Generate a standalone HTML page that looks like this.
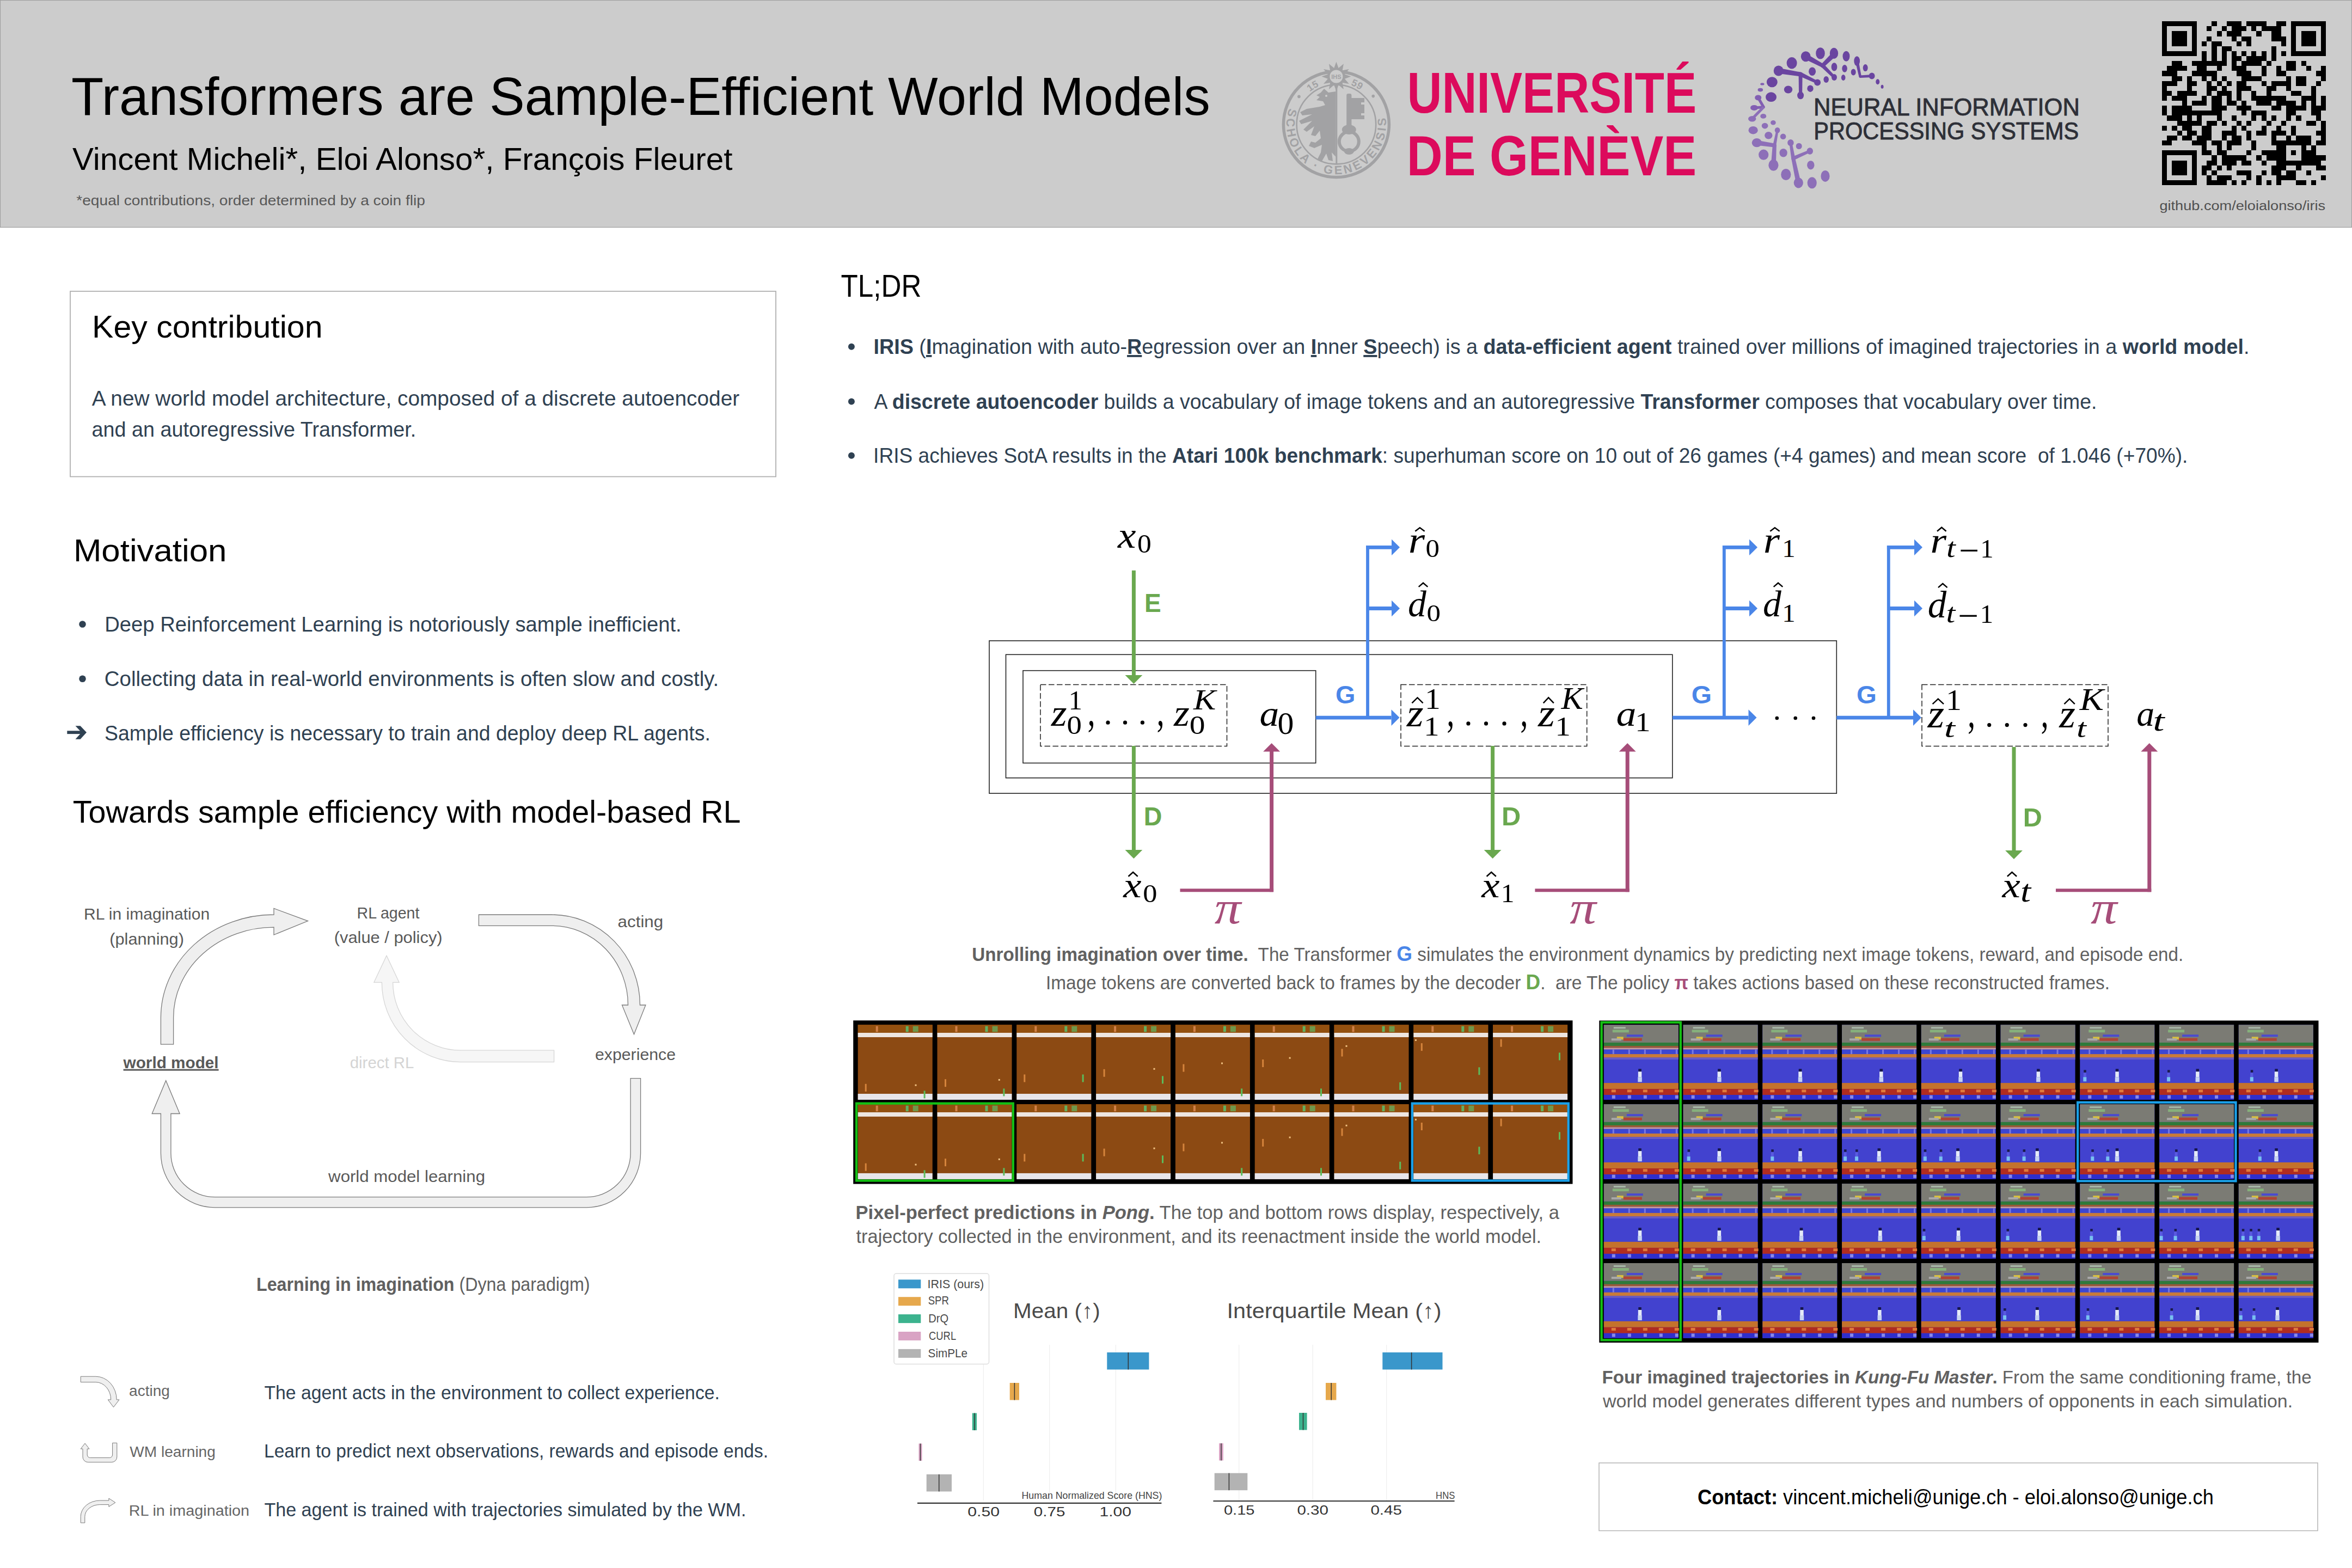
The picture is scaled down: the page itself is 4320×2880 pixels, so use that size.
<!DOCTYPE html>
<html><head><meta charset="utf-8"><title>Transformers are Sample-Efficient World Models</title>
<style>
html,body{margin:0;padding:0;background:#fff;}
body{width:4320px;height:2880px;overflow:hidden;}
svg{display:block;font-family:'Liberation Sans', Arial, sans-serif;}
</style></head><body>
<svg width="4320" height="2880" viewBox="0 0 4320 2880">
<rect x="0.5" y="0.5" width="4319.0" height="417.0" fill="#cccccc" stroke="#a0a0a0" stroke-width="1.2"/>
<text x="131.0" y="211.0" font-size="98.62" fill="#000" textLength="2091.9" lengthAdjust="spacingAndGlyphs">Transformers are Sample-Efficient World Models</text>
<text x="132.9" y="311.9" font-size="57.60" fill="#000" textLength="1212.6" lengthAdjust="spacingAndGlyphs">Vincent Micheli*, Eloi Alonso*, François Fleuret</text>
<text x="140.3" y="376.9" font-size="25.75" fill="#585858" textLength="640.6" lengthAdjust="spacingAndGlyphs">*equal contributions, order determined by a coin flip</text>
<text x="3966.4" y="386.0" font-size="23.85" fill="#505050" textLength="304.8" lengthAdjust="spacingAndGlyphs">github.com/eloialonso/iris</text>
<text x="2584.4" y="207.0" font-size="106.18" fill="#dc0a5c" textLength="531.7" lengthAdjust="spacingAndGlyphs" font-weight="bold">UNIVERSITÉ</text>
<text x="2583.8" y="322.0" font-size="104.00" fill="#dc0a5c" textLength="532.4" lengthAdjust="spacingAndGlyphs" font-weight="bold">DE GENÈVE</text>
<text x="3331.1" y="211.5" font-size="43.49" fill="#2e3038" textLength="488.8" lengthAdjust="spacingAndGlyphs" stroke="#2e3038" stroke-width="0.9">NEURAL INFORMATION</text>
<text x="3331.3" y="256.4" font-size="43.49" fill="#2e3038" textLength="486.9" lengthAdjust="spacingAndGlyphs" stroke="#2e3038" stroke-width="0.9">PROCESSING SYSTEMS</text>
<circle cx="2454.4" cy="228.6" r="97" fill="none" stroke="#a2a2a4" stroke-width="5.5"/>
<circle cx="2454.4" cy="228.6" r="72.8" fill="none" stroke="#a2a2a4" stroke-width="2.6"/>
<defs><path id="sealp" d="M2367.9 198.8A91.5 91.5 0 1 0 2539.8 195.8"/><path id="sealt" d="M2395.4 179.1A77 77 0 0 1 2513.4 179.1"/></defs>
<text font-size="22" font-weight="bold" fill="#a2a2a4"><textPath href="#sealp" textLength="330" lengthAdjust="spacing">SCHOLA · GENEVENSIS</textPath></text>
<text font-size="18" font-weight="bold" fill="#a2a2a4"><textPath href="#sealt" startOffset="11%">15</textPath></text>
<text font-size="18" font-weight="bold" fill="#a2a2a4"><textPath href="#sealt" startOffset="70%">59</textPath></text>
<circle cx="2385.9" cy="177.4" r="2.8" fill="#a2a2a4"/>
<circle cx="2522.2" cy="176.6" r="2.8" fill="#a2a2a4"/>
<polygon points="2454.4,113.6 2458.5,125.1 2467.9,117.2 2465.7,129.3 2477.8,127.1 2469.9,136.5 2481.4,140.6 2469.9,144.7 2477.8,154.1 2465.7,151.9 2467.9,164.0 2458.5,156.1 2454.4,167.6 2450.3,156.1 2440.9,164.0 2443.1,151.9 2431.0,154.1 2438.9,144.7 2427.4,140.6 2438.9,136.5 2431.0,127.1 2443.1,129.3 2440.9,117.2 2450.3,125.1" fill="#a2a2a4"/>
<circle cx="2454.4" cy="140.6" r="13" fill="#cccccc" stroke="#a2a2a4" stroke-width="2"/>
<text x="2454.4" y="145.1" font-size="11.0" fill="#a2a2a4" font-weight="bold" text-anchor="middle">IHS</text>
<line x1="2454.8" y1="160.0" x2="2454.8" y2="300.0" stroke="#a2a2a4" stroke-width="3" />
<path d="M2453.5 168L2440 170L2432 163L2426 170L2418 175L2424 178L2418 184L2430 186L2434 193L2424 196L2400 200L2388 206L2392 212L2410 210L2386 222L2390 228L2410 222L2394 238L2400 242L2414 232L2408 248L2416 250L2424 240L2426 254L2416 262L2408 260L2404 268L2414 272L2428 266L2426 280L2420 292L2428 296L2436 282L2440 294L2448 296L2446 280L2453.5 288Z" fill="#a2a2a4"/>
<circle cx="2436" cy="176" r="2" fill="#cccccc"/>
<rect x="2473.2" y="172.0" width="9.2" height="62.0" fill="#a2a2a4" rx="3"/>
<path d="M2482 180H2506V188H2500V192H2506V208H2500V212H2506V219H2482Z" fill="#a2a2a4"/>
<circle cx="2477.8" cy="260" r="18" fill="none" stroke="#a2a2a4" stroke-width="6"/>
<ellipse cx="2477.8" cy="238" rx="13" ry="9" fill="#a2a2a4"/>
<ellipse cx="2477.8" cy="278" rx="9" ry="6" fill="#a2a2a4"/>
<ellipse cx="3343.5" cy="97.9" rx="8.3" ry="10.7" fill="#6a45a0"/>
<ellipse cx="3368.5" cy="97.9" rx="7.7" ry="10.1" fill="#6a45a0"/>
<ellipse cx="3316.7" cy="103.8" rx="8.9" ry="9.5" fill="#6a45a0"/>
<ellipse cx="3291.1" cy="115.7" rx="9.5" ry="10.7" fill="#6a45a0"/>
<ellipse cx="3391" cy="103.2" rx="6.5" ry="9.5" fill="#6a45a0"/>
<ellipse cx="3328.6" cy="131.2" rx="6.5" ry="7.7" fill="#6a45a0"/>
<ellipse cx="3369" cy="122.9" rx="5.4" ry="7.7" fill="#6a45a0"/>
<ellipse cx="3388.1" cy="125.8" rx="4.8" ry="6.9" fill="#6a45a0"/>
<ellipse cx="3410.7" cy="112.1" rx="5.4" ry="8.9" fill="#6a45a0"/>
<ellipse cx="3426.2" cy="124.6" rx="4.5" ry="6.5" fill="#6a45a0"/>
<ellipse cx="3404.2" cy="132.4" rx="4.5" ry="6" fill="#6a45a0"/>
<ellipse cx="3385.7" cy="142.5" rx="3.8" ry="5.4" fill="#6a45a0"/>
<ellipse cx="3354.2" cy="146.1" rx="4.8" ry="6" fill="#6a45a0"/>
<ellipse cx="3369" cy="141.9" rx="5" ry="6" fill="#6a45a0"/>
<ellipse cx="3438.1" cy="139.5" rx="5.5" ry="6" fill="#6a45a0"/>
<ellipse cx="3448.8" cy="150.2" rx="3.5" ry="5" fill="#6a45a0"/>
<ellipse cx="3457.1" cy="159.2" rx="2.5" ry="3.5" fill="#6a45a0"/>
<ellipse cx="3266.7" cy="130" rx="9" ry="9.5" fill="#6a45a0"/>
<ellipse cx="3338.1" cy="151.4" rx="6" ry="6" fill="#6a45a0"/>
<ellipse cx="3307.1" cy="175.2" rx="6" ry="7" fill="#6a45a0"/>
<ellipse cx="3254.8" cy="150.8" rx="10" ry="9.5" fill="#6a45a0"/>
<ellipse cx="3284.5" cy="164.5" rx="7.7" ry="7.1" fill="#6a45a0"/>
<ellipse cx="3325" cy="162.7" rx="5.7" ry="6.2" fill="#6a45a0"/>
<ellipse cx="3253" cy="178.2" rx="10" ry="8.9" fill="#6a45a0"/>
<ellipse cx="3236.9" cy="154.4" rx="3.6" ry="2.1" fill="#825fb3"/>
<ellipse cx="3233.3" cy="165.1" rx="4.8" ry="3.3" fill="#825fb3"/>
<ellipse cx="3229.2" cy="179.4" rx="6" ry="5" fill="#825fb3"/>
<ellipse cx="3222" cy="197.9" rx="7" ry="5" fill="#825fb3"/>
<ellipse cx="3218.2" cy="218.2" rx="7.2" ry="5.3" fill="#8d6fb8"/>
<ellipse cx="3238.7" cy="213.4" rx="5.5" ry="4.3" fill="#8d6fb8"/>
<ellipse cx="3256.9" cy="225.3" rx="4.8" ry="4.3" fill="#8d6fb8"/>
<ellipse cx="3241.6" cy="231.1" rx="5.9" ry="5.3" fill="#8d6fb8"/>
<ellipse cx="3220.1" cy="239.2" rx="8.6" ry="7.2" fill="#8d6fb8"/>
<ellipse cx="3264.6" cy="239.2" rx="4.8" ry="5.3" fill="#8d6fb8"/>
<ellipse cx="3248.3" cy="248.8" rx="7.2" ry="6.7" fill="#8d6fb8"/>
<ellipse cx="3275.1" cy="250.7" rx="5.3" ry="5.3" fill="#8d6fb8"/>
<ellipse cx="3226.8" cy="262.2" rx="9.1" ry="8.1" fill="#8d6fb8"/>
<ellipse cx="3239.2" cy="284.2" rx="9.1" ry="9.6" fill="#8d6fb8"/>
<ellipse cx="3257.4" cy="303.3" rx="9.1" ry="10.5" fill="#8d6fb8"/>
<ellipse cx="3275.6" cy="280.8" rx="7.2" ry="7.7" fill="#8d6fb8"/>
<ellipse cx="3288.9" cy="262.2" rx="5.7" ry="6.2" fill="#8d6fb8"/>
<ellipse cx="3304.2" cy="268.4" rx="5.5" ry="5.7" fill="#8d6fb8"/>
<ellipse cx="3324.3" cy="277.5" rx="5.7" ry="6.2" fill="#8d6fb8"/>
<ellipse cx="3280.3" cy="320.5" rx="9.1" ry="10.5" fill="#8d6fb8"/>
<ellipse cx="3303.3" cy="335.8" rx="8.6" ry="9.6" fill="#8d6fb8"/>
<ellipse cx="3325.8" cy="303.3" rx="6.7" ry="8.1" fill="#8d6fb8"/>
<ellipse cx="3328.2" cy="335.8" rx="8.6" ry="10.5" fill="#8d6fb8"/>
<ellipse cx="3352.5" cy="323.4" rx="8.1" ry="10.5" fill="#8d6fb8"/>
<polygon points="3314.3,108.2 3345.9,123.6 3349.3,117.4 3319.1,99.4" fill="#6a45a0"/>
<circle cx="3347.6" cy="120.5" r="3.5" fill="#6a45a0"/>
<polygon points="3365.3,96.8 3345.1,118.0 3350.1,123.0 3371.7,103.2" fill="#6a45a0"/>
<circle cx="3347.6" cy="120.5" r="3.5" fill="#6a45a0"/>
<polygon points="3345.1,123.0 3367.2,143.7 3370.8,140.1 3350.1,118.0" fill="#6a45a0"/>
<circle cx="3369.0" cy="141.9" r="2.5" fill="#6a45a0"/>
<polygon points="3407.8,112.7 3414.5,141.2 3418.9,140.2 3413.6,111.5" fill="#6a45a0"/>
<circle cx="3416.7" cy="140.7" r="2.2" fill="#6a45a0"/>
<polygon points="3416.8,142.9 3438.2,142.0 3438.0,137.0 3416.6,138.5" fill="#6a45a0"/>
<circle cx="3438.1" cy="139.5" r="2.5" fill="#6a45a0"/>
<polygon points="3265.9,134.9 3306.5,140.4 3307.7,132.6 3267.5,125.1" fill="#6a45a0"/>
<circle cx="3307.1" cy="136.5" r="4.0" fill="#6a45a0"/>
<polygon points="3305.4,140.1 3337.0,153.7 3339.2,149.1 3308.8,132.9" fill="#6a45a0"/>
<circle cx="3338.1" cy="151.4" r="2.5" fill="#6a45a0"/>
<polygon points="3303.6,136.5 3304.1,175.2 3310.1,175.2 3310.6,136.5" fill="#6a45a0"/>
<circle cx="3307.1" cy="175.2" r="3.0" fill="#6a45a0"/>
<polygon points="3227.0,180.7 3237.1,198.0 3241.5,195.4 3231.4,178.1" fill="#825fb3"/>
<circle cx="3239.3" cy="196.7" r="2.5" fill="#825fb3"/>
<polygon points="3239.1,194.2 3221.8,195.4 3222.2,200.4 3239.5,199.2" fill="#825fb3"/>
<circle cx="3222.0" cy="197.9" r="2.5" fill="#825fb3"/>
<polygon points="3237.5,194.9 3216.4,216.4 3220.0,220.0 3241.1,198.5" fill="#8d6fb8"/>
<circle cx="3218.2" cy="218.2" r="2.5" fill="#8d6fb8"/>
<polygon points="3226.2,266.7 3258.8,270.4 3259.8,263.4 3227.4,257.7" fill="#8d6fb8"/>
<circle cx="3259.3" cy="266.9" r="3.5" fill="#8d6fb8"/>
<polygon points="3262.6,238.8 3256.4,266.3 3262.2,267.5 3266.6,239.6" fill="#8d6fb8"/>
<circle cx="3259.3" cy="266.9" r="3.0" fill="#8d6fb8"/>
<polygon points="3255.8,266.7 3252.9,303.1 3261.9,303.5 3262.8,267.1" fill="#8d6fb8"/>
<circle cx="3257.4" cy="303.3" r="4.5" fill="#8d6fb8"/>
<polygon points="3286.4,262.6 3290.2,291.5 3297.2,290.3 3291.4,261.8" fill="#8d6fb8"/>
<circle cx="3293.7" cy="290.9" r="3.5" fill="#8d6fb8"/>
<polygon points="3295.1,294.1 3325.3,279.8 3323.3,275.2 3292.3,287.7" fill="#8d6fb8"/>
<circle cx="3324.3" cy="277.5" r="2.5" fill="#8d6fb8"/>
<polygon points="3290.3,291.6 3298.9,336.7 3307.7,334.9 3297.1,290.2" fill="#8d6fb8"/>
<circle cx="3303.3" cy="335.8" r="4.5" fill="#8d6fb8"/>
<path d="M3971.20 39.20h63.84v9.12h-63.84zM4062.40 39.20h9.12v9.12h-9.12zM4089.76 39.20h27.36v9.12h-27.36zM4126.24 39.20h36.48v9.12h-36.48zM4180.96 39.20h18.24v9.12h-18.24zM4208.32 39.20h63.84v9.12h-63.84zM3971.20 48.32h9.12v9.12h-9.12zM4025.92 48.32h9.12v9.12h-9.12zM4053.28 48.32h9.12v9.12h-9.12zM4080.64 48.32h9.12v9.12h-9.12zM4098.88 48.32h27.36v9.12h-27.36zM4135.36 48.32h9.12v9.12h-9.12zM4153.60 48.32h36.48v9.12h-36.48zM4208.32 48.32h9.12v9.12h-9.12zM4263.04 48.32h9.12v9.12h-9.12zM3971.20 57.44h9.12v9.12h-9.12zM3989.44 57.44h27.36v9.12h-27.36zM4025.92 57.44h9.12v9.12h-9.12zM4071.52 57.44h9.12v9.12h-9.12zM4089.76 57.44h27.36v9.12h-27.36zM4144.48 57.44h9.12v9.12h-9.12zM4171.84 57.44h18.24v9.12h-18.24zM4208.32 57.44h9.12v9.12h-9.12zM4226.56 57.44h27.36v9.12h-27.36zM4263.04 57.44h9.12v9.12h-9.12zM3971.20 66.56h9.12v9.12h-9.12zM3989.44 66.56h27.36v9.12h-27.36zM4025.92 66.56h9.12v9.12h-9.12zM4053.28 66.56h9.12v9.12h-9.12zM4098.88 66.56h9.12v9.12h-9.12zM4117.12 66.56h18.24v9.12h-18.24zM4171.84 66.56h27.36v9.12h-27.36zM4208.32 66.56h9.12v9.12h-9.12zM4226.56 66.56h27.36v9.12h-27.36zM4263.04 66.56h9.12v9.12h-9.12zM3971.20 75.68h9.12v9.12h-9.12zM3989.44 75.68h27.36v9.12h-27.36zM4025.92 75.68h9.12v9.12h-9.12zM4044.16 75.68h9.12v9.12h-9.12zM4062.40 75.68h18.24v9.12h-18.24zM4108.00 75.68h9.12v9.12h-9.12zM4126.24 75.68h9.12v9.12h-9.12zM4190.08 75.68h9.12v9.12h-9.12zM4208.32 75.68h9.12v9.12h-9.12zM4226.56 75.68h27.36v9.12h-27.36zM4263.04 75.68h9.12v9.12h-9.12zM3971.20 84.80h9.12v9.12h-9.12zM4025.92 84.80h9.12v9.12h-9.12zM4062.40 84.80h9.12v9.12h-9.12zM4080.64 84.80h18.24v9.12h-18.24zM4171.84 84.80h9.12v9.12h-9.12zM4208.32 84.80h9.12v9.12h-9.12zM4263.04 84.80h9.12v9.12h-9.12zM3971.20 93.92h63.84v9.12h-63.84zM4044.16 93.92h9.12v9.12h-9.12zM4062.40 93.92h9.12v9.12h-9.12zM4080.64 93.92h9.12v9.12h-9.12zM4098.88 93.92h9.12v9.12h-9.12zM4117.12 93.92h9.12v9.12h-9.12zM4135.36 93.92h9.12v9.12h-9.12zM4153.60 93.92h9.12v9.12h-9.12zM4171.84 93.92h9.12v9.12h-9.12zM4190.08 93.92h9.12v9.12h-9.12zM4208.32 93.92h63.84v9.12h-63.84zM4044.16 103.04h9.12v9.12h-9.12zM4062.40 103.04h9.12v9.12h-9.12zM4080.64 103.04h9.12v9.12h-9.12zM4098.88 103.04h18.24v9.12h-18.24zM4126.24 103.04h36.48v9.12h-36.48zM4171.84 103.04h9.12v9.12h-9.12zM3989.44 112.16h18.24v9.12h-18.24zM4025.92 112.16h63.84v9.12h-63.84zM4098.88 112.16h9.12v9.12h-9.12zM4117.12 112.16h36.48v9.12h-36.48zM4162.72 112.16h9.12v9.12h-9.12zM4199.20 112.16h18.24v9.12h-18.24zM4226.56 112.16h9.12v9.12h-9.12zM3980.32 121.28h36.48v9.12h-36.48zM4035.04 121.28h18.24v9.12h-18.24zM4071.52 121.28h9.12v9.12h-9.12zM4098.88 121.28h27.36v9.12h-27.36zM4153.60 121.28h9.12v9.12h-9.12zM4180.96 121.28h9.12v9.12h-9.12zM4199.20 121.28h18.24v9.12h-18.24zM4235.68 121.28h9.12v9.12h-9.12zM4263.04 121.28h9.12v9.12h-9.12zM3971.20 130.40h27.36v9.12h-27.36zM4025.92 130.40h45.60v9.12h-45.60zM4108.00 130.40h27.36v9.12h-27.36zM4153.60 130.40h9.12v9.12h-9.12zM4180.96 130.40h18.24v9.12h-18.24zM4253.92 130.40h18.24v9.12h-18.24zM3989.44 139.52h18.24v9.12h-18.24zM4016.80 139.52h9.12v9.12h-9.12zM4044.16 139.52h9.12v9.12h-9.12zM4062.40 139.52h9.12v9.12h-9.12zM4080.64 139.52h9.12v9.12h-9.12zM4117.12 139.52h36.48v9.12h-36.48zM4199.20 139.52h9.12v9.12h-9.12zM4217.44 139.52h18.24v9.12h-18.24zM4263.04 139.52h9.12v9.12h-9.12zM3971.20 148.64h27.36v9.12h-27.36zM4016.80 148.64h18.24v9.12h-18.24zM4053.28 148.64h9.12v9.12h-9.12zM4071.52 148.64h9.12v9.12h-9.12zM4089.76 148.64h9.12v9.12h-9.12zM4108.00 148.64h18.24v9.12h-18.24zM4153.60 148.64h9.12v9.12h-9.12zM4171.84 148.64h36.48v9.12h-36.48zM4217.44 148.64h18.24v9.12h-18.24zM4253.92 148.64h9.12v9.12h-9.12zM3971.20 157.76h9.12v9.12h-9.12zM4016.80 157.76h9.12v9.12h-9.12zM4053.28 157.76h18.24v9.12h-18.24zM4080.64 157.76h9.12v9.12h-9.12zM4108.00 157.76h27.36v9.12h-27.36zM4162.72 157.76h18.24v9.12h-18.24zM4199.20 157.76h9.12v9.12h-9.12zM4244.80 157.76h9.12v9.12h-9.12zM3971.20 166.88h18.24v9.12h-18.24zM3998.56 166.88h36.48v9.12h-36.48zM4053.28 166.88h9.12v9.12h-9.12zM4071.52 166.88h27.36v9.12h-27.36zM4108.00 166.88h9.12v9.12h-9.12zM4135.36 166.88h9.12v9.12h-9.12zM4162.72 166.88h9.12v9.12h-9.12zM4208.32 166.88h18.24v9.12h-18.24zM4244.80 166.88h9.12v9.12h-9.12zM3971.20 176.00h9.12v9.12h-9.12zM3989.44 176.00h27.36v9.12h-27.36zM4044.16 176.00h9.12v9.12h-9.12zM4062.40 176.00h18.24v9.12h-18.24zM4089.76 176.00h9.12v9.12h-9.12zM4108.00 176.00h9.12v9.12h-9.12zM4135.36 176.00h63.84v9.12h-63.84zM4226.56 176.00h27.36v9.12h-27.36zM4263.04 176.00h9.12v9.12h-9.12zM4007.68 185.12h9.12v9.12h-9.12zM4025.92 185.12h27.36v9.12h-27.36zM4062.40 185.12h18.24v9.12h-18.24zM4089.76 185.12h18.24v9.12h-18.24zM4117.12 185.12h9.12v9.12h-9.12zM4144.48 185.12h27.36v9.12h-27.36zM4180.96 185.12h36.48v9.12h-36.48zM4226.56 185.12h9.12v9.12h-9.12zM4244.80 185.12h9.12v9.12h-9.12zM4263.04 185.12h9.12v9.12h-9.12zM3971.20 194.24h9.12v9.12h-9.12zM3989.44 194.24h36.48v9.12h-36.48zM4062.40 194.24h27.36v9.12h-27.36zM4108.00 194.24h27.36v9.12h-27.36zM4171.84 194.24h18.24v9.12h-18.24zM4199.20 194.24h36.48v9.12h-36.48zM4244.80 194.24h27.36v9.12h-27.36zM3971.20 203.36h9.12v9.12h-9.12zM3989.44 203.36h91.20v9.12h-91.20zM4117.12 203.36h9.12v9.12h-9.12zM4135.36 203.36h27.36v9.12h-27.36zM4199.20 203.36h18.24v9.12h-18.24zM4244.80 203.36h18.24v9.12h-18.24zM3980.32 212.48h27.36v9.12h-27.36zM4016.80 212.48h9.12v9.12h-9.12zM4035.04 212.48h9.12v9.12h-9.12zM4071.52 212.48h9.12v9.12h-9.12zM4098.88 212.48h9.12v9.12h-9.12zM4135.36 212.48h9.12v9.12h-9.12zM4153.60 212.48h9.12v9.12h-9.12zM4171.84 212.48h9.12v9.12h-9.12zM4199.20 212.48h9.12v9.12h-9.12zM4217.44 212.48h9.12v9.12h-9.12zM4253.92 212.48h9.12v9.12h-9.12zM3998.56 221.60h45.60v9.12h-45.60zM4053.28 221.60h18.24v9.12h-18.24zM4080.64 221.60h9.12v9.12h-9.12zM4108.00 221.60h9.12v9.12h-9.12zM4126.24 221.60h9.12v9.12h-9.12zM4162.72 221.60h9.12v9.12h-9.12zM4190.08 221.60h9.12v9.12h-9.12zM4235.68 221.60h18.24v9.12h-18.24zM4263.04 221.60h9.12v9.12h-9.12zM3971.20 230.72h9.12v9.12h-9.12zM3989.44 230.72h9.12v9.12h-9.12zM4007.68 230.72h18.24v9.12h-18.24zM4044.16 230.72h18.24v9.12h-18.24zM4098.88 230.72h9.12v9.12h-9.12zM4117.12 230.72h9.12v9.12h-9.12zM4153.60 230.72h9.12v9.12h-9.12zM4180.96 230.72h9.12v9.12h-9.12zM4208.32 230.72h9.12v9.12h-9.12zM4263.04 230.72h9.12v9.12h-9.12zM3998.56 239.84h9.12v9.12h-9.12zM4016.80 239.84h18.24v9.12h-18.24zM4044.16 239.84h18.24v9.12h-18.24zM4080.64 239.84h27.36v9.12h-27.36zM4126.24 239.84h9.12v9.12h-9.12zM4144.48 239.84h18.24v9.12h-18.24zM4171.84 239.84h27.36v9.12h-27.36zM4208.32 239.84h9.12v9.12h-9.12zM4253.92 239.84h18.24v9.12h-18.24zM3980.32 248.96h18.24v9.12h-18.24zM4007.68 248.96h18.24v9.12h-18.24zM4035.04 248.96h27.36v9.12h-27.36zM4080.64 248.96h9.12v9.12h-9.12zM4098.88 248.96h18.24v9.12h-18.24zM4126.24 248.96h9.12v9.12h-9.12zM4171.84 248.96h9.12v9.12h-9.12zM4199.20 248.96h9.12v9.12h-9.12zM4217.44 248.96h27.36v9.12h-27.36zM4263.04 248.96h9.12v9.12h-9.12zM3971.20 258.08h18.24v9.12h-18.24zM4025.92 258.08h27.36v9.12h-27.36zM4062.40 258.08h18.24v9.12h-18.24zM4089.76 258.08h27.36v9.12h-27.36zM4135.36 258.08h9.12v9.12h-9.12zM4171.84 258.08h72.96v9.12h-72.96zM4253.92 258.08h18.24v9.12h-18.24zM4044.16 267.20h9.12v9.12h-9.12zM4071.52 267.20h9.12v9.12h-9.12zM4089.76 267.20h9.12v9.12h-9.12zM4135.36 267.20h9.12v9.12h-9.12zM4180.96 267.20h18.24v9.12h-18.24zM4226.56 267.20h9.12v9.12h-9.12zM4244.80 267.20h9.12v9.12h-9.12zM3971.20 276.32h63.84v9.12h-63.84zM4044.16 276.32h18.24v9.12h-18.24zM4071.52 276.32h18.24v9.12h-18.24zM4126.24 276.32h9.12v9.12h-9.12zM4153.60 276.32h45.60v9.12h-45.60zM4208.32 276.32h9.12v9.12h-9.12zM4226.56 276.32h27.36v9.12h-27.36zM3971.20 285.44h9.12v9.12h-9.12zM4025.92 285.44h9.12v9.12h-9.12zM4062.40 285.44h9.12v9.12h-9.12zM4080.64 285.44h45.60v9.12h-45.60zM4144.48 285.44h9.12v9.12h-9.12zM4162.72 285.44h36.48v9.12h-36.48zM4226.56 285.44h45.60v9.12h-45.60zM3971.20 294.56h9.12v9.12h-9.12zM3989.44 294.56h27.36v9.12h-27.36zM4025.92 294.56h9.12v9.12h-9.12zM4053.28 294.56h18.24v9.12h-18.24zM4080.64 294.56h27.36v9.12h-27.36zM4117.12 294.56h18.24v9.12h-18.24zM4153.60 294.56h9.12v9.12h-9.12zM4180.96 294.56h82.08v9.12h-82.08zM3971.20 303.68h9.12v9.12h-9.12zM3989.44 303.68h27.36v9.12h-27.36zM4025.92 303.68h9.12v9.12h-9.12zM4044.16 303.68h18.24v9.12h-18.24zM4071.52 303.68h9.12v9.12h-9.12zM4089.76 303.68h9.12v9.12h-9.12zM4171.84 303.68h27.36v9.12h-27.36zM4217.44 303.68h9.12v9.12h-9.12zM4253.92 303.68h18.24v9.12h-18.24zM3971.20 312.80h9.12v9.12h-9.12zM3989.44 312.80h27.36v9.12h-27.36zM4025.92 312.80h9.12v9.12h-9.12zM4044.16 312.80h9.12v9.12h-9.12zM4062.40 312.80h9.12v9.12h-9.12zM4108.00 312.80h27.36v9.12h-27.36zM4153.60 312.80h9.12v9.12h-9.12zM4171.84 312.80h18.24v9.12h-18.24zM4199.20 312.80h18.24v9.12h-18.24zM4235.68 312.80h9.12v9.12h-9.12zM3971.20 321.92h9.12v9.12h-9.12zM4025.92 321.92h9.12v9.12h-9.12zM4053.28 321.92h9.12v9.12h-9.12zM4071.52 321.92h27.36v9.12h-27.36zM4126.24 321.92h9.12v9.12h-9.12zM4144.48 321.92h9.12v9.12h-9.12zM4180.96 321.92h36.48v9.12h-36.48zM4263.04 321.92h9.12v9.12h-9.12zM3971.20 331.04h63.84v9.12h-63.84zM4053.28 331.04h36.48v9.12h-36.48zM4098.88 331.04h9.12v9.12h-9.12zM4117.12 331.04h9.12v9.12h-9.12zM4144.48 331.04h9.12v9.12h-9.12zM4162.72 331.04h9.12v9.12h-9.12zM4180.96 331.04h9.12v9.12h-9.12zM4217.44 331.04h18.24v9.12h-18.24zM4244.80 331.04h9.12v9.12h-9.12z" fill="#000" shape-rendering="crispEdges"/>
<rect x="129.0" y="535.0" width="1296.0" height="340.5" fill="#fff" stroke="#b0b0b0" stroke-width="1.8"/>
<text x="169.1" y="620.0" font-size="57.89" fill="#000" textLength="423.4" lengthAdjust="spacingAndGlyphs">Key contribution</text>
<text x="168.8" y="744.9" font-size="39.27" fill="#2f4152" textLength="1189.4" lengthAdjust="spacingAndGlyphs">A new world model architecture, composed of a discrete autoencoder</text>
<text x="168.6" y="802.1" font-size="39.27" fill="#2f4152" textLength="595.7" lengthAdjust="spacingAndGlyphs">and an autoregressive Transformer.</text>
<text x="134.9" y="1030.8" font-size="57.60" fill="#000" textLength="281.6" lengthAdjust="spacingAndGlyphs">Motivation</text>
<text x="192.2" y="1159.8" font-size="38.69" fill="#2f4152" textLength="1059.5" lengthAdjust="spacingAndGlyphs">Deep Reinforcement Learning is notoriously sample inefficient.</text>
<text x="191.8" y="1260.1" font-size="38.69" fill="#2f4152" textLength="1128.5" lengthAdjust="spacingAndGlyphs">Collecting data in real-world environments is often slow and costly.</text>
<text x="192.0" y="1360.4" font-size="38.69" fill="#2f4152" textLength="1112.8" lengthAdjust="spacingAndGlyphs">Sample efficiency is necessary to train and deploy deep RL agents.</text>
<circle cx="151.5" cy="1146.5" r="6.3" fill="#2f4152"/>
<circle cx="151.5" cy="1246.8" r="6.3" fill="#2f4152"/>
<rect x="123.3" y="1342.3" width="28.0" height="5.8" fill="#2f4152"/>
<path d="M138.5 1333.2L147.5 1333.2L159 1345.2L147.5 1357.8L138.5 1357.8L149.8 1345.2Z" fill="#2f4152"/>
<text x="133.8" y="1510.8" font-size="57.60" fill="#000" textLength="1226.7" lengthAdjust="spacingAndGlyphs">Towards sample efficiency with model-based RL</text>
<text x="1544.6" y="544.5" font-size="56.44" fill="#000" textLength="147.8" lengthAdjust="spacingAndGlyphs">TL;DR</text>
<text x="1604.5" y="650.0" font-size="38.84" fill="#2f4152" textLength="2527.0" lengthAdjust="spacingAndGlyphs"><tspan font-weight="bold">IRIS</tspan> (<tspan text-decoration="underline" font-weight="bold">I</tspan>magination with auto-<tspan text-decoration="underline" font-weight="bold">R</tspan>egression over an <tspan text-decoration="underline" font-weight="bold">I</tspan>nner <tspan text-decoration="underline" font-weight="bold">S</tspan>peech) is a <tspan font-weight="bold">data-efficient agent</tspan> trained over millions of imagined trajectories in a <tspan font-weight="bold">world model</tspan>.</text>
<circle cx="1563.9" cy="636.8" r="6" fill="#2f4152"/>
<text x="1605.5" y="750.6" font-size="38.84" fill="#2f4152" textLength="2245.9" lengthAdjust="spacingAndGlyphs">A <tspan font-weight="bold">discrete autoencoder</tspan> builds a vocabulary of image tokens and an autoregressive <tspan font-weight="bold">Transformer</tspan> composes that vocabulary over time.</text>
<circle cx="1563.9" cy="737.4" r="6" fill="#2f4152"/>
<text x="1604.1" y="850.0" font-size="38.84" fill="#2f4152" textLength="2414.3" lengthAdjust="spacingAndGlyphs" xml:space="preserve">IRIS achieves SotA results in the <tspan font-weight="bold">Atari 100k benchmark</tspan>: superhuman score on 10 out of 26 games (+4 games) and mean score  of 1.046 (+70%).</text>
<circle cx="1563.9" cy="836.8" r="6" fill="#2f4152"/>
<rect x="2937.0" y="2687.0" width="1320.0" height="124.5" fill="#fff" stroke="#b4b4b4" stroke-width="1.5"/>
<text x="3118.0" y="2763.4" font-size="38.11" fill="#000" textLength="947.9" lengthAdjust="spacingAndGlyphs"><tspan font-weight="bold">Contact:</tspan> vincent.micheli@unige.ch - eloi.alonso@unige.ch</text>
<path d="M295.4 1918.2L295.4 1869A207.6 189 0 0 1 503 1680L503 1668.5L565.5 1691.6L503 1717L503 1703.2A184.4 165.8 0 0 0 318.6 1869L318.6 1918.2Z" fill="#efefef" stroke="#7a7a7a" stroke-width="1.3"/>
<path d="M879.4 1680L1013.6 1680A161.9 166 0 0 1 1175.5 1846L1185.9 1846L1164.5 1899.7L1142.5 1846L1153.5 1846A140 145.7 0 0 0 1013.6 1700.3L879.4 1700.3Z" fill="#efefef" stroke="#7a7a7a" stroke-width="1.3"/>
<path d="M1017.6 1929.2L845.9 1929.2A124.3 124.9 0 0 1 721.6 1804.3L733.1 1804.3L710 1755.2L686.9 1804.3L701.3 1804.3A144.6 146.3 0 0 0 845.9 1950.6L1017.6 1950.6Z" fill="#f6f6f6" stroke="#d6d6d6" stroke-width="1.3"/>
<path d="M1158.1 1980.7L1176.6 1980.7L1176.6 2118A99.6 99.8 0 0 1 1077 2217.8L394.9 2217.8A99.5 99.8 0 0 1 295.4 2118L295.4 2045.5L279.2 2045.5L304.7 1984.7L330.1 2045.5L313.9 2045.5L313.9 2118A81 80.7 0 0 0 394.9 2198.7L1077 2198.7A81.1 80.7 0 0 0 1158.1 2118Z" fill="#efefef" stroke="#7a7a7a" stroke-width="1.3"/>
<text x="154.1" y="1688.7" font-size="30.11" fill="#595959" textLength="231.1" lengthAdjust="spacingAndGlyphs">RL in imagination</text>
<text x="201.3" y="1735.0" font-size="30.11" fill="#595959" textLength="136.6" lengthAdjust="spacingAndGlyphs">(planning)</text>
<text x="655.5" y="1686.6" font-size="30.11" fill="#595959" textLength="114.9" lengthAdjust="spacingAndGlyphs">RL agent</text>
<text x="613.7" y="1731.9" font-size="30.11" fill="#595959" textLength="198.9" lengthAdjust="spacingAndGlyphs">(value / policy)</text>
<text x="1134.6" y="1702.5" font-size="30.11" fill="#595959" textLength="83.6" lengthAdjust="spacingAndGlyphs">acting</text>
<text x="1093.0" y="1947.4" font-size="30.11" fill="#595959" textLength="148.0" lengthAdjust="spacingAndGlyphs">experience</text>
<text x="226.6" y="1961.6" font-size="30.11" fill="#595959" textLength="175.0" lengthAdjust="spacingAndGlyphs" font-weight="bold" text-decoration="underline">world model</text>
<text x="642.7" y="1961.6" font-size="30.11" fill="#d4d4d4" textLength="117.7" lengthAdjust="spacingAndGlyphs">direct RL</text>
<text x="603.1" y="2171.0" font-size="30.11" fill="#595959" textLength="287.9" lengthAdjust="spacingAndGlyphs">world model learning</text>
<text x="471.0" y="2370.7" font-size="34.18" fill="#606060" textLength="612.5" lengthAdjust="spacingAndGlyphs"><tspan font-weight="bold">Learning in imagination</tspan> (Dyna paradigm)</text>
<path d="M148.2 2528.2L175.9 2528.2A38.3 42.7 0 0 1 214.2 2570.9L219 2570.9L208.5 2584.6L198.3 2570.9L203.7 2570.9A27.8 32.2 0 0 0 175.9 2538.7L148.2 2538.7Z" fill="#efefef" stroke="#7a7a7a" stroke-width="1"/>
<path d="M206.6 2650.3L214.8 2650.3L214.8 2676A9.7 9.7 0 0 1 205.1 2685.7L161.7 2685.7A9.7 9.7 0 0 1 152 2676L152 2661.2L148.2 2661.2L156.1 2651L164 2661.2L160.2 2661.2L160.2 2672A5.5 5.5 0 0 0 165.7 2677.5L201.1 2677.5A5.5 5.5 0 0 0 206.6 2672Z" fill="#efefef" stroke="#7a7a7a" stroke-width="1"/>
<path d="M148.2 2797L148.2 2785.6A35.4 29.6 0 0 1 183.6 2756L199.9 2756L199.9 2752L211.9 2759.8L199.9 2767.4L199.9 2763.6L183.6 2763.6A27.8 22 0 0 0 155.8 2785.6L155.8 2797Z" fill="#efefef" stroke="#7a7a7a" stroke-width="1"/>
<text x="237.1" y="2564.0" font-size="27.93" fill="#666666" textLength="74.8" lengthAdjust="spacingAndGlyphs">acting</text>
<text x="238.2" y="2676.0" font-size="27.93" fill="#666666" textLength="157.7" lengthAdjust="spacingAndGlyphs">WM learning</text>
<text x="236.7" y="2784.0" font-size="27.93" fill="#666666" textLength="221.4" lengthAdjust="spacingAndGlyphs">RL in imagination</text>
<text x="485.4" y="2569.5" font-size="35.20" fill="#2f4152" textLength="836.5" lengthAdjust="spacingAndGlyphs">The agent acts in the environment to collect experience.</text>
<text x="485.0" y="2676.8" font-size="35.20" fill="#2f4152" textLength="926.0" lengthAdjust="spacingAndGlyphs">Learn to predict next observations, rewards and episode ends.</text>
<text x="485.4" y="2785.4" font-size="35.20" fill="#2f4152" textLength="885.0" lengthAdjust="spacingAndGlyphs">The agent is trained with trajectories simulated by the WM.</text>
<rect x="1817.0" y="1176.9" width="1556.3" height="280.3" fill="none" stroke="#222" stroke-width="1.6"/>
<rect x="1847.5" y="1202.3" width="1224.3" height="226.5" fill="none" stroke="#222" stroke-width="1.6"/>
<rect x="1879.0" y="1231.7" width="537.7" height="169.8" fill="none" stroke="#222" stroke-width="1.6"/>
<rect x="1911.0" y="1257.5" width="342.5" height="113.0" fill="none" stroke="#222" stroke-width="1.5" stroke-dasharray="10.5 4.5"/>
<rect x="2573.0" y="1257.5" width="341.7" height="113.0" fill="none" stroke="#222" stroke-width="1.5" stroke-dasharray="10.5 4.5"/>
<rect x="3530.0" y="1257.5" width="342.0" height="113.0" fill="none" stroke="#222" stroke-width="1.5" stroke-dasharray="10.5 4.5"/>
<line x1="2082.4" y1="1047.7" x2="2082.4" y2="1240.0" stroke="#6aa84f" stroke-width="7" />
<path d="M2066.5 1240.0L2098.3 1240.0L2082.4 1256.0Z" fill="#6aa84f"/>
<line x1="2082.4" y1="1370.0" x2="2082.4" y2="1561.0" stroke="#6aa84f" stroke-width="7" />
<path d="M2066.5 1561.0L2098.3 1561.0L2082.4 1577.0Z" fill="#6aa84f"/>
<line x1="2741.6" y1="1370.0" x2="2741.6" y2="1561.0" stroke="#6aa84f" stroke-width="7" />
<path d="M2725.7 1561.0L2757.5 1561.0L2741.6 1577.0Z" fill="#6aa84f"/>
<line x1="3699.0" y1="1372.0" x2="3699.0" y2="1562.0" stroke="#6aa84f" stroke-width="7" />
<path d="M3683.1 1562.0L3714.9 1562.0L3699.0 1578.0Z" fill="#6aa84f"/>
<line x1="2416.7" y1="1318.1" x2="2555.5" y2="1318.1" stroke="#4a86e8" stroke-width="6.8" />
<path d="M2555.5 1303.3L2555.5 1332.9L2570.5 1318.1Z" fill="#4a86e8"/>
<line x1="2512.0" y1="1321.0" x2="2512.0" y2="1002.0" stroke="#4a86e8" stroke-width="5.8" />
<line x1="2509.1" y1="1005.3" x2="2556.0" y2="1005.3" stroke="#4a86e8" stroke-width="6.8" />
<path d="M2556.0 990.5L2556.0 1020.1L2571.0 1005.3Z" fill="#4a86e8"/>
<line x1="2512.0" y1="1117.5" x2="2556.0" y2="1117.5" stroke="#4a86e8" stroke-width="6.8" />
<path d="M2556.0 1102.7L2556.0 1132.3L2571.0 1117.5Z" fill="#4a86e8"/>
<line x1="3071.8" y1="1318.1" x2="3211.5" y2="1318.1" stroke="#4a86e8" stroke-width="6.8" />
<path d="M3211.5 1303.3L3211.5 1332.9L3226.5 1318.1Z" fill="#4a86e8"/>
<line x1="3166.8" y1="1321.0" x2="3166.8" y2="1002.0" stroke="#4a86e8" stroke-width="5.8" />
<line x1="3163.9" y1="1005.3" x2="3213.0" y2="1005.3" stroke="#4a86e8" stroke-width="6.8" />
<path d="M3213.0 990.5L3213.0 1020.1L3228.0 1005.3Z" fill="#4a86e8"/>
<line x1="3166.8" y1="1117.5" x2="3213.0" y2="1117.5" stroke="#4a86e8" stroke-width="6.8" />
<path d="M3213.0 1102.7L3213.0 1132.3L3228.0 1117.5Z" fill="#4a86e8"/>
<line x1="3373.3" y1="1318.1" x2="3514.0" y2="1318.1" stroke="#4a86e8" stroke-width="6.8" />
<path d="M3514.0 1303.3L3514.0 1332.9L3529.0 1318.1Z" fill="#4a86e8"/>
<line x1="3468.8" y1="1321.0" x2="3468.8" y2="1002.0" stroke="#4a86e8" stroke-width="5.8" />
<line x1="3465.9" y1="1005.3" x2="3516.0" y2="1005.3" stroke="#4a86e8" stroke-width="6.8" />
<path d="M3516.0 990.5L3516.0 1020.1L3531.0 1005.3Z" fill="#4a86e8"/>
<line x1="3468.8" y1="1117.5" x2="3516.0" y2="1117.5" stroke="#4a86e8" stroke-width="6.8" />
<path d="M3516.0 1102.7L3516.0 1132.3L3531.0 1117.5Z" fill="#4a86e8"/>
<line x1="2167.5" y1="1635.3" x2="2339.1" y2="1635.3" stroke="#a64d79" stroke-width="6" />
<line x1="2335.6" y1="1638.3" x2="2335.6" y2="1380.0" stroke="#a64d79" stroke-width="7" />
<path d="M2320.1 1380.6L2351.1 1380.6L2335.6 1365Z" fill="#a64d79"/>
<line x1="2819.4" y1="1635.3" x2="2992.7" y2="1635.3" stroke="#a64d79" stroke-width="6" />
<line x1="2989.2" y1="1638.3" x2="2989.2" y2="1380.0" stroke="#a64d79" stroke-width="7" />
<path d="M2973.7 1380.6L3004.7 1380.6L2989.2 1365Z" fill="#a64d79"/>
<line x1="3776.0" y1="1635.3" x2="3951.3" y2="1635.3" stroke="#a64d79" stroke-width="6" />
<line x1="3947.8" y1="1638.3" x2="3947.8" y2="1380.0" stroke="#a64d79" stroke-width="7" />
<path d="M3932.3 1380.6L3963.3 1380.6L3947.8 1365Z" fill="#a64d79"/>
<text x="2101.9" y="1123.8" font-size="48.29" fill="#6aa84f" textLength="30.7" lengthAdjust="spacingAndGlyphs" font-weight="bold">E</text>
<text x="2100.8" y="1515.8" font-size="48.29" fill="#6aa84f" textLength="33.7" lengthAdjust="spacingAndGlyphs" font-weight="bold">D</text>
<text x="2757.9" y="1515.8" font-size="48.29" fill="#6aa84f" textLength="35.3" lengthAdjust="spacingAndGlyphs" font-weight="bold">D</text>
<text x="3715.7" y="1518.0" font-size="48.29" fill="#6aa84f" textLength="35.1" lengthAdjust="spacingAndGlyphs" font-weight="bold">D</text>
<text x="2452.9" y="1291.8" font-size="45.82" fill="#4a86e8" textLength="36.4" lengthAdjust="spacingAndGlyphs" font-weight="bold">G</text>
<text x="3106.7" y="1291.5" font-size="45.82" fill="#4a86e8" textLength="37.3" lengthAdjust="spacingAndGlyphs" font-weight="bold">G</text>
<text x="3410.1" y="1291.5" font-size="45.82" fill="#4a86e8" textLength="36.9" lengthAdjust="spacingAndGlyphs" font-weight="bold">G</text>
<circle cx="3263.8" cy="1319" r="3.3" fill="#000"/>
<circle cx="3297.7" cy="1319" r="3.3" fill="#000"/>
<circle cx="3331" cy="1319" r="3.3" fill="#000"/>
<text x="2053.0" y="1005.9" font-size="67.4" fill="#000" font-family="'Liberation Serif', 'Times New Roman', serif" font-style="italic" textLength="33.5" lengthAdjust="spacingAndGlyphs">x</text>
<text x="2089.1" y="1015.3" font-size="48.7" fill="#000" font-family="'Liberation Serif', 'Times New Roman', serif" textLength="25.8" lengthAdjust="spacingAndGlyphs">0</text>
<text x="2586.7" y="1014.9" font-size="66.6" fill="#000" font-family="'Liberation Serif', 'Times New Roman', serif" font-style="italic" textLength="30.3" lengthAdjust="spacingAndGlyphs">r</text>
<path d="M2599.3 975.8L2607.9 969.3L2616.6 975.8" fill="none" stroke="#000" stroke-width="2.5" stroke-linejoin="miter" stroke-linecap="butt"/>
<text x="2585.9" y="1132.2" font-size="67.0" fill="#000" font-family="'Liberation Serif', 'Times New Roman', serif" font-style="italic" textLength="33.8" lengthAdjust="spacingAndGlyphs">d</text>
<path d="M2605.7 1077.9L2614.0 1070.7L2622.3 1077.9" fill="none" stroke="#000" stroke-width="2.5" stroke-linejoin="miter" stroke-linecap="butt"/>
<text x="2618.5" y="1022.7" font-size="45.5" fill="#000" font-family="'Liberation Serif', 'Times New Roman', serif" textLength="25.5" lengthAdjust="spacingAndGlyphs">0</text>
<text x="2620.4" y="1141.3" font-size="45.3" fill="#000" font-family="'Liberation Serif', 'Times New Roman', serif" textLength="25.5" lengthAdjust="spacingAndGlyphs">0</text>
<text x="3238.7" y="1014.9" font-size="66.6" fill="#000" font-family="'Liberation Serif', 'Times New Roman', serif" font-style="italic" textLength="30.3" lengthAdjust="spacingAndGlyphs">r</text>
<path d="M3251.3 975.8L3259.9 969.3L3268.6 975.8" fill="none" stroke="#000" stroke-width="2.5" stroke-linejoin="miter" stroke-linecap="butt"/>
<text x="3237.9" y="1132.2" font-size="67.0" fill="#000" font-family="'Liberation Serif', 'Times New Roman', serif" font-style="italic" textLength="33.8" lengthAdjust="spacingAndGlyphs">d</text>
<path d="M3257.7 1077.9L3266.0 1070.7L3274.3 1077.9" fill="none" stroke="#000" stroke-width="2.5" stroke-linejoin="miter" stroke-linecap="butt"/>
<text x="3273.2" y="1023.2" font-size="46.5" fill="#000" font-family="'Liberation Serif', 'Times New Roman', serif" textLength="24.4" lengthAdjust="spacingAndGlyphs">1</text>
<text x="3273.2" y="1141.8" font-size="46.4" fill="#000" font-family="'Liberation Serif', 'Times New Roman', serif" textLength="24.4" lengthAdjust="spacingAndGlyphs">1</text>
<text x="3545.5" y="1014.8" font-size="66.4" fill="#000" font-family="'Liberation Serif', 'Times New Roman', serif" font-style="italic" textLength="29.6" lengthAdjust="spacingAndGlyphs">r</text>
<path d="M3558.0 975.8L3566.3 968.7L3574.6 975.8" fill="none" stroke="#000" stroke-width="2.5" stroke-linejoin="miter" stroke-linecap="butt"/>
<text x="3575.1" y="1023.3" font-size="51.1" fill="#000" font-family="'Liberation Serif', 'Times New Roman', serif" font-style="italic" textLength="16.8" lengthAdjust="spacingAndGlyphs">t</text>
<rect x="3601.4" y="1009.7" width="30.6" height="3.2" fill="#000"/>
<text x="3637.3" y="1023.8" font-size="48.3" fill="#000" font-family="'Liberation Serif', 'Times New Roman', serif" textLength="24.4" lengthAdjust="spacingAndGlyphs">1</text>
<text x="3540.7" y="1134.0" font-size="69.6" fill="#000" font-family="'Liberation Serif', 'Times New Roman', serif" font-style="italic" textLength="34.4" lengthAdjust="spacingAndGlyphs">d</text>
<path d="M3560.0 1079.1L3568.3 1072.0L3576.6 1079.1" fill="none" stroke="#000" stroke-width="2.5" stroke-linejoin="miter" stroke-linecap="butt"/>
<text x="3574.5" y="1143.2" font-size="49.9" fill="#000" font-family="'Liberation Serif', 'Times New Roman', serif" font-style="italic" textLength="16.8" lengthAdjust="spacingAndGlyphs">t</text>
<rect x="3599.5" y="1129.6" width="31.3" height="3.2" fill="#000"/>
<text x="3636.7" y="1143.7" font-size="48.3" fill="#000" font-family="'Liberation Serif', 'Times New Roman', serif" textLength="24.4" lengthAdjust="spacingAndGlyphs">1</text>
<text x="1930.7" y="1332.5" font-size="69.3" fill="#000" font-family="'Liberation Serif', 'Times New Roman', serif" font-style="italic" textLength="28.8" lengthAdjust="spacingAndGlyphs">z</text>
<text x="1962.5" y="1302.7" font-size="51.5" fill="#000" font-family="'Liberation Serif', 'Times New Roman', serif" textLength="25.5" lengthAdjust="spacingAndGlyphs">1</text>
<text x="1959.6" y="1347.9" font-size="48.7" fill="#000" font-family="'Liberation Serif', 'Times New Roman', serif" textLength="27.4" lengthAdjust="spacingAndGlyphs">0</text>
<text x="1997.4" y="1333.4" font-size="81.6" fill="#000" font-family="'Liberation Serif', 'Times New Roman', serif" textLength="14.2" lengthAdjust="spacingAndGlyphs">,</text>
<circle cx="2035.0" cy="1327.2" r="3.6" fill="#000"/>
<circle cx="2066.5" cy="1327.2" r="3.6" fill="#000"/>
<circle cx="2098.4" cy="1327.2" r="3.6" fill="#000"/>
<text x="2124.5" y="1333.4" font-size="81.6" fill="#000" font-family="'Liberation Serif', 'Times New Roman', serif" textLength="14.2" lengthAdjust="spacingAndGlyphs">,</text>
<text x="2156.0" y="1332.5" font-size="69.3" fill="#000" font-family="'Liberation Serif', 'Times New Roman', serif" font-style="italic" textLength="28.8" lengthAdjust="spacingAndGlyphs">z</text>
<text x="2192.1" y="1302.7" font-size="53.6" fill="#000" font-family="'Liberation Serif', 'Times New Roman', serif" font-style="italic" textLength="41.2" lengthAdjust="spacingAndGlyphs">K</text>
<text x="2184.8" y="1347.9" font-size="48.7" fill="#000" font-family="'Liberation Serif', 'Times New Roman', serif" textLength="28.8" lengthAdjust="spacingAndGlyphs">0</text>
<text x="2313.5" y="1332.8" font-size="66.2" fill="#000" font-family="'Liberation Serif', 'Times New Roman', serif" font-style="italic" textLength="35.7" lengthAdjust="spacingAndGlyphs">a</text>
<text x="2346.4" y="1347.8" font-size="56.6" fill="#000" font-family="'Liberation Serif', 'Times New Roman', serif" textLength="29.9" lengthAdjust="spacingAndGlyphs">0</text>
<text x="2583.8" y="1333.5" font-size="71.5" fill="#000" font-family="'Liberation Serif', 'Times New Roman', serif" font-style="italic" textLength="30.9" lengthAdjust="spacingAndGlyphs">z</text>
<path d="M2593.4 1291.3L2603.5 1281.4L2613.6 1291.3" fill="none" stroke="#000" stroke-width="2.5" stroke-linejoin="miter" stroke-linecap="butt"/>
<text x="2617.0" y="1301.7" font-size="54.8" fill="#000" font-family="'Liberation Serif', 'Times New Roman', serif" textLength="28.8" lengthAdjust="spacingAndGlyphs">1</text>
<text x="2615.0" y="1350.6" font-size="51.7" fill="#000" font-family="'Liberation Serif', 'Times New Roman', serif" textLength="28.7" lengthAdjust="spacingAndGlyphs">1</text>
<text x="2657.2" y="1334.4" font-size="81.6" fill="#000" font-family="'Liberation Serif', 'Times New Roman', serif" textLength="14.2" lengthAdjust="spacingAndGlyphs">,</text>
<circle cx="2696.9" cy="1328.9" r="3.6" fill="#000"/>
<circle cx="2729.5" cy="1328.9" r="3.6" fill="#000"/>
<circle cx="2763.0" cy="1328.9" r="3.6" fill="#000"/>
<text x="2792.2" y="1334.4" font-size="81.6" fill="#000" font-family="'Liberation Serif', 'Times New Roman', serif" textLength="14.2" lengthAdjust="spacingAndGlyphs">,</text>
<text x="2825.0" y="1333.5" font-size="71.5" fill="#000" font-family="'Liberation Serif', 'Times New Roman', serif" font-style="italic" textLength="31.0" lengthAdjust="spacingAndGlyphs">z</text>
<path d="M2834.7 1291.3L2844.2 1281.4L2853.8 1291.3" fill="none" stroke="#000" stroke-width="2.5" stroke-linejoin="miter" stroke-linecap="butt"/>
<text x="2867.4" y="1301.7" font-size="56.8" fill="#000" font-family="'Liberation Serif', 'Times New Roman', serif" font-style="italic" textLength="40.3" lengthAdjust="spacingAndGlyphs">K</text>
<text x="2856.3" y="1350.6" font-size="51.7" fill="#000" font-family="'Liberation Serif', 'Times New Roman', serif" textLength="28.7" lengthAdjust="spacingAndGlyphs">1</text>
<text x="2968.5" y="1332.8" font-size="66.2" fill="#000" font-family="'Liberation Serif', 'Times New Roman', serif" font-style="italic" textLength="36.9" lengthAdjust="spacingAndGlyphs">a</text>
<text x="3003.0" y="1343.1" font-size="49.8" fill="#000" font-family="'Liberation Serif', 'Times New Roman', serif" textLength="28.7" lengthAdjust="spacingAndGlyphs">1</text>
<text x="3540.4" y="1335.7" font-size="73.3" fill="#000" font-family="'Liberation Serif', 'Times New Roman', serif" font-style="italic" textLength="30.7" lengthAdjust="spacingAndGlyphs">z</text>
<path d="M3549.6 1293.1L3559.8 1283.7L3570.0 1293.1" fill="none" stroke="#000" stroke-width="2.5" stroke-linejoin="miter" stroke-linecap="butt"/>
<text x="3574.1" y="1304.1" font-size="54.1" fill="#000" font-family="'Liberation Serif', 'Times New Roman', serif" textLength="28.9" lengthAdjust="spacingAndGlyphs">1</text>
<text x="3570.8" y="1353.6" font-size="48.0" fill="#000" font-family="'Liberation Serif', 'Times New Roman', serif" font-style="italic" textLength="20.2" lengthAdjust="spacingAndGlyphs">t</text>
<text x="3613.9" y="1336.4" font-size="81.6" fill="#000" font-family="'Liberation Serif', 'Times New Roman', serif" textLength="14.2" lengthAdjust="spacingAndGlyphs">,</text>
<circle cx="3653.7" cy="1331.6" r="3.6" fill="#000"/>
<circle cx="3686.3" cy="1331.6" r="3.6" fill="#000"/>
<circle cx="3720.0" cy="1331.6" r="3.6" fill="#000"/>
<text x="3748.5" y="1336.4" font-size="81.6" fill="#000" font-family="'Liberation Serif', 'Times New Roman', serif" textLength="14.2" lengthAdjust="spacingAndGlyphs">,</text>
<text x="3782.2" y="1335.7" font-size="73.3" fill="#000" font-family="'Liberation Serif', 'Times New Roman', serif" font-style="italic" textLength="29.7" lengthAdjust="spacingAndGlyphs">z</text>
<path d="M3791.5 1293.1L3801.2 1283.7L3810.8 1293.1" fill="none" stroke="#000" stroke-width="2.5" stroke-linejoin="miter" stroke-linecap="butt"/>
<text x="3819.8" y="1304.1" font-size="56.2" fill="#000" font-family="'Liberation Serif', 'Times New Roman', serif" font-style="italic" textLength="44.3" lengthAdjust="spacingAndGlyphs">K</text>
<text x="3814.1" y="1353.6" font-size="48.0" fill="#000" font-family="'Liberation Serif', 'Times New Roman', serif" font-style="italic" textLength="17.9" lengthAdjust="spacingAndGlyphs">t</text>
<text x="3924.2" y="1333.0" font-size="66.0" fill="#000" font-family="'Liberation Serif', 'Times New Roman', serif" font-style="italic" textLength="32.9" lengthAdjust="spacingAndGlyphs">a</text>
<text x="3954.3" y="1342.3" font-size="55.1" fill="#000" font-family="'Liberation Serif', 'Times New Roman', serif" font-style="italic" textLength="21.3" lengthAdjust="spacingAndGlyphs">t</text>
<text x="2063.2" y="1647.6" font-size="65.2" fill="#000" font-family="'Liberation Serif', 'Times New Roman', serif" font-style="italic" textLength="33.3" lengthAdjust="spacingAndGlyphs">x</text>
<path d="M2072.5 1609.8L2081.1 1602.0L2089.7 1609.8" fill="none" stroke="#000" stroke-width="2.5" stroke-linejoin="miter" stroke-linecap="butt"/>
<text x="2099.2" y="1656.7" font-size="47.3" fill="#000" font-family="'Liberation Serif', 'Times New Roman', serif" textLength="26.2" lengthAdjust="spacingAndGlyphs">0</text>
<text x="2721.3" y="1647.6" font-size="65.2" fill="#000" font-family="'Liberation Serif', 'Times New Roman', serif" font-style="italic" textLength="33.3" lengthAdjust="spacingAndGlyphs">x</text>
<path d="M2730.6 1609.8L2739.2 1602.0L2747.8 1609.8" fill="none" stroke="#000" stroke-width="2.5" stroke-linejoin="miter" stroke-linecap="butt"/>
<text x="2756.7" y="1657.2" font-size="48.3" fill="#000" font-family="'Liberation Serif', 'Times New Roman', serif" textLength="24.8" lengthAdjust="spacingAndGlyphs">1</text>
<text x="3677.6" y="1647.6" font-size="65.2" fill="#000" font-family="'Liberation Serif', 'Times New Roman', serif" font-style="italic" textLength="33.3" lengthAdjust="spacingAndGlyphs">x</text>
<path d="M3686.9 1609.8L3695.5 1602.0L3704.1 1609.8" fill="none" stroke="#000" stroke-width="2.5" stroke-linejoin="miter" stroke-linecap="butt"/>
<text x="3710.9" y="1655.7" font-size="56.2" fill="#000" font-family="'Liberation Serif', 'Times New Roman', serif" font-style="italic" textLength="19.1" lengthAdjust="spacingAndGlyphs">t</text>
<text x="2230.8" y="1696.4" font-size="85.3" fill="#a64d79" font-family="'Liberation Serif', 'Times New Roman', serif" font-style="italic" textLength="48.6" lengthAdjust="spacingAndGlyphs">π</text>
<text x="2883.3" y="1696.4" font-size="85.3" fill="#a64d79" font-family="'Liberation Serif', 'Times New Roman', serif" font-style="italic" textLength="48.6" lengthAdjust="spacingAndGlyphs">π</text>
<text x="3839.9" y="1696.4" font-size="85.3" fill="#a64d79" font-family="'Liberation Serif', 'Times New Roman', serif" font-style="italic" textLength="48.6" lengthAdjust="spacingAndGlyphs">π</text>
<text x="1785.2" y="1764.8" font-size="34.18" fill="#616161" textLength="2225.1" lengthAdjust="spacingAndGlyphs" xml:space="preserve"><tspan font-weight="bold">Unrolling imagination over time.</tspan>  The Transformer <tspan font-weight="bold" fill="#4a86e8" font-size="38">G</tspan> simulates the environment dynamics by predicting next image tokens, reward, and episode end.</text>
<text x="1921.0" y="1817.0" font-size="34.33" fill="#616161" textLength="1954.0" lengthAdjust="spacingAndGlyphs" xml:space="preserve">Image tokens are converted back to frames by the decoder <tspan font-weight="bold" fill="#6aa84f" font-size="38">D</tspan>.  are The policy <tspan font-weight="bold" fill="#a64d79">π</tspan> takes actions based on these reconstructed frames.</text>
<rect x="1567.2" y="1874.3" width="1321.3" height="300.3" fill="#000"/>
<rect x="1575.7" y="1882.3" width="137.0" height="137.7" fill="#8c4a13"/>
<rect x="1575.7" y="1896.9" width="137.0" height="8.1" fill="#eee6e0"/>
<rect x="1575.7" y="2009.0" width="137.0" height="11.0" fill="#e8e6ea"/>
<rect x="1575.7" y="1882.3" width="137.0" height="14.6" fill="#93500f"/>
<rect x="1608.7" y="1884.8" width="4.0" height="10.5" fill="#d08048"/>
<rect x="1663.7" y="1884.8" width="5.0" height="10.5" fill="#62b060"/>
<rect x="1676.7" y="1884.8" width="10.0" height="10.5" fill="#62b060" opacity="0.75"/>
<rect x="1588.7" y="1990.8" width="3.0" height="14.0" fill="#d5843c"/>
<rect x="1696.6" y="2003.4" width="3.0" height="14.0" fill="#5cbc5c"/>
<rect x="1680.5" y="1991.7" width="3.0" height="3.0" fill="#f0c080"/>
<rect x="1721.5" y="1882.3" width="137.0" height="137.7" fill="#8c4a13"/>
<rect x="1721.5" y="1896.9" width="137.0" height="8.1" fill="#eee6e0"/>
<rect x="1721.5" y="2009.0" width="137.0" height="11.0" fill="#e8e6ea"/>
<rect x="1721.5" y="1882.3" width="137.0" height="14.6" fill="#93500f"/>
<rect x="1754.5" y="1884.8" width="4.0" height="10.5" fill="#d08048"/>
<rect x="1809.5" y="1884.8" width="5.0" height="10.5" fill="#62b060"/>
<rect x="1822.5" y="1884.8" width="10.0" height="10.5" fill="#62b060" opacity="0.75"/>
<rect x="1735.0" y="1982.2" width="3.0" height="14.0" fill="#d5843c"/>
<rect x="1842.4" y="1999.4" width="3.0" height="14.0" fill="#5cbc5c"/>
<rect x="1833.8" y="1981.9" width="3.0" height="3.0" fill="#f0c080"/>
<rect x="1867.3" y="1882.3" width="137.0" height="137.7" fill="#8c4a13"/>
<rect x="1867.3" y="1896.9" width="137.0" height="8.1" fill="#eee6e0"/>
<rect x="1867.3" y="2009.0" width="137.0" height="11.0" fill="#e8e6ea"/>
<rect x="1867.3" y="1882.3" width="137.0" height="14.6" fill="#93500f"/>
<rect x="1900.3" y="1884.8" width="4.0" height="10.5" fill="#d08048"/>
<rect x="1955.3" y="1884.8" width="5.0" height="10.5" fill="#62b060"/>
<rect x="1968.3" y="1884.8" width="10.0" height="10.5" fill="#62b060" opacity="0.75"/>
<rect x="1880.3" y="1973.5" width="3.0" height="14.0" fill="#d5843c"/>
<rect x="1987.6" y="1973.5" width="3.0" height="14.0" fill="#5cbc5c"/>
<rect x="2013.1" y="1882.3" width="137.0" height="137.7" fill="#8c4a13"/>
<rect x="2013.1" y="1896.9" width="137.0" height="8.1" fill="#eee6e0"/>
<rect x="2013.1" y="2009.0" width="137.0" height="11.0" fill="#e8e6ea"/>
<rect x="2013.1" y="1882.3" width="137.0" height="14.6" fill="#93500f"/>
<rect x="2046.1" y="1884.8" width="4.0" height="10.5" fill="#d08048"/>
<rect x="2101.1" y="1884.8" width="5.0" height="10.5" fill="#62b060"/>
<rect x="2114.1" y="1884.8" width="10.0" height="10.5" fill="#62b060" opacity="0.75"/>
<rect x="2026.6" y="1963.8" width="3.0" height="14.0" fill="#d5843c"/>
<rect x="2134.0" y="1976.4" width="3.0" height="14.0" fill="#5cbc5c"/>
<rect x="2118.5" y="1961.8" width="3.0" height="3.0" fill="#f0c080"/>
<rect x="2158.9" y="1882.3" width="137.0" height="137.7" fill="#8c4a13"/>
<rect x="2158.9" y="1896.9" width="137.0" height="8.1" fill="#eee6e0"/>
<rect x="2158.9" y="2009.0" width="137.0" height="11.0" fill="#e8e6ea"/>
<rect x="2158.9" y="1882.3" width="137.0" height="14.6" fill="#93500f"/>
<rect x="2191.9" y="1884.8" width="4.0" height="10.5" fill="#d08048"/>
<rect x="2246.9" y="1884.8" width="5.0" height="10.5" fill="#62b060"/>
<rect x="2259.9" y="1884.8" width="10.0" height="10.5" fill="#62b060" opacity="0.75"/>
<rect x="2172.4" y="1954.6" width="3.0" height="14.0" fill="#d5843c"/>
<rect x="2279.2" y="1999.4" width="3.0" height="14.0" fill="#5cbc5c"/>
<rect x="2243.0" y="1951.5" width="3.0" height="3.0" fill="#f0c080"/>
<rect x="2304.7" y="1882.3" width="137.0" height="137.7" fill="#8c4a13"/>
<rect x="2304.7" y="1896.9" width="137.0" height="8.1" fill="#eee6e0"/>
<rect x="2304.7" y="2009.0" width="137.0" height="11.0" fill="#e8e6ea"/>
<rect x="2304.7" y="1882.3" width="137.0" height="14.6" fill="#93500f"/>
<rect x="2337.7" y="1884.8" width="4.0" height="10.5" fill="#d08048"/>
<rect x="2392.7" y="1884.8" width="5.0" height="10.5" fill="#62b060"/>
<rect x="2405.7" y="1884.8" width="10.0" height="10.5" fill="#62b060" opacity="0.75"/>
<rect x="2318.2" y="1946.0" width="3.0" height="14.0" fill="#d5843c"/>
<rect x="2425.0" y="1999.4" width="3.0" height="14.0" fill="#5cbc5c"/>
<rect x="2367.6" y="1941.7" width="3.0" height="3.0" fill="#f0c080"/>
<rect x="2450.5" y="1882.3" width="137.0" height="137.7" fill="#8c4a13"/>
<rect x="2450.5" y="1896.9" width="137.0" height="8.1" fill="#eee6e0"/>
<rect x="2450.5" y="2009.0" width="137.0" height="11.0" fill="#e8e6ea"/>
<rect x="2450.5" y="1882.3" width="137.0" height="14.6" fill="#93500f"/>
<rect x="2483.5" y="1884.8" width="4.0" height="10.5" fill="#d08048"/>
<rect x="2538.5" y="1884.8" width="5.0" height="10.5" fill="#62b060"/>
<rect x="2551.5" y="1884.8" width="10.0" height="10.5" fill="#62b060" opacity="0.75"/>
<rect x="2463.5" y="1926.5" width="3.0" height="14.0" fill="#d5843c"/>
<rect x="2570.2" y="1987.9" width="3.0" height="14.0" fill="#5cbc5c"/>
<rect x="2471.5" y="1919.9" width="3.0" height="3.0" fill="#f0c080"/>
<rect x="2596.3" y="1882.3" width="137.0" height="137.7" fill="#8c4a13"/>
<rect x="2596.3" y="1896.9" width="137.0" height="8.1" fill="#eee6e0"/>
<rect x="2596.3" y="2009.0" width="137.0" height="11.0" fill="#e8e6ea"/>
<rect x="2596.3" y="1882.3" width="137.0" height="14.6" fill="#93500f"/>
<rect x="2629.3" y="1884.8" width="4.0" height="10.5" fill="#d08048"/>
<rect x="2684.3" y="1884.8" width="5.0" height="10.5" fill="#62b060"/>
<rect x="2697.3" y="1884.8" width="10.0" height="10.5" fill="#62b060" opacity="0.75"/>
<rect x="2609.8" y="1916.1" width="3.0" height="14.0" fill="#d5843c"/>
<rect x="2715.4" y="1960.3" width="3.0" height="14.0" fill="#5cbc5c"/>
<rect x="2598.9" y="1909.0" width="3.0" height="3.0" fill="#f0c080"/>
<rect x="2742.1" y="1882.3" width="137.0" height="137.7" fill="#8c4a13"/>
<rect x="2742.1" y="1896.9" width="137.0" height="8.1" fill="#eee6e0"/>
<rect x="2742.1" y="2009.0" width="137.0" height="11.0" fill="#e8e6ea"/>
<rect x="2742.1" y="1882.3" width="137.0" height="14.6" fill="#93500f"/>
<rect x="2775.1" y="1884.8" width="4.0" height="10.5" fill="#d08048"/>
<rect x="2830.1" y="1884.8" width="5.0" height="10.5" fill="#62b060"/>
<rect x="2843.1" y="1884.8" width="10.0" height="10.5" fill="#62b060" opacity="0.75"/>
<rect x="2755.6" y="1908.7" width="3.0" height="14.0" fill="#d5843c"/>
<rect x="2863.0" y="1933.4" width="3.0" height="14.0" fill="#5cbc5c"/>
<rect x="1575.7" y="2028.2" width="137.0" height="137.7" fill="#8c4a13"/>
<rect x="1575.7" y="2042.8" width="137.0" height="8.1" fill="#eee6e0"/>
<rect x="1575.7" y="2154.9" width="137.0" height="11.0" fill="#e8e6ea"/>
<rect x="1575.7" y="2028.2" width="137.0" height="14.6" fill="#93500f"/>
<rect x="1608.7" y="2030.7" width="4.0" height="10.5" fill="#d08048"/>
<rect x="1663.7" y="2030.7" width="5.0" height="10.5" fill="#62b060"/>
<rect x="1676.7" y="2030.7" width="10.0" height="10.5" fill="#62b060" opacity="0.75"/>
<rect x="1588.7" y="2136.7" width="3.0" height="14.0" fill="#d5843c"/>
<rect x="1696.6" y="2149.3" width="3.0" height="14.0" fill="#5cbc5c"/>
<rect x="1680.5" y="2137.6" width="3.0" height="3.0" fill="#f0c080"/>
<rect x="1721.5" y="2028.2" width="137.0" height="137.7" fill="#8c4a13"/>
<rect x="1721.5" y="2042.8" width="137.0" height="8.1" fill="#eee6e0"/>
<rect x="1721.5" y="2154.9" width="137.0" height="11.0" fill="#e8e6ea"/>
<rect x="1721.5" y="2028.2" width="137.0" height="14.6" fill="#93500f"/>
<rect x="1754.5" y="2030.7" width="4.0" height="10.5" fill="#d08048"/>
<rect x="1809.5" y="2030.7" width="5.0" height="10.5" fill="#62b060"/>
<rect x="1822.5" y="2030.7" width="10.0" height="10.5" fill="#62b060" opacity="0.75"/>
<rect x="1735.0" y="2128.1" width="3.0" height="14.0" fill="#d5843c"/>
<rect x="1842.4" y="2145.3" width="3.0" height="14.0" fill="#5cbc5c"/>
<rect x="1833.8" y="2127.8" width="3.0" height="3.0" fill="#f0c080"/>
<rect x="1867.3" y="2028.2" width="137.0" height="137.7" fill="#8c4a13"/>
<rect x="1867.3" y="2042.8" width="137.0" height="8.1" fill="#eee6e0"/>
<rect x="1867.3" y="2154.9" width="137.0" height="11.0" fill="#e8e6ea"/>
<rect x="1867.3" y="2028.2" width="137.0" height="14.6" fill="#93500f"/>
<rect x="1900.3" y="2030.7" width="4.0" height="10.5" fill="#d08048"/>
<rect x="1955.3" y="2030.7" width="5.0" height="10.5" fill="#62b060"/>
<rect x="1968.3" y="2030.7" width="10.0" height="10.5" fill="#62b060" opacity="0.75"/>
<rect x="1880.3" y="2119.4" width="3.0" height="14.0" fill="#d5843c"/>
<rect x="1987.6" y="2119.4" width="3.0" height="14.0" fill="#5cbc5c"/>
<rect x="2013.1" y="2028.2" width="137.0" height="137.7" fill="#8c4a13"/>
<rect x="2013.1" y="2042.8" width="137.0" height="8.1" fill="#eee6e0"/>
<rect x="2013.1" y="2154.9" width="137.0" height="11.0" fill="#e8e6ea"/>
<rect x="2013.1" y="2028.2" width="137.0" height="14.6" fill="#93500f"/>
<rect x="2046.1" y="2030.7" width="4.0" height="10.5" fill="#d08048"/>
<rect x="2101.1" y="2030.7" width="5.0" height="10.5" fill="#62b060"/>
<rect x="2114.1" y="2030.7" width="10.0" height="10.5" fill="#62b060" opacity="0.75"/>
<rect x="2026.6" y="2109.7" width="3.0" height="14.0" fill="#d5843c"/>
<rect x="2134.0" y="2122.3" width="3.0" height="14.0" fill="#5cbc5c"/>
<rect x="2118.5" y="2107.7" width="3.0" height="3.0" fill="#f0c080"/>
<rect x="2158.9" y="2028.2" width="137.0" height="137.7" fill="#8c4a13"/>
<rect x="2158.9" y="2042.8" width="137.0" height="8.1" fill="#eee6e0"/>
<rect x="2158.9" y="2154.9" width="137.0" height="11.0" fill="#e8e6ea"/>
<rect x="2158.9" y="2028.2" width="137.0" height="14.6" fill="#93500f"/>
<rect x="2191.9" y="2030.7" width="4.0" height="10.5" fill="#d08048"/>
<rect x="2246.9" y="2030.7" width="5.0" height="10.5" fill="#62b060"/>
<rect x="2259.9" y="2030.7" width="10.0" height="10.5" fill="#62b060" opacity="0.75"/>
<rect x="2172.4" y="2100.5" width="3.0" height="14.0" fill="#d5843c"/>
<rect x="2279.2" y="2145.3" width="3.0" height="14.0" fill="#5cbc5c"/>
<rect x="2243.0" y="2097.4" width="3.0" height="3.0" fill="#f0c080"/>
<rect x="2304.7" y="2028.2" width="137.0" height="137.7" fill="#8c4a13"/>
<rect x="2304.7" y="2042.8" width="137.0" height="8.1" fill="#eee6e0"/>
<rect x="2304.7" y="2154.9" width="137.0" height="11.0" fill="#e8e6ea"/>
<rect x="2304.7" y="2028.2" width="137.0" height="14.6" fill="#93500f"/>
<rect x="2337.7" y="2030.7" width="4.0" height="10.5" fill="#d08048"/>
<rect x="2392.7" y="2030.7" width="5.0" height="10.5" fill="#62b060"/>
<rect x="2405.7" y="2030.7" width="10.0" height="10.5" fill="#62b060" opacity="0.75"/>
<rect x="2318.2" y="2091.9" width="3.0" height="14.0" fill="#d5843c"/>
<rect x="2425.0" y="2145.3" width="3.0" height="14.0" fill="#5cbc5c"/>
<rect x="2367.6" y="2087.6" width="3.0" height="3.0" fill="#f0c080"/>
<rect x="2450.5" y="2028.2" width="137.0" height="137.7" fill="#8c4a13"/>
<rect x="2450.5" y="2042.8" width="137.0" height="8.1" fill="#eee6e0"/>
<rect x="2450.5" y="2154.9" width="137.0" height="11.0" fill="#e8e6ea"/>
<rect x="2450.5" y="2028.2" width="137.0" height="14.6" fill="#93500f"/>
<rect x="2483.5" y="2030.7" width="4.0" height="10.5" fill="#d08048"/>
<rect x="2538.5" y="2030.7" width="5.0" height="10.5" fill="#62b060"/>
<rect x="2551.5" y="2030.7" width="10.0" height="10.5" fill="#62b060" opacity="0.75"/>
<rect x="2463.5" y="2072.4" width="3.0" height="14.0" fill="#d5843c"/>
<rect x="2570.2" y="2133.8" width="3.0" height="14.0" fill="#5cbc5c"/>
<rect x="2471.5" y="2065.8" width="3.0" height="3.0" fill="#f0c080"/>
<rect x="2596.3" y="2028.2" width="137.0" height="137.7" fill="#8c4a13"/>
<rect x="2596.3" y="2042.8" width="137.0" height="8.1" fill="#eee6e0"/>
<rect x="2596.3" y="2154.9" width="137.0" height="11.0" fill="#e8e6ea"/>
<rect x="2596.3" y="2028.2" width="137.0" height="14.6" fill="#93500f"/>
<rect x="2629.3" y="2030.7" width="4.0" height="10.5" fill="#d08048"/>
<rect x="2684.3" y="2030.7" width="5.0" height="10.5" fill="#62b060"/>
<rect x="2697.3" y="2030.7" width="10.0" height="10.5" fill="#62b060" opacity="0.75"/>
<rect x="2609.8" y="2062.0" width="3.0" height="14.0" fill="#d5843c"/>
<rect x="2715.4" y="2106.2" width="3.0" height="14.0" fill="#5cbc5c"/>
<rect x="2598.9" y="2054.9" width="3.0" height="3.0" fill="#f0c080"/>
<rect x="2742.1" y="2028.2" width="137.0" height="137.7" fill="#8c4a13"/>
<rect x="2742.1" y="2042.8" width="137.0" height="8.1" fill="#eee6e0"/>
<rect x="2742.1" y="2154.9" width="137.0" height="11.0" fill="#e8e6ea"/>
<rect x="2742.1" y="2028.2" width="137.0" height="14.6" fill="#93500f"/>
<rect x="2775.1" y="2030.7" width="4.0" height="10.5" fill="#d08048"/>
<rect x="2830.1" y="2030.7" width="5.0" height="10.5" fill="#62b060"/>
<rect x="2843.1" y="2030.7" width="10.0" height="10.5" fill="#62b060" opacity="0.75"/>
<rect x="2755.6" y="2054.6" width="3.0" height="14.0" fill="#d5843c"/>
<rect x="2863.0" y="2079.3" width="3.0" height="14.0" fill="#5cbc5c"/>
<rect x="1573.1" y="2026.7" width="287.7" height="141.8" fill="none" stroke="#14c014" stroke-width="4.3"/>
<rect x="2593.8" y="2026.7" width="287.0" height="141.8" fill="none" stroke="#1aa0e8" stroke-width="4.3"/>
<text x="1571.5" y="2238.8" font-size="34.33" fill="#616161" textLength="1292.4" lengthAdjust="spacingAndGlyphs"><tspan font-weight="bold">Pixel-perfect predictions in <tspan font-style="italic">Pong</tspan>.</tspan> The top and bottom rows display, respectively, a</text>
<text x="1572.6" y="2282.8" font-size="34.33" fill="#616161" textLength="1258.5" lengthAdjust="spacingAndGlyphs">trajectory collected in the environment, and its reenactment inside the world model.</text>
<rect x="2937.3" y="1874.5" width="1321.2" height="591.5" fill="#000"/>
<rect x="2945.8" y="1882.3" width="137.0" height="137.7" fill="#4242cf"/>
<rect x="2945.8" y="1882.3" width="137.0" height="32.7" fill="#7b7b74"/>
<rect x="2945.8" y="1915.0" width="137.0" height="6.1" fill="#2f7a3a"/>
<rect x="2945.8" y="1921.1" width="137.0" height="3.6" fill="#9a5a34"/>
<rect x="2945.8" y="1924.7" width="137.0" height="3.0" fill="#c89c9c"/>
<rect x="2945.8" y="1927.7" width="137.0" height="8.4" fill="#3c46d2"/>
<rect x="2945.8" y="1936.1" width="137.0" height="6.4" fill="#c87a3a"/>
<rect x="2945.8" y="1942.5" width="137.0" height="3.6" fill="#6a5cc4"/>
<rect x="2945.8" y="1989.1" width="137.0" height="11.0" fill="#c4722c"/>
<rect x="2945.8" y="2000.1" width="137.0" height="11.0" fill="#b02c20"/>
<rect x="2945.8" y="2011.1" width="137.0" height="8.9" fill="#2e2ecc"/>
<rect x="2961.8" y="1927.7" width="3.0" height="8.4" fill="#7a7ae0"/>
<rect x="2959.8" y="2001.3" width="8.0" height="5.0" fill="#e07a3a"/>
<rect x="2960.8" y="2011.8" width="6.0" height="6.0" fill="#8a8ae8"/>
<rect x="2990.8" y="1927.7" width="3.0" height="8.4" fill="#7a7ae0"/>
<rect x="2988.8" y="2001.3" width="8.0" height="5.0" fill="#e07a3a"/>
<rect x="2989.8" y="2011.8" width="6.0" height="6.0" fill="#8a8ae8"/>
<rect x="3019.8" y="1927.7" width="3.0" height="8.4" fill="#7a7ae0"/>
<rect x="3017.8" y="2001.3" width="8.0" height="5.0" fill="#e07a3a"/>
<rect x="3018.8" y="2011.8" width="6.0" height="6.0" fill="#8a8ae8"/>
<rect x="3048.8" y="1927.7" width="3.0" height="8.4" fill="#7a7ae0"/>
<rect x="3046.8" y="2001.3" width="8.0" height="5.0" fill="#e07a3a"/>
<rect x="3047.8" y="2011.8" width="6.0" height="6.0" fill="#8a8ae8"/>
<rect x="3077.8" y="1927.7" width="3.0" height="8.4" fill="#7a7ae0"/>
<rect x="3075.8" y="2001.3" width="8.0" height="5.0" fill="#e07a3a"/>
<rect x="3076.8" y="2011.8" width="6.0" height="6.0" fill="#8a8ae8"/>
<rect x="2963.8" y="1886.3" width="22.0" height="3.0" fill="#a8b8a8"/>
<rect x="2961.8" y="1891.3" width="30.0" height="5.0" fill="#86b07c"/>
<rect x="2987.8" y="1900.3" width="30.0" height="4.0" fill="#4a4ad0"/>
<rect x="2969.8" y="1904.3" width="12.0" height="5.0" fill="#d8c040"/>
<rect x="2959.8" y="1907.3" width="18.0" height="4.0" fill="#a8a8a8"/>
<rect x="2981.8" y="1906.8" width="34.0" height="5.0" fill="#b04434"/>
<rect x="3009.3" y="1963.3" width="5.5" height="5.0" fill="#16164a"/>
<rect x="3008.8" y="1968.3" width="6.5" height="10.0" fill="#e4eaf8"/>
<rect x="3008.3" y="1978.3" width="7.5" height="9.0" fill="#c8d4f0"/>
<rect x="3091.6" y="1882.3" width="137.0" height="137.7" fill="#4242cf"/>
<rect x="3091.6" y="1882.3" width="137.0" height="32.7" fill="#7b7b74"/>
<rect x="3091.6" y="1915.0" width="137.0" height="6.1" fill="#2f7a3a"/>
<rect x="3091.6" y="1921.1" width="137.0" height="3.6" fill="#9a5a34"/>
<rect x="3091.6" y="1924.7" width="137.0" height="3.0" fill="#c89c9c"/>
<rect x="3091.6" y="1927.7" width="137.0" height="8.4" fill="#3c46d2"/>
<rect x="3091.6" y="1936.1" width="137.0" height="6.4" fill="#c87a3a"/>
<rect x="3091.6" y="1942.5" width="137.0" height="3.6" fill="#6a5cc4"/>
<rect x="3091.6" y="1989.1" width="137.0" height="11.0" fill="#c4722c"/>
<rect x="3091.6" y="2000.1" width="137.0" height="11.0" fill="#b02c20"/>
<rect x="3091.6" y="2011.1" width="137.0" height="8.9" fill="#2e2ecc"/>
<rect x="3107.6" y="1927.7" width="3.0" height="8.4" fill="#7a7ae0"/>
<rect x="3105.6" y="2001.3" width="8.0" height="5.0" fill="#e07a3a"/>
<rect x="3106.6" y="2011.8" width="6.0" height="6.0" fill="#8a8ae8"/>
<rect x="3136.6" y="1927.7" width="3.0" height="8.4" fill="#7a7ae0"/>
<rect x="3134.6" y="2001.3" width="8.0" height="5.0" fill="#e07a3a"/>
<rect x="3135.6" y="2011.8" width="6.0" height="6.0" fill="#8a8ae8"/>
<rect x="3165.6" y="1927.7" width="3.0" height="8.4" fill="#7a7ae0"/>
<rect x="3163.6" y="2001.3" width="8.0" height="5.0" fill="#e07a3a"/>
<rect x="3164.6" y="2011.8" width="6.0" height="6.0" fill="#8a8ae8"/>
<rect x="3194.6" y="1927.7" width="3.0" height="8.4" fill="#7a7ae0"/>
<rect x="3192.6" y="2001.3" width="8.0" height="5.0" fill="#e07a3a"/>
<rect x="3193.6" y="2011.8" width="6.0" height="6.0" fill="#8a8ae8"/>
<rect x="3223.6" y="1927.7" width="3.0" height="8.4" fill="#7a7ae0"/>
<rect x="3221.6" y="2001.3" width="8.0" height="5.0" fill="#e07a3a"/>
<rect x="3222.6" y="2011.8" width="6.0" height="6.0" fill="#8a8ae8"/>
<rect x="3109.6" y="1886.3" width="22.0" height="3.0" fill="#a8b8a8"/>
<rect x="3107.6" y="1891.3" width="30.0" height="5.0" fill="#86b07c"/>
<rect x="3133.6" y="1900.3" width="30.0" height="4.0" fill="#4a4ad0"/>
<rect x="3115.6" y="1904.3" width="12.0" height="5.0" fill="#d8c040"/>
<rect x="3105.6" y="1907.3" width="18.0" height="4.0" fill="#a8a8a8"/>
<rect x="3127.6" y="1906.8" width="34.0" height="5.0" fill="#b04434"/>
<rect x="3155.1" y="1963.3" width="5.5" height="5.0" fill="#16164a"/>
<rect x="3154.6" y="1968.3" width="6.5" height="10.0" fill="#e4eaf8"/>
<rect x="3154.1" y="1978.3" width="7.5" height="9.0" fill="#c8d4f0"/>
<rect x="3237.3" y="1882.3" width="137.0" height="137.7" fill="#4242cf"/>
<rect x="3237.3" y="1882.3" width="137.0" height="32.7" fill="#7b7b74"/>
<rect x="3237.3" y="1915.0" width="137.0" height="6.1" fill="#2f7a3a"/>
<rect x="3237.3" y="1921.1" width="137.0" height="3.6" fill="#9a5a34"/>
<rect x="3237.3" y="1924.7" width="137.0" height="3.0" fill="#c89c9c"/>
<rect x="3237.3" y="1927.7" width="137.0" height="8.4" fill="#3c46d2"/>
<rect x="3237.3" y="1936.1" width="137.0" height="6.4" fill="#c87a3a"/>
<rect x="3237.3" y="1942.5" width="137.0" height="3.6" fill="#6a5cc4"/>
<rect x="3237.3" y="1989.1" width="137.0" height="11.0" fill="#c4722c"/>
<rect x="3237.3" y="2000.1" width="137.0" height="11.0" fill="#b02c20"/>
<rect x="3237.3" y="2011.1" width="137.0" height="8.9" fill="#2e2ecc"/>
<rect x="3253.3" y="1927.7" width="3.0" height="8.4" fill="#7a7ae0"/>
<rect x="3251.3" y="2001.3" width="8.0" height="5.0" fill="#e07a3a"/>
<rect x="3252.3" y="2011.8" width="6.0" height="6.0" fill="#8a8ae8"/>
<rect x="3282.3" y="1927.7" width="3.0" height="8.4" fill="#7a7ae0"/>
<rect x="3280.3" y="2001.3" width="8.0" height="5.0" fill="#e07a3a"/>
<rect x="3281.3" y="2011.8" width="6.0" height="6.0" fill="#8a8ae8"/>
<rect x="3311.3" y="1927.7" width="3.0" height="8.4" fill="#7a7ae0"/>
<rect x="3309.3" y="2001.3" width="8.0" height="5.0" fill="#e07a3a"/>
<rect x="3310.3" y="2011.8" width="6.0" height="6.0" fill="#8a8ae8"/>
<rect x="3340.3" y="1927.7" width="3.0" height="8.4" fill="#7a7ae0"/>
<rect x="3338.3" y="2001.3" width="8.0" height="5.0" fill="#e07a3a"/>
<rect x="3339.3" y="2011.8" width="6.0" height="6.0" fill="#8a8ae8"/>
<rect x="3369.3" y="1927.7" width="3.0" height="8.4" fill="#7a7ae0"/>
<rect x="3367.3" y="2001.3" width="8.0" height="5.0" fill="#e07a3a"/>
<rect x="3368.3" y="2011.8" width="6.0" height="6.0" fill="#8a8ae8"/>
<rect x="3255.3" y="1886.3" width="22.0" height="3.0" fill="#a8b8a8"/>
<rect x="3253.3" y="1891.3" width="30.0" height="5.0" fill="#86b07c"/>
<rect x="3279.3" y="1900.3" width="30.0" height="4.0" fill="#4a4ad0"/>
<rect x="3261.3" y="1904.3" width="12.0" height="5.0" fill="#d8c040"/>
<rect x="3251.3" y="1907.3" width="18.0" height="4.0" fill="#a8a8a8"/>
<rect x="3273.3" y="1906.8" width="34.0" height="5.0" fill="#b04434"/>
<rect x="3303.8" y="1963.3" width="5.5" height="5.0" fill="#16164a"/>
<rect x="3303.3" y="1968.3" width="6.5" height="10.0" fill="#e4eaf8"/>
<rect x="3302.8" y="1978.3" width="7.5" height="9.0" fill="#c8d4f0"/>
<rect x="3383.1" y="1882.3" width="137.0" height="137.7" fill="#4242cf"/>
<rect x="3383.1" y="1882.3" width="137.0" height="32.7" fill="#7b7b74"/>
<rect x="3383.1" y="1915.0" width="137.0" height="6.1" fill="#2f7a3a"/>
<rect x="3383.1" y="1921.1" width="137.0" height="3.6" fill="#9a5a34"/>
<rect x="3383.1" y="1924.7" width="137.0" height="3.0" fill="#c89c9c"/>
<rect x="3383.1" y="1927.7" width="137.0" height="8.4" fill="#3c46d2"/>
<rect x="3383.1" y="1936.1" width="137.0" height="6.4" fill="#c87a3a"/>
<rect x="3383.1" y="1942.5" width="137.0" height="3.6" fill="#6a5cc4"/>
<rect x="3383.1" y="1989.1" width="137.0" height="11.0" fill="#c4722c"/>
<rect x="3383.1" y="2000.1" width="137.0" height="11.0" fill="#b02c20"/>
<rect x="3383.1" y="2011.1" width="137.0" height="8.9" fill="#2e2ecc"/>
<rect x="3399.1" y="1927.7" width="3.0" height="8.4" fill="#7a7ae0"/>
<rect x="3397.1" y="2001.3" width="8.0" height="5.0" fill="#e07a3a"/>
<rect x="3398.1" y="2011.8" width="6.0" height="6.0" fill="#8a8ae8"/>
<rect x="3428.1" y="1927.7" width="3.0" height="8.4" fill="#7a7ae0"/>
<rect x="3426.1" y="2001.3" width="8.0" height="5.0" fill="#e07a3a"/>
<rect x="3427.1" y="2011.8" width="6.0" height="6.0" fill="#8a8ae8"/>
<rect x="3457.1" y="1927.7" width="3.0" height="8.4" fill="#7a7ae0"/>
<rect x="3455.1" y="2001.3" width="8.0" height="5.0" fill="#e07a3a"/>
<rect x="3456.1" y="2011.8" width="6.0" height="6.0" fill="#8a8ae8"/>
<rect x="3486.1" y="1927.7" width="3.0" height="8.4" fill="#7a7ae0"/>
<rect x="3484.1" y="2001.3" width="8.0" height="5.0" fill="#e07a3a"/>
<rect x="3485.1" y="2011.8" width="6.0" height="6.0" fill="#8a8ae8"/>
<rect x="3515.1" y="1927.7" width="3.0" height="8.4" fill="#7a7ae0"/>
<rect x="3513.1" y="2001.3" width="8.0" height="5.0" fill="#e07a3a"/>
<rect x="3514.1" y="2011.8" width="6.0" height="6.0" fill="#8a8ae8"/>
<rect x="3401.1" y="1886.3" width="22.0" height="3.0" fill="#a8b8a8"/>
<rect x="3399.1" y="1891.3" width="30.0" height="5.0" fill="#86b07c"/>
<rect x="3425.1" y="1900.3" width="30.0" height="4.0" fill="#4a4ad0"/>
<rect x="3407.1" y="1904.3" width="12.0" height="5.0" fill="#d8c040"/>
<rect x="3397.1" y="1907.3" width="18.0" height="4.0" fill="#a8a8a8"/>
<rect x="3419.1" y="1906.8" width="34.0" height="5.0" fill="#b04434"/>
<rect x="3452.6" y="1963.3" width="5.5" height="5.0" fill="#16164a"/>
<rect x="3452.1" y="1968.3" width="6.5" height="10.0" fill="#e4eaf8"/>
<rect x="3451.6" y="1978.3" width="7.5" height="9.0" fill="#c8d4f0"/>
<rect x="3528.8" y="1882.3" width="137.0" height="137.7" fill="#4242cf"/>
<rect x="3528.8" y="1882.3" width="137.0" height="32.7" fill="#7b7b74"/>
<rect x="3528.8" y="1915.0" width="137.0" height="6.1" fill="#2f7a3a"/>
<rect x="3528.8" y="1921.1" width="137.0" height="3.6" fill="#9a5a34"/>
<rect x="3528.8" y="1924.7" width="137.0" height="3.0" fill="#c89c9c"/>
<rect x="3528.8" y="1927.7" width="137.0" height="8.4" fill="#3c46d2"/>
<rect x="3528.8" y="1936.1" width="137.0" height="6.4" fill="#c87a3a"/>
<rect x="3528.8" y="1942.5" width="137.0" height="3.6" fill="#6a5cc4"/>
<rect x="3528.8" y="1989.1" width="137.0" height="11.0" fill="#c4722c"/>
<rect x="3528.8" y="2000.1" width="137.0" height="11.0" fill="#b02c20"/>
<rect x="3528.8" y="2011.1" width="137.0" height="8.9" fill="#2e2ecc"/>
<rect x="3544.8" y="1927.7" width="3.0" height="8.4" fill="#7a7ae0"/>
<rect x="3542.8" y="2001.3" width="8.0" height="5.0" fill="#e07a3a"/>
<rect x="3543.8" y="2011.8" width="6.0" height="6.0" fill="#8a8ae8"/>
<rect x="3573.8" y="1927.7" width="3.0" height="8.4" fill="#7a7ae0"/>
<rect x="3571.8" y="2001.3" width="8.0" height="5.0" fill="#e07a3a"/>
<rect x="3572.8" y="2011.8" width="6.0" height="6.0" fill="#8a8ae8"/>
<rect x="3602.8" y="1927.7" width="3.0" height="8.4" fill="#7a7ae0"/>
<rect x="3600.8" y="2001.3" width="8.0" height="5.0" fill="#e07a3a"/>
<rect x="3601.8" y="2011.8" width="6.0" height="6.0" fill="#8a8ae8"/>
<rect x="3631.8" y="1927.7" width="3.0" height="8.4" fill="#7a7ae0"/>
<rect x="3629.8" y="2001.3" width="8.0" height="5.0" fill="#e07a3a"/>
<rect x="3630.8" y="2011.8" width="6.0" height="6.0" fill="#8a8ae8"/>
<rect x="3660.8" y="1927.7" width="3.0" height="8.4" fill="#7a7ae0"/>
<rect x="3658.8" y="2001.3" width="8.0" height="5.0" fill="#e07a3a"/>
<rect x="3659.8" y="2011.8" width="6.0" height="6.0" fill="#8a8ae8"/>
<rect x="3546.8" y="1886.3" width="22.0" height="3.0" fill="#a8b8a8"/>
<rect x="3544.8" y="1891.3" width="30.0" height="5.0" fill="#86b07c"/>
<rect x="3570.8" y="1900.3" width="30.0" height="4.0" fill="#4a4ad0"/>
<rect x="3552.8" y="1904.3" width="12.0" height="5.0" fill="#d8c040"/>
<rect x="3542.8" y="1907.3" width="18.0" height="4.0" fill="#a8a8a8"/>
<rect x="3564.8" y="1906.8" width="34.0" height="5.0" fill="#b04434"/>
<rect x="3598.3" y="1963.3" width="5.5" height="5.0" fill="#16164a"/>
<rect x="3597.8" y="1968.3" width="6.5" height="10.0" fill="#e4eaf8"/>
<rect x="3597.3" y="1978.3" width="7.5" height="9.0" fill="#c8d4f0"/>
<rect x="3674.6" y="1882.3" width="137.0" height="137.7" fill="#4242cf"/>
<rect x="3674.6" y="1882.3" width="137.0" height="32.7" fill="#7b7b74"/>
<rect x="3674.6" y="1915.0" width="137.0" height="6.1" fill="#2f7a3a"/>
<rect x="3674.6" y="1921.1" width="137.0" height="3.6" fill="#9a5a34"/>
<rect x="3674.6" y="1924.7" width="137.0" height="3.0" fill="#c89c9c"/>
<rect x="3674.6" y="1927.7" width="137.0" height="8.4" fill="#3c46d2"/>
<rect x="3674.6" y="1936.1" width="137.0" height="6.4" fill="#c87a3a"/>
<rect x="3674.6" y="1942.5" width="137.0" height="3.6" fill="#6a5cc4"/>
<rect x="3674.6" y="1989.1" width="137.0" height="11.0" fill="#c4722c"/>
<rect x="3674.6" y="2000.1" width="137.0" height="11.0" fill="#b02c20"/>
<rect x="3674.6" y="2011.1" width="137.0" height="8.9" fill="#2e2ecc"/>
<rect x="3690.6" y="1927.7" width="3.0" height="8.4" fill="#7a7ae0"/>
<rect x="3688.6" y="2001.3" width="8.0" height="5.0" fill="#e07a3a"/>
<rect x="3689.6" y="2011.8" width="6.0" height="6.0" fill="#8a8ae8"/>
<rect x="3719.6" y="1927.7" width="3.0" height="8.4" fill="#7a7ae0"/>
<rect x="3717.6" y="2001.3" width="8.0" height="5.0" fill="#e07a3a"/>
<rect x="3718.6" y="2011.8" width="6.0" height="6.0" fill="#8a8ae8"/>
<rect x="3748.6" y="1927.7" width="3.0" height="8.4" fill="#7a7ae0"/>
<rect x="3746.6" y="2001.3" width="8.0" height="5.0" fill="#e07a3a"/>
<rect x="3747.6" y="2011.8" width="6.0" height="6.0" fill="#8a8ae8"/>
<rect x="3777.6" y="1927.7" width="3.0" height="8.4" fill="#7a7ae0"/>
<rect x="3775.6" y="2001.3" width="8.0" height="5.0" fill="#e07a3a"/>
<rect x="3776.6" y="2011.8" width="6.0" height="6.0" fill="#8a8ae8"/>
<rect x="3806.6" y="1927.7" width="3.0" height="8.4" fill="#7a7ae0"/>
<rect x="3804.6" y="2001.3" width="8.0" height="5.0" fill="#e07a3a"/>
<rect x="3805.6" y="2011.8" width="6.0" height="6.0" fill="#8a8ae8"/>
<rect x="3692.6" y="1886.3" width="22.0" height="3.0" fill="#a8b8a8"/>
<rect x="3690.6" y="1891.3" width="30.0" height="5.0" fill="#86b07c"/>
<rect x="3716.6" y="1900.3" width="30.0" height="4.0" fill="#4a4ad0"/>
<rect x="3698.6" y="1904.3" width="12.0" height="5.0" fill="#d8c040"/>
<rect x="3688.6" y="1907.3" width="18.0" height="4.0" fill="#a8a8a8"/>
<rect x="3710.6" y="1906.8" width="34.0" height="5.0" fill="#b04434"/>
<rect x="3741.1" y="1963.3" width="5.5" height="5.0" fill="#16164a"/>
<rect x="3740.6" y="1968.3" width="6.5" height="10.0" fill="#e4eaf8"/>
<rect x="3740.1" y="1978.3" width="7.5" height="9.0" fill="#c8d4f0"/>
<rect x="3820.3" y="1882.3" width="137.0" height="137.7" fill="#4242cf"/>
<rect x="3820.3" y="1882.3" width="137.0" height="32.7" fill="#7b7b74"/>
<rect x="3820.3" y="1915.0" width="137.0" height="6.1" fill="#2f7a3a"/>
<rect x="3820.3" y="1921.1" width="137.0" height="3.6" fill="#9a5a34"/>
<rect x="3820.3" y="1924.7" width="137.0" height="3.0" fill="#c89c9c"/>
<rect x="3820.3" y="1927.7" width="137.0" height="8.4" fill="#3c46d2"/>
<rect x="3820.3" y="1936.1" width="137.0" height="6.4" fill="#c87a3a"/>
<rect x="3820.3" y="1942.5" width="137.0" height="3.6" fill="#6a5cc4"/>
<rect x="3820.3" y="1989.1" width="137.0" height="11.0" fill="#c4722c"/>
<rect x="3820.3" y="2000.1" width="137.0" height="11.0" fill="#b02c20"/>
<rect x="3820.3" y="2011.1" width="137.0" height="8.9" fill="#2e2ecc"/>
<rect x="3836.3" y="1927.7" width="3.0" height="8.4" fill="#7a7ae0"/>
<rect x="3834.3" y="2001.3" width="8.0" height="5.0" fill="#e07a3a"/>
<rect x="3835.3" y="2011.8" width="6.0" height="6.0" fill="#8a8ae8"/>
<rect x="3865.3" y="1927.7" width="3.0" height="8.4" fill="#7a7ae0"/>
<rect x="3863.3" y="2001.3" width="8.0" height="5.0" fill="#e07a3a"/>
<rect x="3864.3" y="2011.8" width="6.0" height="6.0" fill="#8a8ae8"/>
<rect x="3894.3" y="1927.7" width="3.0" height="8.4" fill="#7a7ae0"/>
<rect x="3892.3" y="2001.3" width="8.0" height="5.0" fill="#e07a3a"/>
<rect x="3893.3" y="2011.8" width="6.0" height="6.0" fill="#8a8ae8"/>
<rect x="3923.3" y="1927.7" width="3.0" height="8.4" fill="#7a7ae0"/>
<rect x="3921.3" y="2001.3" width="8.0" height="5.0" fill="#e07a3a"/>
<rect x="3922.3" y="2011.8" width="6.0" height="6.0" fill="#8a8ae8"/>
<rect x="3952.3" y="1927.7" width="3.0" height="8.4" fill="#7a7ae0"/>
<rect x="3950.3" y="2001.3" width="8.0" height="5.0" fill="#e07a3a"/>
<rect x="3951.3" y="2011.8" width="6.0" height="6.0" fill="#8a8ae8"/>
<rect x="3838.3" y="1886.3" width="22.0" height="3.0" fill="#a8b8a8"/>
<rect x="3836.3" y="1891.3" width="30.0" height="5.0" fill="#86b07c"/>
<rect x="3862.3" y="1900.3" width="30.0" height="4.0" fill="#4a4ad0"/>
<rect x="3844.3" y="1904.3" width="12.0" height="5.0" fill="#d8c040"/>
<rect x="3834.3" y="1907.3" width="18.0" height="4.0" fill="#a8a8a8"/>
<rect x="3856.3" y="1906.8" width="34.0" height="5.0" fill="#b04434"/>
<rect x="3885.8" y="1963.3" width="5.5" height="5.0" fill="#16164a"/>
<rect x="3885.3" y="1968.3" width="6.5" height="10.0" fill="#e4eaf8"/>
<rect x="3884.8" y="1978.3" width="7.5" height="9.0" fill="#c8d4f0"/>
<rect x="3827.3" y="1965.3" width="4.5" height="4.5" fill="#1a1a4a"/>
<rect x="3826.8" y="1970.3" width="5.0" height="8.0" fill="#5a5ae0"/>
<rect x="3826.3" y="1978.3" width="6.0" height="8.0" fill="#78c0f0"/>
<rect x="3966.1" y="1882.3" width="137.0" height="137.7" fill="#4242cf"/>
<rect x="3966.1" y="1882.3" width="137.0" height="32.7" fill="#7b7b74"/>
<rect x="3966.1" y="1915.0" width="137.0" height="6.1" fill="#2f7a3a"/>
<rect x="3966.1" y="1921.1" width="137.0" height="3.6" fill="#9a5a34"/>
<rect x="3966.1" y="1924.7" width="137.0" height="3.0" fill="#c89c9c"/>
<rect x="3966.1" y="1927.7" width="137.0" height="8.4" fill="#3c46d2"/>
<rect x="3966.1" y="1936.1" width="137.0" height="6.4" fill="#c87a3a"/>
<rect x="3966.1" y="1942.5" width="137.0" height="3.6" fill="#6a5cc4"/>
<rect x="3966.1" y="1989.1" width="137.0" height="11.0" fill="#c4722c"/>
<rect x="3966.1" y="2000.1" width="137.0" height="11.0" fill="#b02c20"/>
<rect x="3966.1" y="2011.1" width="137.0" height="8.9" fill="#2e2ecc"/>
<rect x="3982.1" y="1927.7" width="3.0" height="8.4" fill="#7a7ae0"/>
<rect x="3980.1" y="2001.3" width="8.0" height="5.0" fill="#e07a3a"/>
<rect x="3981.1" y="2011.8" width="6.0" height="6.0" fill="#8a8ae8"/>
<rect x="4011.1" y="1927.7" width="3.0" height="8.4" fill="#7a7ae0"/>
<rect x="4009.1" y="2001.3" width="8.0" height="5.0" fill="#e07a3a"/>
<rect x="4010.1" y="2011.8" width="6.0" height="6.0" fill="#8a8ae8"/>
<rect x="4040.1" y="1927.7" width="3.0" height="8.4" fill="#7a7ae0"/>
<rect x="4038.1" y="2001.3" width="8.0" height="5.0" fill="#e07a3a"/>
<rect x="4039.1" y="2011.8" width="6.0" height="6.0" fill="#8a8ae8"/>
<rect x="4069.1" y="1927.7" width="3.0" height="8.4" fill="#7a7ae0"/>
<rect x="4067.1" y="2001.3" width="8.0" height="5.0" fill="#e07a3a"/>
<rect x="4068.1" y="2011.8" width="6.0" height="6.0" fill="#8a8ae8"/>
<rect x="4098.1" y="1927.7" width="3.0" height="8.4" fill="#7a7ae0"/>
<rect x="4096.1" y="2001.3" width="8.0" height="5.0" fill="#e07a3a"/>
<rect x="4097.1" y="2011.8" width="6.0" height="6.0" fill="#8a8ae8"/>
<rect x="3984.1" y="1886.3" width="22.0" height="3.0" fill="#a8b8a8"/>
<rect x="3982.1" y="1891.3" width="30.0" height="5.0" fill="#86b07c"/>
<rect x="4008.1" y="1900.3" width="30.0" height="4.0" fill="#4a4ad0"/>
<rect x="3990.1" y="1904.3" width="12.0" height="5.0" fill="#d8c040"/>
<rect x="3980.1" y="1907.3" width="18.0" height="4.0" fill="#a8a8a8"/>
<rect x="4002.1" y="1906.8" width="34.0" height="5.0" fill="#b04434"/>
<rect x="4033.6" y="1963.3" width="5.5" height="5.0" fill="#16164a"/>
<rect x="4033.1" y="1968.3" width="6.5" height="10.0" fill="#e4eaf8"/>
<rect x="4032.6" y="1978.3" width="7.5" height="9.0" fill="#c8d4f0"/>
<rect x="3981.1" y="1965.3" width="4.5" height="4.5" fill="#1a1a4a"/>
<rect x="3980.6" y="1970.3" width="5.0" height="8.0" fill="#5a5ae0"/>
<rect x="3980.1" y="1978.3" width="6.0" height="8.0" fill="#78c0f0"/>
<rect x="4111.8" y="1882.3" width="137.0" height="137.7" fill="#4242cf"/>
<rect x="4111.8" y="1882.3" width="137.0" height="32.7" fill="#7b7b74"/>
<rect x="4111.8" y="1915.0" width="137.0" height="6.1" fill="#2f7a3a"/>
<rect x="4111.8" y="1921.1" width="137.0" height="3.6" fill="#9a5a34"/>
<rect x="4111.8" y="1924.7" width="137.0" height="3.0" fill="#c89c9c"/>
<rect x="4111.8" y="1927.7" width="137.0" height="8.4" fill="#3c46d2"/>
<rect x="4111.8" y="1936.1" width="137.0" height="6.4" fill="#c87a3a"/>
<rect x="4111.8" y="1942.5" width="137.0" height="3.6" fill="#6a5cc4"/>
<rect x="4111.8" y="1989.1" width="137.0" height="11.0" fill="#c4722c"/>
<rect x="4111.8" y="2000.1" width="137.0" height="11.0" fill="#b02c20"/>
<rect x="4111.8" y="2011.1" width="137.0" height="8.9" fill="#2e2ecc"/>
<rect x="4127.8" y="1927.7" width="3.0" height="8.4" fill="#7a7ae0"/>
<rect x="4125.8" y="2001.3" width="8.0" height="5.0" fill="#e07a3a"/>
<rect x="4126.8" y="2011.8" width="6.0" height="6.0" fill="#8a8ae8"/>
<rect x="4156.8" y="1927.7" width="3.0" height="8.4" fill="#7a7ae0"/>
<rect x="4154.8" y="2001.3" width="8.0" height="5.0" fill="#e07a3a"/>
<rect x="4155.8" y="2011.8" width="6.0" height="6.0" fill="#8a8ae8"/>
<rect x="4185.8" y="1927.7" width="3.0" height="8.4" fill="#7a7ae0"/>
<rect x="4183.8" y="2001.3" width="8.0" height="5.0" fill="#e07a3a"/>
<rect x="4184.8" y="2011.8" width="6.0" height="6.0" fill="#8a8ae8"/>
<rect x="4214.8" y="1927.7" width="3.0" height="8.4" fill="#7a7ae0"/>
<rect x="4212.8" y="2001.3" width="8.0" height="5.0" fill="#e07a3a"/>
<rect x="4213.8" y="2011.8" width="6.0" height="6.0" fill="#8a8ae8"/>
<rect x="4243.8" y="1927.7" width="3.0" height="8.4" fill="#7a7ae0"/>
<rect x="4241.8" y="2001.3" width="8.0" height="5.0" fill="#e07a3a"/>
<rect x="4242.8" y="2011.8" width="6.0" height="6.0" fill="#8a8ae8"/>
<rect x="4129.8" y="1886.3" width="22.0" height="3.0" fill="#a8b8a8"/>
<rect x="4127.8" y="1891.3" width="30.0" height="5.0" fill="#86b07c"/>
<rect x="4153.8" y="1900.3" width="30.0" height="4.0" fill="#4a4ad0"/>
<rect x="4135.8" y="1904.3" width="12.0" height="5.0" fill="#d8c040"/>
<rect x="4125.8" y="1907.3" width="18.0" height="4.0" fill="#a8a8a8"/>
<rect x="4147.8" y="1906.8" width="34.0" height="5.0" fill="#b04434"/>
<rect x="4178.3" y="1963.3" width="5.5" height="5.0" fill="#16164a"/>
<rect x="4177.8" y="1968.3" width="6.5" height="10.0" fill="#e4eaf8"/>
<rect x="4177.3" y="1978.3" width="7.5" height="9.0" fill="#c8d4f0"/>
<rect x="4133.8" y="1965.3" width="4.5" height="4.5" fill="#1a1a4a"/>
<rect x="4133.3" y="1970.3" width="5.0" height="8.0" fill="#5a5ae0"/>
<rect x="4132.8" y="1978.3" width="6.0" height="8.0" fill="#78c0f0"/>
<rect x="2945.8" y="2028.2" width="137.0" height="137.7" fill="#4242cf"/>
<rect x="2945.8" y="2028.2" width="137.0" height="32.7" fill="#7b7b74"/>
<rect x="2945.8" y="2060.9" width="137.0" height="6.1" fill="#2f7a3a"/>
<rect x="2945.8" y="2067.0" width="137.0" height="3.6" fill="#9a5a34"/>
<rect x="2945.8" y="2070.6" width="137.0" height="3.0" fill="#c89c9c"/>
<rect x="2945.8" y="2073.6" width="137.0" height="8.4" fill="#3c46d2"/>
<rect x="2945.8" y="2082.0" width="137.0" height="6.4" fill="#c87a3a"/>
<rect x="2945.8" y="2088.4" width="137.0" height="3.6" fill="#6a5cc4"/>
<rect x="2945.8" y="2135.0" width="137.0" height="11.0" fill="#c4722c"/>
<rect x="2945.8" y="2146.0" width="137.0" height="11.0" fill="#b02c20"/>
<rect x="2945.8" y="2157.0" width="137.0" height="8.9" fill="#2e2ecc"/>
<rect x="2961.8" y="2073.6" width="3.0" height="8.4" fill="#7a7ae0"/>
<rect x="2959.8" y="2147.2" width="8.0" height="5.0" fill="#e07a3a"/>
<rect x="2960.8" y="2157.7" width="6.0" height="6.0" fill="#8a8ae8"/>
<rect x="2990.8" y="2073.6" width="3.0" height="8.4" fill="#7a7ae0"/>
<rect x="2988.8" y="2147.2" width="8.0" height="5.0" fill="#e07a3a"/>
<rect x="2989.8" y="2157.7" width="6.0" height="6.0" fill="#8a8ae8"/>
<rect x="3019.8" y="2073.6" width="3.0" height="8.4" fill="#7a7ae0"/>
<rect x="3017.8" y="2147.2" width="8.0" height="5.0" fill="#e07a3a"/>
<rect x="3018.8" y="2157.7" width="6.0" height="6.0" fill="#8a8ae8"/>
<rect x="3048.8" y="2073.6" width="3.0" height="8.4" fill="#7a7ae0"/>
<rect x="3046.8" y="2147.2" width="8.0" height="5.0" fill="#e07a3a"/>
<rect x="3047.8" y="2157.7" width="6.0" height="6.0" fill="#8a8ae8"/>
<rect x="3077.8" y="2073.6" width="3.0" height="8.4" fill="#7a7ae0"/>
<rect x="3075.8" y="2147.2" width="8.0" height="5.0" fill="#e07a3a"/>
<rect x="3076.8" y="2157.7" width="6.0" height="6.0" fill="#8a8ae8"/>
<rect x="2963.8" y="2032.2" width="22.0" height="3.0" fill="#a8b8a8"/>
<rect x="2961.8" y="2037.2" width="30.0" height="5.0" fill="#86b07c"/>
<rect x="2987.8" y="2046.2" width="30.0" height="4.0" fill="#4a4ad0"/>
<rect x="2969.8" y="2050.2" width="12.0" height="5.0" fill="#d8c040"/>
<rect x="2959.8" y="2053.2" width="18.0" height="4.0" fill="#a8a8a8"/>
<rect x="2981.8" y="2052.7" width="34.0" height="5.0" fill="#b04434"/>
<rect x="3009.3" y="2109.2" width="5.5" height="5.0" fill="#16164a"/>
<rect x="3008.8" y="2114.2" width="6.5" height="10.0" fill="#e4eaf8"/>
<rect x="3008.3" y="2124.2" width="7.5" height="9.0" fill="#c8d4f0"/>
<rect x="3091.6" y="2028.2" width="137.0" height="137.7" fill="#4242cf"/>
<rect x="3091.6" y="2028.2" width="137.0" height="32.7" fill="#7b7b74"/>
<rect x="3091.6" y="2060.9" width="137.0" height="6.1" fill="#2f7a3a"/>
<rect x="3091.6" y="2067.0" width="137.0" height="3.6" fill="#9a5a34"/>
<rect x="3091.6" y="2070.6" width="137.0" height="3.0" fill="#c89c9c"/>
<rect x="3091.6" y="2073.6" width="137.0" height="8.4" fill="#3c46d2"/>
<rect x="3091.6" y="2082.0" width="137.0" height="6.4" fill="#c87a3a"/>
<rect x="3091.6" y="2088.4" width="137.0" height="3.6" fill="#6a5cc4"/>
<rect x="3091.6" y="2135.0" width="137.0" height="11.0" fill="#c4722c"/>
<rect x="3091.6" y="2146.0" width="137.0" height="11.0" fill="#b02c20"/>
<rect x="3091.6" y="2157.0" width="137.0" height="8.9" fill="#2e2ecc"/>
<rect x="3107.6" y="2073.6" width="3.0" height="8.4" fill="#7a7ae0"/>
<rect x="3105.6" y="2147.2" width="8.0" height="5.0" fill="#e07a3a"/>
<rect x="3106.6" y="2157.7" width="6.0" height="6.0" fill="#8a8ae8"/>
<rect x="3136.6" y="2073.6" width="3.0" height="8.4" fill="#7a7ae0"/>
<rect x="3134.6" y="2147.2" width="8.0" height="5.0" fill="#e07a3a"/>
<rect x="3135.6" y="2157.7" width="6.0" height="6.0" fill="#8a8ae8"/>
<rect x="3165.6" y="2073.6" width="3.0" height="8.4" fill="#7a7ae0"/>
<rect x="3163.6" y="2147.2" width="8.0" height="5.0" fill="#e07a3a"/>
<rect x="3164.6" y="2157.7" width="6.0" height="6.0" fill="#8a8ae8"/>
<rect x="3194.6" y="2073.6" width="3.0" height="8.4" fill="#7a7ae0"/>
<rect x="3192.6" y="2147.2" width="8.0" height="5.0" fill="#e07a3a"/>
<rect x="3193.6" y="2157.7" width="6.0" height="6.0" fill="#8a8ae8"/>
<rect x="3223.6" y="2073.6" width="3.0" height="8.4" fill="#7a7ae0"/>
<rect x="3221.6" y="2147.2" width="8.0" height="5.0" fill="#e07a3a"/>
<rect x="3222.6" y="2157.7" width="6.0" height="6.0" fill="#8a8ae8"/>
<rect x="3109.6" y="2032.2" width="22.0" height="3.0" fill="#a8b8a8"/>
<rect x="3107.6" y="2037.2" width="30.0" height="5.0" fill="#86b07c"/>
<rect x="3133.6" y="2046.2" width="30.0" height="4.0" fill="#4a4ad0"/>
<rect x="3115.6" y="2050.2" width="12.0" height="5.0" fill="#d8c040"/>
<rect x="3105.6" y="2053.2" width="18.0" height="4.0" fill="#a8a8a8"/>
<rect x="3127.6" y="2052.7" width="34.0" height="5.0" fill="#b04434"/>
<rect x="3155.1" y="2109.2" width="5.5" height="5.0" fill="#16164a"/>
<rect x="3154.6" y="2114.2" width="6.5" height="10.0" fill="#e4eaf8"/>
<rect x="3154.1" y="2124.2" width="7.5" height="9.0" fill="#c8d4f0"/>
<rect x="3099.6" y="2111.2" width="4.5" height="4.5" fill="#1a1a4a"/>
<rect x="3099.1" y="2116.2" width="5.0" height="8.0" fill="#5a5ae0"/>
<rect x="3098.6" y="2124.2" width="6.0" height="8.0" fill="#78c0f0"/>
<rect x="3237.3" y="2028.2" width="137.0" height="137.7" fill="#4242cf"/>
<rect x="3237.3" y="2028.2" width="137.0" height="32.7" fill="#7b7b74"/>
<rect x="3237.3" y="2060.9" width="137.0" height="6.1" fill="#2f7a3a"/>
<rect x="3237.3" y="2067.0" width="137.0" height="3.6" fill="#9a5a34"/>
<rect x="3237.3" y="2070.6" width="137.0" height="3.0" fill="#c89c9c"/>
<rect x="3237.3" y="2073.6" width="137.0" height="8.4" fill="#3c46d2"/>
<rect x="3237.3" y="2082.0" width="137.0" height="6.4" fill="#c87a3a"/>
<rect x="3237.3" y="2088.4" width="137.0" height="3.6" fill="#6a5cc4"/>
<rect x="3237.3" y="2135.0" width="137.0" height="11.0" fill="#c4722c"/>
<rect x="3237.3" y="2146.0" width="137.0" height="11.0" fill="#b02c20"/>
<rect x="3237.3" y="2157.0" width="137.0" height="8.9" fill="#2e2ecc"/>
<rect x="3253.3" y="2073.6" width="3.0" height="8.4" fill="#7a7ae0"/>
<rect x="3251.3" y="2147.2" width="8.0" height="5.0" fill="#e07a3a"/>
<rect x="3252.3" y="2157.7" width="6.0" height="6.0" fill="#8a8ae8"/>
<rect x="3282.3" y="2073.6" width="3.0" height="8.4" fill="#7a7ae0"/>
<rect x="3280.3" y="2147.2" width="8.0" height="5.0" fill="#e07a3a"/>
<rect x="3281.3" y="2157.7" width="6.0" height="6.0" fill="#8a8ae8"/>
<rect x="3311.3" y="2073.6" width="3.0" height="8.4" fill="#7a7ae0"/>
<rect x="3309.3" y="2147.2" width="8.0" height="5.0" fill="#e07a3a"/>
<rect x="3310.3" y="2157.7" width="6.0" height="6.0" fill="#8a8ae8"/>
<rect x="3340.3" y="2073.6" width="3.0" height="8.4" fill="#7a7ae0"/>
<rect x="3338.3" y="2147.2" width="8.0" height="5.0" fill="#e07a3a"/>
<rect x="3339.3" y="2157.7" width="6.0" height="6.0" fill="#8a8ae8"/>
<rect x="3369.3" y="2073.6" width="3.0" height="8.4" fill="#7a7ae0"/>
<rect x="3367.3" y="2147.2" width="8.0" height="5.0" fill="#e07a3a"/>
<rect x="3368.3" y="2157.7" width="6.0" height="6.0" fill="#8a8ae8"/>
<rect x="3255.3" y="2032.2" width="22.0" height="3.0" fill="#a8b8a8"/>
<rect x="3253.3" y="2037.2" width="30.0" height="5.0" fill="#86b07c"/>
<rect x="3279.3" y="2046.2" width="30.0" height="4.0" fill="#4a4ad0"/>
<rect x="3261.3" y="2050.2" width="12.0" height="5.0" fill="#d8c040"/>
<rect x="3251.3" y="2053.2" width="18.0" height="4.0" fill="#a8a8a8"/>
<rect x="3273.3" y="2052.7" width="34.0" height="5.0" fill="#b04434"/>
<rect x="3303.8" y="2109.2" width="5.5" height="5.0" fill="#16164a"/>
<rect x="3303.3" y="2114.2" width="6.5" height="10.0" fill="#e4eaf8"/>
<rect x="3302.8" y="2124.2" width="7.5" height="9.0" fill="#c8d4f0"/>
<rect x="3253.3" y="2111.2" width="4.5" height="4.5" fill="#1a1a4a"/>
<rect x="3252.8" y="2116.2" width="5.0" height="8.0" fill="#5a5ae0"/>
<rect x="3252.3" y="2124.2" width="6.0" height="8.0" fill="#78c0f0"/>
<rect x="3383.1" y="2028.2" width="137.0" height="137.7" fill="#4242cf"/>
<rect x="3383.1" y="2028.2" width="137.0" height="32.7" fill="#7b7b74"/>
<rect x="3383.1" y="2060.9" width="137.0" height="6.1" fill="#2f7a3a"/>
<rect x="3383.1" y="2067.0" width="137.0" height="3.6" fill="#9a5a34"/>
<rect x="3383.1" y="2070.6" width="137.0" height="3.0" fill="#c89c9c"/>
<rect x="3383.1" y="2073.6" width="137.0" height="8.4" fill="#3c46d2"/>
<rect x="3383.1" y="2082.0" width="137.0" height="6.4" fill="#c87a3a"/>
<rect x="3383.1" y="2088.4" width="137.0" height="3.6" fill="#6a5cc4"/>
<rect x="3383.1" y="2135.0" width="137.0" height="11.0" fill="#c4722c"/>
<rect x="3383.1" y="2146.0" width="137.0" height="11.0" fill="#b02c20"/>
<rect x="3383.1" y="2157.0" width="137.0" height="8.9" fill="#2e2ecc"/>
<rect x="3399.1" y="2073.6" width="3.0" height="8.4" fill="#7a7ae0"/>
<rect x="3397.1" y="2147.2" width="8.0" height="5.0" fill="#e07a3a"/>
<rect x="3398.1" y="2157.7" width="6.0" height="6.0" fill="#8a8ae8"/>
<rect x="3428.1" y="2073.6" width="3.0" height="8.4" fill="#7a7ae0"/>
<rect x="3426.1" y="2147.2" width="8.0" height="5.0" fill="#e07a3a"/>
<rect x="3427.1" y="2157.7" width="6.0" height="6.0" fill="#8a8ae8"/>
<rect x="3457.1" y="2073.6" width="3.0" height="8.4" fill="#7a7ae0"/>
<rect x="3455.1" y="2147.2" width="8.0" height="5.0" fill="#e07a3a"/>
<rect x="3456.1" y="2157.7" width="6.0" height="6.0" fill="#8a8ae8"/>
<rect x="3486.1" y="2073.6" width="3.0" height="8.4" fill="#7a7ae0"/>
<rect x="3484.1" y="2147.2" width="8.0" height="5.0" fill="#e07a3a"/>
<rect x="3485.1" y="2157.7" width="6.0" height="6.0" fill="#8a8ae8"/>
<rect x="3515.1" y="2073.6" width="3.0" height="8.4" fill="#7a7ae0"/>
<rect x="3513.1" y="2147.2" width="8.0" height="5.0" fill="#e07a3a"/>
<rect x="3514.1" y="2157.7" width="6.0" height="6.0" fill="#8a8ae8"/>
<rect x="3401.1" y="2032.2" width="22.0" height="3.0" fill="#a8b8a8"/>
<rect x="3399.1" y="2037.2" width="30.0" height="5.0" fill="#86b07c"/>
<rect x="3425.1" y="2046.2" width="30.0" height="4.0" fill="#4a4ad0"/>
<rect x="3407.1" y="2050.2" width="12.0" height="5.0" fill="#d8c040"/>
<rect x="3397.1" y="2053.2" width="18.0" height="4.0" fill="#a8a8a8"/>
<rect x="3419.1" y="2052.7" width="34.0" height="5.0" fill="#b04434"/>
<rect x="3448.6" y="2109.2" width="5.5" height="5.0" fill="#16164a"/>
<rect x="3448.1" y="2114.2" width="6.5" height="10.0" fill="#e4eaf8"/>
<rect x="3447.6" y="2124.2" width="7.5" height="9.0" fill="#c8d4f0"/>
<rect x="3408.1" y="2111.2" width="4.5" height="4.5" fill="#1a1a4a"/>
<rect x="3407.6" y="2116.2" width="5.0" height="8.0" fill="#5a5ae0"/>
<rect x="3407.1" y="2124.2" width="6.0" height="8.0" fill="#78c0f0"/>
<rect x="3387.1" y="2111.2" width="4.5" height="4.5" fill="#1a1a4a"/>
<rect x="3386.6" y="2116.2" width="5.0" height="8.0" fill="#5a5ae0"/>
<rect x="3386.1" y="2124.2" width="6.0" height="8.0" fill="#78c0f0"/>
<rect x="3528.8" y="2028.2" width="137.0" height="137.7" fill="#4242cf"/>
<rect x="3528.8" y="2028.2" width="137.0" height="32.7" fill="#7b7b74"/>
<rect x="3528.8" y="2060.9" width="137.0" height="6.1" fill="#2f7a3a"/>
<rect x="3528.8" y="2067.0" width="137.0" height="3.6" fill="#9a5a34"/>
<rect x="3528.8" y="2070.6" width="137.0" height="3.0" fill="#c89c9c"/>
<rect x="3528.8" y="2073.6" width="137.0" height="8.4" fill="#3c46d2"/>
<rect x="3528.8" y="2082.0" width="137.0" height="6.4" fill="#c87a3a"/>
<rect x="3528.8" y="2088.4" width="137.0" height="3.6" fill="#6a5cc4"/>
<rect x="3528.8" y="2135.0" width="137.0" height="11.0" fill="#c4722c"/>
<rect x="3528.8" y="2146.0" width="137.0" height="11.0" fill="#b02c20"/>
<rect x="3528.8" y="2157.0" width="137.0" height="8.9" fill="#2e2ecc"/>
<rect x="3544.8" y="2073.6" width="3.0" height="8.4" fill="#7a7ae0"/>
<rect x="3542.8" y="2147.2" width="8.0" height="5.0" fill="#e07a3a"/>
<rect x="3543.8" y="2157.7" width="6.0" height="6.0" fill="#8a8ae8"/>
<rect x="3573.8" y="2073.6" width="3.0" height="8.4" fill="#7a7ae0"/>
<rect x="3571.8" y="2147.2" width="8.0" height="5.0" fill="#e07a3a"/>
<rect x="3572.8" y="2157.7" width="6.0" height="6.0" fill="#8a8ae8"/>
<rect x="3602.8" y="2073.6" width="3.0" height="8.4" fill="#7a7ae0"/>
<rect x="3600.8" y="2147.2" width="8.0" height="5.0" fill="#e07a3a"/>
<rect x="3601.8" y="2157.7" width="6.0" height="6.0" fill="#8a8ae8"/>
<rect x="3631.8" y="2073.6" width="3.0" height="8.4" fill="#7a7ae0"/>
<rect x="3629.8" y="2147.2" width="8.0" height="5.0" fill="#e07a3a"/>
<rect x="3630.8" y="2157.7" width="6.0" height="6.0" fill="#8a8ae8"/>
<rect x="3660.8" y="2073.6" width="3.0" height="8.4" fill="#7a7ae0"/>
<rect x="3658.8" y="2147.2" width="8.0" height="5.0" fill="#e07a3a"/>
<rect x="3659.8" y="2157.7" width="6.0" height="6.0" fill="#8a8ae8"/>
<rect x="3546.8" y="2032.2" width="22.0" height="3.0" fill="#a8b8a8"/>
<rect x="3544.8" y="2037.2" width="30.0" height="5.0" fill="#86b07c"/>
<rect x="3570.8" y="2046.2" width="30.0" height="4.0" fill="#4a4ad0"/>
<rect x="3552.8" y="2050.2" width="12.0" height="5.0" fill="#d8c040"/>
<rect x="3542.8" y="2053.2" width="18.0" height="4.0" fill="#a8a8a8"/>
<rect x="3564.8" y="2052.7" width="34.0" height="5.0" fill="#b04434"/>
<rect x="3593.3" y="2109.2" width="5.5" height="5.0" fill="#16164a"/>
<rect x="3592.8" y="2114.2" width="6.5" height="10.0" fill="#e4eaf8"/>
<rect x="3592.3" y="2124.2" width="7.5" height="9.0" fill="#c8d4f0"/>
<rect x="3533.8" y="2111.2" width="4.5" height="4.5" fill="#1a1a4a"/>
<rect x="3533.3" y="2116.2" width="5.0" height="8.0" fill="#5a5ae0"/>
<rect x="3532.8" y="2124.2" width="6.0" height="8.0" fill="#78c0f0"/>
<rect x="3562.8" y="2111.2" width="4.5" height="4.5" fill="#1a1a4a"/>
<rect x="3562.3" y="2116.2" width="5.0" height="8.0" fill="#5a5ae0"/>
<rect x="3561.8" y="2124.2" width="6.0" height="8.0" fill="#78c0f0"/>
<rect x="3674.6" y="2028.2" width="137.0" height="137.7" fill="#4242cf"/>
<rect x="3674.6" y="2028.2" width="137.0" height="32.7" fill="#7b7b74"/>
<rect x="3674.6" y="2060.9" width="137.0" height="6.1" fill="#2f7a3a"/>
<rect x="3674.6" y="2067.0" width="137.0" height="3.6" fill="#9a5a34"/>
<rect x="3674.6" y="2070.6" width="137.0" height="3.0" fill="#c89c9c"/>
<rect x="3674.6" y="2073.6" width="137.0" height="8.4" fill="#3c46d2"/>
<rect x="3674.6" y="2082.0" width="137.0" height="6.4" fill="#c87a3a"/>
<rect x="3674.6" y="2088.4" width="137.0" height="3.6" fill="#6a5cc4"/>
<rect x="3674.6" y="2135.0" width="137.0" height="11.0" fill="#c4722c"/>
<rect x="3674.6" y="2146.0" width="137.0" height="11.0" fill="#b02c20"/>
<rect x="3674.6" y="2157.0" width="137.0" height="8.9" fill="#2e2ecc"/>
<rect x="3690.6" y="2073.6" width="3.0" height="8.4" fill="#7a7ae0"/>
<rect x="3688.6" y="2147.2" width="8.0" height="5.0" fill="#e07a3a"/>
<rect x="3689.6" y="2157.7" width="6.0" height="6.0" fill="#8a8ae8"/>
<rect x="3719.6" y="2073.6" width="3.0" height="8.4" fill="#7a7ae0"/>
<rect x="3717.6" y="2147.2" width="8.0" height="5.0" fill="#e07a3a"/>
<rect x="3718.6" y="2157.7" width="6.0" height="6.0" fill="#8a8ae8"/>
<rect x="3748.6" y="2073.6" width="3.0" height="8.4" fill="#7a7ae0"/>
<rect x="3746.6" y="2147.2" width="8.0" height="5.0" fill="#e07a3a"/>
<rect x="3747.6" y="2157.7" width="6.0" height="6.0" fill="#8a8ae8"/>
<rect x="3777.6" y="2073.6" width="3.0" height="8.4" fill="#7a7ae0"/>
<rect x="3775.6" y="2147.2" width="8.0" height="5.0" fill="#e07a3a"/>
<rect x="3776.6" y="2157.7" width="6.0" height="6.0" fill="#8a8ae8"/>
<rect x="3806.6" y="2073.6" width="3.0" height="8.4" fill="#7a7ae0"/>
<rect x="3804.6" y="2147.2" width="8.0" height="5.0" fill="#e07a3a"/>
<rect x="3805.6" y="2157.7" width="6.0" height="6.0" fill="#8a8ae8"/>
<rect x="3692.6" y="2032.2" width="22.0" height="3.0" fill="#a8b8a8"/>
<rect x="3690.6" y="2037.2" width="30.0" height="5.0" fill="#86b07c"/>
<rect x="3716.6" y="2046.2" width="30.0" height="4.0" fill="#4a4ad0"/>
<rect x="3698.6" y="2050.2" width="12.0" height="5.0" fill="#d8c040"/>
<rect x="3688.6" y="2053.2" width="18.0" height="4.0" fill="#a8a8a8"/>
<rect x="3710.6" y="2052.7" width="34.0" height="5.0" fill="#b04434"/>
<rect x="3739.1" y="2109.2" width="5.5" height="5.0" fill="#16164a"/>
<rect x="3738.6" y="2114.2" width="6.5" height="10.0" fill="#e4eaf8"/>
<rect x="3738.1" y="2124.2" width="7.5" height="9.0" fill="#c8d4f0"/>
<rect x="3686.6" y="2111.2" width="4.5" height="4.5" fill="#1a1a4a"/>
<rect x="3686.1" y="2116.2" width="5.0" height="8.0" fill="#5a5ae0"/>
<rect x="3685.6" y="2124.2" width="6.0" height="8.0" fill="#78c0f0"/>
<rect x="3715.6" y="2111.2" width="4.5" height="4.5" fill="#1a1a4a"/>
<rect x="3715.1" y="2116.2" width="5.0" height="8.0" fill="#5a5ae0"/>
<rect x="3714.6" y="2124.2" width="6.0" height="8.0" fill="#78c0f0"/>
<rect x="3820.3" y="2028.2" width="137.0" height="137.7" fill="#4242cf"/>
<rect x="3820.3" y="2028.2" width="137.0" height="32.7" fill="#7b7b74"/>
<rect x="3820.3" y="2060.9" width="137.0" height="6.1" fill="#2f7a3a"/>
<rect x="3820.3" y="2067.0" width="137.0" height="3.6" fill="#9a5a34"/>
<rect x="3820.3" y="2070.6" width="137.0" height="3.0" fill="#c89c9c"/>
<rect x="3820.3" y="2073.6" width="137.0" height="8.4" fill="#3c46d2"/>
<rect x="3820.3" y="2082.0" width="137.0" height="6.4" fill="#c87a3a"/>
<rect x="3820.3" y="2088.4" width="137.0" height="3.6" fill="#6a5cc4"/>
<rect x="3820.3" y="2135.0" width="137.0" height="11.0" fill="#c4722c"/>
<rect x="3820.3" y="2146.0" width="137.0" height="11.0" fill="#b02c20"/>
<rect x="3820.3" y="2157.0" width="137.0" height="8.9" fill="#2e2ecc"/>
<rect x="3836.3" y="2073.6" width="3.0" height="8.4" fill="#7a7ae0"/>
<rect x="3834.3" y="2147.2" width="8.0" height="5.0" fill="#e07a3a"/>
<rect x="3835.3" y="2157.7" width="6.0" height="6.0" fill="#8a8ae8"/>
<rect x="3865.3" y="2073.6" width="3.0" height="8.4" fill="#7a7ae0"/>
<rect x="3863.3" y="2147.2" width="8.0" height="5.0" fill="#e07a3a"/>
<rect x="3864.3" y="2157.7" width="6.0" height="6.0" fill="#8a8ae8"/>
<rect x="3894.3" y="2073.6" width="3.0" height="8.4" fill="#7a7ae0"/>
<rect x="3892.3" y="2147.2" width="8.0" height="5.0" fill="#e07a3a"/>
<rect x="3893.3" y="2157.7" width="6.0" height="6.0" fill="#8a8ae8"/>
<rect x="3923.3" y="2073.6" width="3.0" height="8.4" fill="#7a7ae0"/>
<rect x="3921.3" y="2147.2" width="8.0" height="5.0" fill="#e07a3a"/>
<rect x="3922.3" y="2157.7" width="6.0" height="6.0" fill="#8a8ae8"/>
<rect x="3952.3" y="2073.6" width="3.0" height="8.4" fill="#7a7ae0"/>
<rect x="3950.3" y="2147.2" width="8.0" height="5.0" fill="#e07a3a"/>
<rect x="3951.3" y="2157.7" width="6.0" height="6.0" fill="#8a8ae8"/>
<rect x="3838.3" y="2032.2" width="22.0" height="3.0" fill="#a8b8a8"/>
<rect x="3836.3" y="2037.2" width="30.0" height="5.0" fill="#86b07c"/>
<rect x="3862.3" y="2046.2" width="30.0" height="4.0" fill="#4a4ad0"/>
<rect x="3844.3" y="2050.2" width="12.0" height="5.0" fill="#d8c040"/>
<rect x="3834.3" y="2053.2" width="18.0" height="4.0" fill="#a8a8a8"/>
<rect x="3856.3" y="2052.7" width="34.0" height="5.0" fill="#b04434"/>
<rect x="3885.8" y="2109.2" width="5.5" height="5.0" fill="#16164a"/>
<rect x="3885.3" y="2114.2" width="6.5" height="10.0" fill="#e4eaf8"/>
<rect x="3884.8" y="2124.2" width="7.5" height="9.0" fill="#c8d4f0"/>
<rect x="3841.3" y="2111.2" width="4.5" height="4.5" fill="#1a1a4a"/>
<rect x="3840.8" y="2116.2" width="5.0" height="8.0" fill="#5a5ae0"/>
<rect x="3840.3" y="2124.2" width="6.0" height="8.0" fill="#78c0f0"/>
<rect x="3869.3" y="2111.2" width="4.5" height="4.5" fill="#1a1a4a"/>
<rect x="3868.8" y="2116.2" width="5.0" height="8.0" fill="#5a5ae0"/>
<rect x="3868.3" y="2124.2" width="6.0" height="8.0" fill="#78c0f0"/>
<rect x="3966.1" y="2028.2" width="137.0" height="137.7" fill="#4242cf"/>
<rect x="3966.1" y="2028.2" width="137.0" height="32.7" fill="#7b7b74"/>
<rect x="3966.1" y="2060.9" width="137.0" height="6.1" fill="#2f7a3a"/>
<rect x="3966.1" y="2067.0" width="137.0" height="3.6" fill="#9a5a34"/>
<rect x="3966.1" y="2070.6" width="137.0" height="3.0" fill="#c89c9c"/>
<rect x="3966.1" y="2073.6" width="137.0" height="8.4" fill="#3c46d2"/>
<rect x="3966.1" y="2082.0" width="137.0" height="6.4" fill="#c87a3a"/>
<rect x="3966.1" y="2088.4" width="137.0" height="3.6" fill="#6a5cc4"/>
<rect x="3966.1" y="2135.0" width="137.0" height="11.0" fill="#c4722c"/>
<rect x="3966.1" y="2146.0" width="137.0" height="11.0" fill="#b02c20"/>
<rect x="3966.1" y="2157.0" width="137.0" height="8.9" fill="#2e2ecc"/>
<rect x="3982.1" y="2073.6" width="3.0" height="8.4" fill="#7a7ae0"/>
<rect x="3980.1" y="2147.2" width="8.0" height="5.0" fill="#e07a3a"/>
<rect x="3981.1" y="2157.7" width="6.0" height="6.0" fill="#8a8ae8"/>
<rect x="4011.1" y="2073.6" width="3.0" height="8.4" fill="#7a7ae0"/>
<rect x="4009.1" y="2147.2" width="8.0" height="5.0" fill="#e07a3a"/>
<rect x="4010.1" y="2157.7" width="6.0" height="6.0" fill="#8a8ae8"/>
<rect x="4040.1" y="2073.6" width="3.0" height="8.4" fill="#7a7ae0"/>
<rect x="4038.1" y="2147.2" width="8.0" height="5.0" fill="#e07a3a"/>
<rect x="4039.1" y="2157.7" width="6.0" height="6.0" fill="#8a8ae8"/>
<rect x="4069.1" y="2073.6" width="3.0" height="8.4" fill="#7a7ae0"/>
<rect x="4067.1" y="2147.2" width="8.0" height="5.0" fill="#e07a3a"/>
<rect x="4068.1" y="2157.7" width="6.0" height="6.0" fill="#8a8ae8"/>
<rect x="4098.1" y="2073.6" width="3.0" height="8.4" fill="#7a7ae0"/>
<rect x="4096.1" y="2147.2" width="8.0" height="5.0" fill="#e07a3a"/>
<rect x="4097.1" y="2157.7" width="6.0" height="6.0" fill="#8a8ae8"/>
<rect x="3984.1" y="2032.2" width="22.0" height="3.0" fill="#a8b8a8"/>
<rect x="3982.1" y="2037.2" width="30.0" height="5.0" fill="#86b07c"/>
<rect x="4008.1" y="2046.2" width="30.0" height="4.0" fill="#4a4ad0"/>
<rect x="3990.1" y="2050.2" width="12.0" height="5.0" fill="#d8c040"/>
<rect x="3980.1" y="2053.2" width="18.0" height="4.0" fill="#a8a8a8"/>
<rect x="4002.1" y="2052.7" width="34.0" height="5.0" fill="#b04434"/>
<rect x="4030.6" y="2109.2" width="5.5" height="5.0" fill="#16164a"/>
<rect x="4030.1" y="2114.2" width="6.5" height="10.0" fill="#e4eaf8"/>
<rect x="4029.6" y="2124.2" width="7.5" height="9.0" fill="#c8d4f0"/>
<rect x="3995.1" y="2111.2" width="4.5" height="4.5" fill="#1a1a4a"/>
<rect x="3994.6" y="2116.2" width="5.0" height="8.0" fill="#5a5ae0"/>
<rect x="3994.1" y="2124.2" width="6.0" height="8.0" fill="#78c0f0"/>
<rect x="4111.8" y="2028.2" width="137.0" height="137.7" fill="#4242cf"/>
<rect x="4111.8" y="2028.2" width="137.0" height="32.7" fill="#7b7b74"/>
<rect x="4111.8" y="2060.9" width="137.0" height="6.1" fill="#2f7a3a"/>
<rect x="4111.8" y="2067.0" width="137.0" height="3.6" fill="#9a5a34"/>
<rect x="4111.8" y="2070.6" width="137.0" height="3.0" fill="#c89c9c"/>
<rect x="4111.8" y="2073.6" width="137.0" height="8.4" fill="#3c46d2"/>
<rect x="4111.8" y="2082.0" width="137.0" height="6.4" fill="#c87a3a"/>
<rect x="4111.8" y="2088.4" width="137.0" height="3.6" fill="#6a5cc4"/>
<rect x="4111.8" y="2135.0" width="137.0" height="11.0" fill="#c4722c"/>
<rect x="4111.8" y="2146.0" width="137.0" height="11.0" fill="#b02c20"/>
<rect x="4111.8" y="2157.0" width="137.0" height="8.9" fill="#2e2ecc"/>
<rect x="4127.8" y="2073.6" width="3.0" height="8.4" fill="#7a7ae0"/>
<rect x="4125.8" y="2147.2" width="8.0" height="5.0" fill="#e07a3a"/>
<rect x="4126.8" y="2157.7" width="6.0" height="6.0" fill="#8a8ae8"/>
<rect x="4156.8" y="2073.6" width="3.0" height="8.4" fill="#7a7ae0"/>
<rect x="4154.8" y="2147.2" width="8.0" height="5.0" fill="#e07a3a"/>
<rect x="4155.8" y="2157.7" width="6.0" height="6.0" fill="#8a8ae8"/>
<rect x="4185.8" y="2073.6" width="3.0" height="8.4" fill="#7a7ae0"/>
<rect x="4183.8" y="2147.2" width="8.0" height="5.0" fill="#e07a3a"/>
<rect x="4184.8" y="2157.7" width="6.0" height="6.0" fill="#8a8ae8"/>
<rect x="4214.8" y="2073.6" width="3.0" height="8.4" fill="#7a7ae0"/>
<rect x="4212.8" y="2147.2" width="8.0" height="5.0" fill="#e07a3a"/>
<rect x="4213.8" y="2157.7" width="6.0" height="6.0" fill="#8a8ae8"/>
<rect x="4243.8" y="2073.6" width="3.0" height="8.4" fill="#7a7ae0"/>
<rect x="4241.8" y="2147.2" width="8.0" height="5.0" fill="#e07a3a"/>
<rect x="4242.8" y="2157.7" width="6.0" height="6.0" fill="#8a8ae8"/>
<rect x="4129.8" y="2032.2" width="22.0" height="3.0" fill="#a8b8a8"/>
<rect x="4127.8" y="2037.2" width="30.0" height="5.0" fill="#86b07c"/>
<rect x="4153.8" y="2046.2" width="30.0" height="4.0" fill="#4a4ad0"/>
<rect x="4135.8" y="2050.2" width="12.0" height="5.0" fill="#d8c040"/>
<rect x="4125.8" y="2053.2" width="18.0" height="4.0" fill="#a8a8a8"/>
<rect x="4147.8" y="2052.7" width="34.0" height="5.0" fill="#b04434"/>
<rect x="4178.3" y="2109.2" width="5.5" height="5.0" fill="#16164a"/>
<rect x="4177.8" y="2114.2" width="6.5" height="10.0" fill="#e4eaf8"/>
<rect x="4177.3" y="2124.2" width="7.5" height="9.0" fill="#c8d4f0"/>
<rect x="4148.8" y="2111.2" width="4.5" height="4.5" fill="#1a1a4a"/>
<rect x="4148.3" y="2116.2" width="5.0" height="8.0" fill="#5a5ae0"/>
<rect x="4147.8" y="2124.2" width="6.0" height="8.0" fill="#78c0f0"/>
<rect x="2945.8" y="2174.1" width="137.0" height="137.7" fill="#4242cf"/>
<rect x="2945.8" y="2174.1" width="137.0" height="32.7" fill="#7b7b74"/>
<rect x="2945.8" y="2206.8" width="137.0" height="6.1" fill="#2f7a3a"/>
<rect x="2945.8" y="2212.9" width="137.0" height="3.6" fill="#9a5a34"/>
<rect x="2945.8" y="2216.5" width="137.0" height="3.0" fill="#c89c9c"/>
<rect x="2945.8" y="2219.5" width="137.0" height="8.4" fill="#3c46d2"/>
<rect x="2945.8" y="2227.9" width="137.0" height="6.4" fill="#c87a3a"/>
<rect x="2945.8" y="2234.3" width="137.0" height="3.6" fill="#6a5cc4"/>
<rect x="2945.8" y="2280.9" width="137.0" height="11.0" fill="#c4722c"/>
<rect x="2945.8" y="2291.9" width="137.0" height="11.0" fill="#b02c20"/>
<rect x="2945.8" y="2302.9" width="137.0" height="8.9" fill="#2e2ecc"/>
<rect x="2961.8" y="2219.5" width="3.0" height="8.4" fill="#7a7ae0"/>
<rect x="2959.8" y="2293.1" width="8.0" height="5.0" fill="#e07a3a"/>
<rect x="2960.8" y="2303.6" width="6.0" height="6.0" fill="#8a8ae8"/>
<rect x="2990.8" y="2219.5" width="3.0" height="8.4" fill="#7a7ae0"/>
<rect x="2988.8" y="2293.1" width="8.0" height="5.0" fill="#e07a3a"/>
<rect x="2989.8" y="2303.6" width="6.0" height="6.0" fill="#8a8ae8"/>
<rect x="3019.8" y="2219.5" width="3.0" height="8.4" fill="#7a7ae0"/>
<rect x="3017.8" y="2293.1" width="8.0" height="5.0" fill="#e07a3a"/>
<rect x="3018.8" y="2303.6" width="6.0" height="6.0" fill="#8a8ae8"/>
<rect x="3048.8" y="2219.5" width="3.0" height="8.4" fill="#7a7ae0"/>
<rect x="3046.8" y="2293.1" width="8.0" height="5.0" fill="#e07a3a"/>
<rect x="3047.8" y="2303.6" width="6.0" height="6.0" fill="#8a8ae8"/>
<rect x="3077.8" y="2219.5" width="3.0" height="8.4" fill="#7a7ae0"/>
<rect x="3075.8" y="2293.1" width="8.0" height="5.0" fill="#e07a3a"/>
<rect x="3076.8" y="2303.6" width="6.0" height="6.0" fill="#8a8ae8"/>
<rect x="2963.8" y="2178.1" width="22.0" height="3.0" fill="#a8b8a8"/>
<rect x="2961.8" y="2183.1" width="30.0" height="5.0" fill="#86b07c"/>
<rect x="2987.8" y="2192.1" width="30.0" height="4.0" fill="#4a4ad0"/>
<rect x="2969.8" y="2196.1" width="12.0" height="5.0" fill="#d8c040"/>
<rect x="2959.8" y="2199.1" width="18.0" height="4.0" fill="#a8a8a8"/>
<rect x="2981.8" y="2198.6" width="34.0" height="5.0" fill="#b04434"/>
<rect x="3009.3" y="2255.1" width="5.5" height="5.0" fill="#16164a"/>
<rect x="3008.8" y="2260.1" width="6.5" height="10.0" fill="#e4eaf8"/>
<rect x="3008.3" y="2270.1" width="7.5" height="9.0" fill="#c8d4f0"/>
<rect x="3091.6" y="2174.1" width="137.0" height="137.7" fill="#4242cf"/>
<rect x="3091.6" y="2174.1" width="137.0" height="32.7" fill="#7b7b74"/>
<rect x="3091.6" y="2206.8" width="137.0" height="6.1" fill="#2f7a3a"/>
<rect x="3091.6" y="2212.9" width="137.0" height="3.6" fill="#9a5a34"/>
<rect x="3091.6" y="2216.5" width="137.0" height="3.0" fill="#c89c9c"/>
<rect x="3091.6" y="2219.5" width="137.0" height="8.4" fill="#3c46d2"/>
<rect x="3091.6" y="2227.9" width="137.0" height="6.4" fill="#c87a3a"/>
<rect x="3091.6" y="2234.3" width="137.0" height="3.6" fill="#6a5cc4"/>
<rect x="3091.6" y="2280.9" width="137.0" height="11.0" fill="#c4722c"/>
<rect x="3091.6" y="2291.9" width="137.0" height="11.0" fill="#b02c20"/>
<rect x="3091.6" y="2302.9" width="137.0" height="8.9" fill="#2e2ecc"/>
<rect x="3107.6" y="2219.5" width="3.0" height="8.4" fill="#7a7ae0"/>
<rect x="3105.6" y="2293.1" width="8.0" height="5.0" fill="#e07a3a"/>
<rect x="3106.6" y="2303.6" width="6.0" height="6.0" fill="#8a8ae8"/>
<rect x="3136.6" y="2219.5" width="3.0" height="8.4" fill="#7a7ae0"/>
<rect x="3134.6" y="2293.1" width="8.0" height="5.0" fill="#e07a3a"/>
<rect x="3135.6" y="2303.6" width="6.0" height="6.0" fill="#8a8ae8"/>
<rect x="3165.6" y="2219.5" width="3.0" height="8.4" fill="#7a7ae0"/>
<rect x="3163.6" y="2293.1" width="8.0" height="5.0" fill="#e07a3a"/>
<rect x="3164.6" y="2303.6" width="6.0" height="6.0" fill="#8a8ae8"/>
<rect x="3194.6" y="2219.5" width="3.0" height="8.4" fill="#7a7ae0"/>
<rect x="3192.6" y="2293.1" width="8.0" height="5.0" fill="#e07a3a"/>
<rect x="3193.6" y="2303.6" width="6.0" height="6.0" fill="#8a8ae8"/>
<rect x="3223.6" y="2219.5" width="3.0" height="8.4" fill="#7a7ae0"/>
<rect x="3221.6" y="2293.1" width="8.0" height="5.0" fill="#e07a3a"/>
<rect x="3222.6" y="2303.6" width="6.0" height="6.0" fill="#8a8ae8"/>
<rect x="3109.6" y="2178.1" width="22.0" height="3.0" fill="#a8b8a8"/>
<rect x="3107.6" y="2183.1" width="30.0" height="5.0" fill="#86b07c"/>
<rect x="3133.6" y="2192.1" width="30.0" height="4.0" fill="#4a4ad0"/>
<rect x="3115.6" y="2196.1" width="12.0" height="5.0" fill="#d8c040"/>
<rect x="3105.6" y="2199.1" width="18.0" height="4.0" fill="#a8a8a8"/>
<rect x="3127.6" y="2198.6" width="34.0" height="5.0" fill="#b04434"/>
<rect x="3155.1" y="2255.1" width="5.5" height="5.0" fill="#16164a"/>
<rect x="3154.6" y="2260.1" width="6.5" height="10.0" fill="#e4eaf8"/>
<rect x="3154.1" y="2270.1" width="7.5" height="9.0" fill="#c8d4f0"/>
<rect x="3237.3" y="2174.1" width="137.0" height="137.7" fill="#4242cf"/>
<rect x="3237.3" y="2174.1" width="137.0" height="32.7" fill="#7b7b74"/>
<rect x="3237.3" y="2206.8" width="137.0" height="6.1" fill="#2f7a3a"/>
<rect x="3237.3" y="2212.9" width="137.0" height="3.6" fill="#9a5a34"/>
<rect x="3237.3" y="2216.5" width="137.0" height="3.0" fill="#c89c9c"/>
<rect x="3237.3" y="2219.5" width="137.0" height="8.4" fill="#3c46d2"/>
<rect x="3237.3" y="2227.9" width="137.0" height="6.4" fill="#c87a3a"/>
<rect x="3237.3" y="2234.3" width="137.0" height="3.6" fill="#6a5cc4"/>
<rect x="3237.3" y="2280.9" width="137.0" height="11.0" fill="#c4722c"/>
<rect x="3237.3" y="2291.9" width="137.0" height="11.0" fill="#b02c20"/>
<rect x="3237.3" y="2302.9" width="137.0" height="8.9" fill="#2e2ecc"/>
<rect x="3253.3" y="2219.5" width="3.0" height="8.4" fill="#7a7ae0"/>
<rect x="3251.3" y="2293.1" width="8.0" height="5.0" fill="#e07a3a"/>
<rect x="3252.3" y="2303.6" width="6.0" height="6.0" fill="#8a8ae8"/>
<rect x="3282.3" y="2219.5" width="3.0" height="8.4" fill="#7a7ae0"/>
<rect x="3280.3" y="2293.1" width="8.0" height="5.0" fill="#e07a3a"/>
<rect x="3281.3" y="2303.6" width="6.0" height="6.0" fill="#8a8ae8"/>
<rect x="3311.3" y="2219.5" width="3.0" height="8.4" fill="#7a7ae0"/>
<rect x="3309.3" y="2293.1" width="8.0" height="5.0" fill="#e07a3a"/>
<rect x="3310.3" y="2303.6" width="6.0" height="6.0" fill="#8a8ae8"/>
<rect x="3340.3" y="2219.5" width="3.0" height="8.4" fill="#7a7ae0"/>
<rect x="3338.3" y="2293.1" width="8.0" height="5.0" fill="#e07a3a"/>
<rect x="3339.3" y="2303.6" width="6.0" height="6.0" fill="#8a8ae8"/>
<rect x="3369.3" y="2219.5" width="3.0" height="8.4" fill="#7a7ae0"/>
<rect x="3367.3" y="2293.1" width="8.0" height="5.0" fill="#e07a3a"/>
<rect x="3368.3" y="2303.6" width="6.0" height="6.0" fill="#8a8ae8"/>
<rect x="3255.3" y="2178.1" width="22.0" height="3.0" fill="#a8b8a8"/>
<rect x="3253.3" y="2183.1" width="30.0" height="5.0" fill="#86b07c"/>
<rect x="3279.3" y="2192.1" width="30.0" height="4.0" fill="#4a4ad0"/>
<rect x="3261.3" y="2196.1" width="12.0" height="5.0" fill="#d8c040"/>
<rect x="3251.3" y="2199.1" width="18.0" height="4.0" fill="#a8a8a8"/>
<rect x="3273.3" y="2198.6" width="34.0" height="5.0" fill="#b04434"/>
<rect x="3305.8" y="2255.1" width="5.5" height="5.0" fill="#16164a"/>
<rect x="3305.3" y="2260.1" width="6.5" height="10.0" fill="#e4eaf8"/>
<rect x="3304.8" y="2270.1" width="7.5" height="9.0" fill="#c8d4f0"/>
<rect x="3383.1" y="2174.1" width="137.0" height="137.7" fill="#4242cf"/>
<rect x="3383.1" y="2174.1" width="137.0" height="32.7" fill="#7b7b74"/>
<rect x="3383.1" y="2206.8" width="137.0" height="6.1" fill="#2f7a3a"/>
<rect x="3383.1" y="2212.9" width="137.0" height="3.6" fill="#9a5a34"/>
<rect x="3383.1" y="2216.5" width="137.0" height="3.0" fill="#c89c9c"/>
<rect x="3383.1" y="2219.5" width="137.0" height="8.4" fill="#3c46d2"/>
<rect x="3383.1" y="2227.9" width="137.0" height="6.4" fill="#c87a3a"/>
<rect x="3383.1" y="2234.3" width="137.0" height="3.6" fill="#6a5cc4"/>
<rect x="3383.1" y="2280.9" width="137.0" height="11.0" fill="#c4722c"/>
<rect x="3383.1" y="2291.9" width="137.0" height="11.0" fill="#b02c20"/>
<rect x="3383.1" y="2302.9" width="137.0" height="8.9" fill="#2e2ecc"/>
<rect x="3399.1" y="2219.5" width="3.0" height="8.4" fill="#7a7ae0"/>
<rect x="3397.1" y="2293.1" width="8.0" height="5.0" fill="#e07a3a"/>
<rect x="3398.1" y="2303.6" width="6.0" height="6.0" fill="#8a8ae8"/>
<rect x="3428.1" y="2219.5" width="3.0" height="8.4" fill="#7a7ae0"/>
<rect x="3426.1" y="2293.1" width="8.0" height="5.0" fill="#e07a3a"/>
<rect x="3427.1" y="2303.6" width="6.0" height="6.0" fill="#8a8ae8"/>
<rect x="3457.1" y="2219.5" width="3.0" height="8.4" fill="#7a7ae0"/>
<rect x="3455.1" y="2293.1" width="8.0" height="5.0" fill="#e07a3a"/>
<rect x="3456.1" y="2303.6" width="6.0" height="6.0" fill="#8a8ae8"/>
<rect x="3486.1" y="2219.5" width="3.0" height="8.4" fill="#7a7ae0"/>
<rect x="3484.1" y="2293.1" width="8.0" height="5.0" fill="#e07a3a"/>
<rect x="3485.1" y="2303.6" width="6.0" height="6.0" fill="#8a8ae8"/>
<rect x="3515.1" y="2219.5" width="3.0" height="8.4" fill="#7a7ae0"/>
<rect x="3513.1" y="2293.1" width="8.0" height="5.0" fill="#e07a3a"/>
<rect x="3514.1" y="2303.6" width="6.0" height="6.0" fill="#8a8ae8"/>
<rect x="3401.1" y="2178.1" width="22.0" height="3.0" fill="#a8b8a8"/>
<rect x="3399.1" y="2183.1" width="30.0" height="5.0" fill="#86b07c"/>
<rect x="3425.1" y="2192.1" width="30.0" height="4.0" fill="#4a4ad0"/>
<rect x="3407.1" y="2196.1" width="12.0" height="5.0" fill="#d8c040"/>
<rect x="3397.1" y="2199.1" width="18.0" height="4.0" fill="#a8a8a8"/>
<rect x="3419.1" y="2198.6" width="34.0" height="5.0" fill="#b04434"/>
<rect x="3450.6" y="2255.1" width="5.5" height="5.0" fill="#16164a"/>
<rect x="3450.1" y="2260.1" width="6.5" height="10.0" fill="#e4eaf8"/>
<rect x="3449.6" y="2270.1" width="7.5" height="9.0" fill="#c8d4f0"/>
<rect x="3528.8" y="2174.1" width="137.0" height="137.7" fill="#4242cf"/>
<rect x="3528.8" y="2174.1" width="137.0" height="32.7" fill="#7b7b74"/>
<rect x="3528.8" y="2206.8" width="137.0" height="6.1" fill="#2f7a3a"/>
<rect x="3528.8" y="2212.9" width="137.0" height="3.6" fill="#9a5a34"/>
<rect x="3528.8" y="2216.5" width="137.0" height="3.0" fill="#c89c9c"/>
<rect x="3528.8" y="2219.5" width="137.0" height="8.4" fill="#3c46d2"/>
<rect x="3528.8" y="2227.9" width="137.0" height="6.4" fill="#c87a3a"/>
<rect x="3528.8" y="2234.3" width="137.0" height="3.6" fill="#6a5cc4"/>
<rect x="3528.8" y="2280.9" width="137.0" height="11.0" fill="#c4722c"/>
<rect x="3528.8" y="2291.9" width="137.0" height="11.0" fill="#b02c20"/>
<rect x="3528.8" y="2302.9" width="137.0" height="8.9" fill="#2e2ecc"/>
<rect x="3544.8" y="2219.5" width="3.0" height="8.4" fill="#7a7ae0"/>
<rect x="3542.8" y="2293.1" width="8.0" height="5.0" fill="#e07a3a"/>
<rect x="3543.8" y="2303.6" width="6.0" height="6.0" fill="#8a8ae8"/>
<rect x="3573.8" y="2219.5" width="3.0" height="8.4" fill="#7a7ae0"/>
<rect x="3571.8" y="2293.1" width="8.0" height="5.0" fill="#e07a3a"/>
<rect x="3572.8" y="2303.6" width="6.0" height="6.0" fill="#8a8ae8"/>
<rect x="3602.8" y="2219.5" width="3.0" height="8.4" fill="#7a7ae0"/>
<rect x="3600.8" y="2293.1" width="8.0" height="5.0" fill="#e07a3a"/>
<rect x="3601.8" y="2303.6" width="6.0" height="6.0" fill="#8a8ae8"/>
<rect x="3631.8" y="2219.5" width="3.0" height="8.4" fill="#7a7ae0"/>
<rect x="3629.8" y="2293.1" width="8.0" height="5.0" fill="#e07a3a"/>
<rect x="3630.8" y="2303.6" width="6.0" height="6.0" fill="#8a8ae8"/>
<rect x="3660.8" y="2219.5" width="3.0" height="8.4" fill="#7a7ae0"/>
<rect x="3658.8" y="2293.1" width="8.0" height="5.0" fill="#e07a3a"/>
<rect x="3659.8" y="2303.6" width="6.0" height="6.0" fill="#8a8ae8"/>
<rect x="3546.8" y="2178.1" width="22.0" height="3.0" fill="#a8b8a8"/>
<rect x="3544.8" y="2183.1" width="30.0" height="5.0" fill="#86b07c"/>
<rect x="3570.8" y="2192.1" width="30.0" height="4.0" fill="#4a4ad0"/>
<rect x="3552.8" y="2196.1" width="12.0" height="5.0" fill="#d8c040"/>
<rect x="3542.8" y="2199.1" width="18.0" height="4.0" fill="#a8a8a8"/>
<rect x="3564.8" y="2198.6" width="34.0" height="5.0" fill="#b04434"/>
<rect x="3594.3" y="2255.1" width="5.5" height="5.0" fill="#16164a"/>
<rect x="3593.8" y="2260.1" width="6.5" height="10.0" fill="#e4eaf8"/>
<rect x="3593.3" y="2270.1" width="7.5" height="9.0" fill="#c8d4f0"/>
<rect x="3531.8" y="2257.1" width="4.5" height="4.5" fill="#1a1a4a"/>
<rect x="3531.3" y="2262.1" width="5.0" height="8.0" fill="#5a5ae0"/>
<rect x="3530.8" y="2270.1" width="6.0" height="8.0" fill="#78c0f0"/>
<rect x="3674.6" y="2174.1" width="137.0" height="137.7" fill="#4242cf"/>
<rect x="3674.6" y="2174.1" width="137.0" height="32.7" fill="#7b7b74"/>
<rect x="3674.6" y="2206.8" width="137.0" height="6.1" fill="#2f7a3a"/>
<rect x="3674.6" y="2212.9" width="137.0" height="3.6" fill="#9a5a34"/>
<rect x="3674.6" y="2216.5" width="137.0" height="3.0" fill="#c89c9c"/>
<rect x="3674.6" y="2219.5" width="137.0" height="8.4" fill="#3c46d2"/>
<rect x="3674.6" y="2227.9" width="137.0" height="6.4" fill="#c87a3a"/>
<rect x="3674.6" y="2234.3" width="137.0" height="3.6" fill="#6a5cc4"/>
<rect x="3674.6" y="2280.9" width="137.0" height="11.0" fill="#c4722c"/>
<rect x="3674.6" y="2291.9" width="137.0" height="11.0" fill="#b02c20"/>
<rect x="3674.6" y="2302.9" width="137.0" height="8.9" fill="#2e2ecc"/>
<rect x="3690.6" y="2219.5" width="3.0" height="8.4" fill="#7a7ae0"/>
<rect x="3688.6" y="2293.1" width="8.0" height="5.0" fill="#e07a3a"/>
<rect x="3689.6" y="2303.6" width="6.0" height="6.0" fill="#8a8ae8"/>
<rect x="3719.6" y="2219.5" width="3.0" height="8.4" fill="#7a7ae0"/>
<rect x="3717.6" y="2293.1" width="8.0" height="5.0" fill="#e07a3a"/>
<rect x="3718.6" y="2303.6" width="6.0" height="6.0" fill="#8a8ae8"/>
<rect x="3748.6" y="2219.5" width="3.0" height="8.4" fill="#7a7ae0"/>
<rect x="3746.6" y="2293.1" width="8.0" height="5.0" fill="#e07a3a"/>
<rect x="3747.6" y="2303.6" width="6.0" height="6.0" fill="#8a8ae8"/>
<rect x="3777.6" y="2219.5" width="3.0" height="8.4" fill="#7a7ae0"/>
<rect x="3775.6" y="2293.1" width="8.0" height="5.0" fill="#e07a3a"/>
<rect x="3776.6" y="2303.6" width="6.0" height="6.0" fill="#8a8ae8"/>
<rect x="3806.6" y="2219.5" width="3.0" height="8.4" fill="#7a7ae0"/>
<rect x="3804.6" y="2293.1" width="8.0" height="5.0" fill="#e07a3a"/>
<rect x="3805.6" y="2303.6" width="6.0" height="6.0" fill="#8a8ae8"/>
<rect x="3692.6" y="2178.1" width="22.0" height="3.0" fill="#a8b8a8"/>
<rect x="3690.6" y="2183.1" width="30.0" height="5.0" fill="#86b07c"/>
<rect x="3716.6" y="2192.1" width="30.0" height="4.0" fill="#4a4ad0"/>
<rect x="3698.6" y="2196.1" width="12.0" height="5.0" fill="#d8c040"/>
<rect x="3688.6" y="2199.1" width="18.0" height="4.0" fill="#a8a8a8"/>
<rect x="3710.6" y="2198.6" width="34.0" height="5.0" fill="#b04434"/>
<rect x="3743.1" y="2255.1" width="5.5" height="5.0" fill="#16164a"/>
<rect x="3742.6" y="2260.1" width="6.5" height="10.0" fill="#e4eaf8"/>
<rect x="3742.1" y="2270.1" width="7.5" height="9.0" fill="#c8d4f0"/>
<rect x="3685.6" y="2257.1" width="4.5" height="4.5" fill="#1a1a4a"/>
<rect x="3685.1" y="2262.1" width="5.0" height="8.0" fill="#5a5ae0"/>
<rect x="3684.6" y="2270.1" width="6.0" height="8.0" fill="#78c0f0"/>
<rect x="3820.3" y="2174.1" width="137.0" height="137.7" fill="#4242cf"/>
<rect x="3820.3" y="2174.1" width="137.0" height="32.7" fill="#7b7b74"/>
<rect x="3820.3" y="2206.8" width="137.0" height="6.1" fill="#2f7a3a"/>
<rect x="3820.3" y="2212.9" width="137.0" height="3.6" fill="#9a5a34"/>
<rect x="3820.3" y="2216.5" width="137.0" height="3.0" fill="#c89c9c"/>
<rect x="3820.3" y="2219.5" width="137.0" height="8.4" fill="#3c46d2"/>
<rect x="3820.3" y="2227.9" width="137.0" height="6.4" fill="#c87a3a"/>
<rect x="3820.3" y="2234.3" width="137.0" height="3.6" fill="#6a5cc4"/>
<rect x="3820.3" y="2280.9" width="137.0" height="11.0" fill="#c4722c"/>
<rect x="3820.3" y="2291.9" width="137.0" height="11.0" fill="#b02c20"/>
<rect x="3820.3" y="2302.9" width="137.0" height="8.9" fill="#2e2ecc"/>
<rect x="3836.3" y="2219.5" width="3.0" height="8.4" fill="#7a7ae0"/>
<rect x="3834.3" y="2293.1" width="8.0" height="5.0" fill="#e07a3a"/>
<rect x="3835.3" y="2303.6" width="6.0" height="6.0" fill="#8a8ae8"/>
<rect x="3865.3" y="2219.5" width="3.0" height="8.4" fill="#7a7ae0"/>
<rect x="3863.3" y="2293.1" width="8.0" height="5.0" fill="#e07a3a"/>
<rect x="3864.3" y="2303.6" width="6.0" height="6.0" fill="#8a8ae8"/>
<rect x="3894.3" y="2219.5" width="3.0" height="8.4" fill="#7a7ae0"/>
<rect x="3892.3" y="2293.1" width="8.0" height="5.0" fill="#e07a3a"/>
<rect x="3893.3" y="2303.6" width="6.0" height="6.0" fill="#8a8ae8"/>
<rect x="3923.3" y="2219.5" width="3.0" height="8.4" fill="#7a7ae0"/>
<rect x="3921.3" y="2293.1" width="8.0" height="5.0" fill="#e07a3a"/>
<rect x="3922.3" y="2303.6" width="6.0" height="6.0" fill="#8a8ae8"/>
<rect x="3952.3" y="2219.5" width="3.0" height="8.4" fill="#7a7ae0"/>
<rect x="3950.3" y="2293.1" width="8.0" height="5.0" fill="#e07a3a"/>
<rect x="3951.3" y="2303.6" width="6.0" height="6.0" fill="#8a8ae8"/>
<rect x="3838.3" y="2178.1" width="22.0" height="3.0" fill="#a8b8a8"/>
<rect x="3836.3" y="2183.1" width="30.0" height="5.0" fill="#86b07c"/>
<rect x="3862.3" y="2192.1" width="30.0" height="4.0" fill="#4a4ad0"/>
<rect x="3844.3" y="2196.1" width="12.0" height="5.0" fill="#d8c040"/>
<rect x="3834.3" y="2199.1" width="18.0" height="4.0" fill="#a8a8a8"/>
<rect x="3856.3" y="2198.6" width="34.0" height="5.0" fill="#b04434"/>
<rect x="3888.8" y="2255.1" width="5.5" height="5.0" fill="#16164a"/>
<rect x="3888.3" y="2260.1" width="6.5" height="10.0" fill="#e4eaf8"/>
<rect x="3887.8" y="2270.1" width="7.5" height="9.0" fill="#c8d4f0"/>
<rect x="3839.3" y="2257.1" width="4.5" height="4.5" fill="#1a1a4a"/>
<rect x="3838.8" y="2262.1" width="5.0" height="8.0" fill="#5a5ae0"/>
<rect x="3838.3" y="2270.1" width="6.0" height="8.0" fill="#78c0f0"/>
<rect x="3966.1" y="2174.1" width="137.0" height="137.7" fill="#4242cf"/>
<rect x="3966.1" y="2174.1" width="137.0" height="32.7" fill="#7b7b74"/>
<rect x="3966.1" y="2206.8" width="137.0" height="6.1" fill="#2f7a3a"/>
<rect x="3966.1" y="2212.9" width="137.0" height="3.6" fill="#9a5a34"/>
<rect x="3966.1" y="2216.5" width="137.0" height="3.0" fill="#c89c9c"/>
<rect x="3966.1" y="2219.5" width="137.0" height="8.4" fill="#3c46d2"/>
<rect x="3966.1" y="2227.9" width="137.0" height="6.4" fill="#c87a3a"/>
<rect x="3966.1" y="2234.3" width="137.0" height="3.6" fill="#6a5cc4"/>
<rect x="3966.1" y="2280.9" width="137.0" height="11.0" fill="#c4722c"/>
<rect x="3966.1" y="2291.9" width="137.0" height="11.0" fill="#b02c20"/>
<rect x="3966.1" y="2302.9" width="137.0" height="8.9" fill="#2e2ecc"/>
<rect x="3982.1" y="2219.5" width="3.0" height="8.4" fill="#7a7ae0"/>
<rect x="3980.1" y="2293.1" width="8.0" height="5.0" fill="#e07a3a"/>
<rect x="3981.1" y="2303.6" width="6.0" height="6.0" fill="#8a8ae8"/>
<rect x="4011.1" y="2219.5" width="3.0" height="8.4" fill="#7a7ae0"/>
<rect x="4009.1" y="2293.1" width="8.0" height="5.0" fill="#e07a3a"/>
<rect x="4010.1" y="2303.6" width="6.0" height="6.0" fill="#8a8ae8"/>
<rect x="4040.1" y="2219.5" width="3.0" height="8.4" fill="#7a7ae0"/>
<rect x="4038.1" y="2293.1" width="8.0" height="5.0" fill="#e07a3a"/>
<rect x="4039.1" y="2303.6" width="6.0" height="6.0" fill="#8a8ae8"/>
<rect x="4069.1" y="2219.5" width="3.0" height="8.4" fill="#7a7ae0"/>
<rect x="4067.1" y="2293.1" width="8.0" height="5.0" fill="#e07a3a"/>
<rect x="4068.1" y="2303.6" width="6.0" height="6.0" fill="#8a8ae8"/>
<rect x="4098.1" y="2219.5" width="3.0" height="8.4" fill="#7a7ae0"/>
<rect x="4096.1" y="2293.1" width="8.0" height="5.0" fill="#e07a3a"/>
<rect x="4097.1" y="2303.6" width="6.0" height="6.0" fill="#8a8ae8"/>
<rect x="3984.1" y="2178.1" width="22.0" height="3.0" fill="#a8b8a8"/>
<rect x="3982.1" y="2183.1" width="30.0" height="5.0" fill="#86b07c"/>
<rect x="4008.1" y="2192.1" width="30.0" height="4.0" fill="#4a4ad0"/>
<rect x="3990.1" y="2196.1" width="12.0" height="5.0" fill="#d8c040"/>
<rect x="3980.1" y="2199.1" width="18.0" height="4.0" fill="#a8a8a8"/>
<rect x="4002.1" y="2198.6" width="34.0" height="5.0" fill="#b04434"/>
<rect x="4033.6" y="2255.1" width="5.5" height="5.0" fill="#16164a"/>
<rect x="4033.1" y="2260.1" width="6.5" height="10.0" fill="#e4eaf8"/>
<rect x="4032.6" y="2270.1" width="7.5" height="9.0" fill="#c8d4f0"/>
<rect x="3967.6" y="2257.1" width="4.5" height="4.5" fill="#1a1a4a"/>
<rect x="3967.1" y="2262.1" width="5.0" height="8.0" fill="#5a5ae0"/>
<rect x="3966.6" y="2270.1" width="6.0" height="8.0" fill="#78c0f0"/>
<rect x="3993.6" y="2257.1" width="4.5" height="4.5" fill="#1a1a4a"/>
<rect x="3993.1" y="2262.1" width="5.0" height="8.0" fill="#5a5ae0"/>
<rect x="3992.6" y="2270.1" width="6.0" height="8.0" fill="#78c0f0"/>
<rect x="4111.8" y="2174.1" width="137.0" height="137.7" fill="#4242cf"/>
<rect x="4111.8" y="2174.1" width="137.0" height="32.7" fill="#7b7b74"/>
<rect x="4111.8" y="2206.8" width="137.0" height="6.1" fill="#2f7a3a"/>
<rect x="4111.8" y="2212.9" width="137.0" height="3.6" fill="#9a5a34"/>
<rect x="4111.8" y="2216.5" width="137.0" height="3.0" fill="#c89c9c"/>
<rect x="4111.8" y="2219.5" width="137.0" height="8.4" fill="#3c46d2"/>
<rect x="4111.8" y="2227.9" width="137.0" height="6.4" fill="#c87a3a"/>
<rect x="4111.8" y="2234.3" width="137.0" height="3.6" fill="#6a5cc4"/>
<rect x="4111.8" y="2280.9" width="137.0" height="11.0" fill="#c4722c"/>
<rect x="4111.8" y="2291.9" width="137.0" height="11.0" fill="#b02c20"/>
<rect x="4111.8" y="2302.9" width="137.0" height="8.9" fill="#2e2ecc"/>
<rect x="4127.8" y="2219.5" width="3.0" height="8.4" fill="#7a7ae0"/>
<rect x="4125.8" y="2293.1" width="8.0" height="5.0" fill="#e07a3a"/>
<rect x="4126.8" y="2303.6" width="6.0" height="6.0" fill="#8a8ae8"/>
<rect x="4156.8" y="2219.5" width="3.0" height="8.4" fill="#7a7ae0"/>
<rect x="4154.8" y="2293.1" width="8.0" height="5.0" fill="#e07a3a"/>
<rect x="4155.8" y="2303.6" width="6.0" height="6.0" fill="#8a8ae8"/>
<rect x="4185.8" y="2219.5" width="3.0" height="8.4" fill="#7a7ae0"/>
<rect x="4183.8" y="2293.1" width="8.0" height="5.0" fill="#e07a3a"/>
<rect x="4184.8" y="2303.6" width="6.0" height="6.0" fill="#8a8ae8"/>
<rect x="4214.8" y="2219.5" width="3.0" height="8.4" fill="#7a7ae0"/>
<rect x="4212.8" y="2293.1" width="8.0" height="5.0" fill="#e07a3a"/>
<rect x="4213.8" y="2303.6" width="6.0" height="6.0" fill="#8a8ae8"/>
<rect x="4243.8" y="2219.5" width="3.0" height="8.4" fill="#7a7ae0"/>
<rect x="4241.8" y="2293.1" width="8.0" height="5.0" fill="#e07a3a"/>
<rect x="4242.8" y="2303.6" width="6.0" height="6.0" fill="#8a8ae8"/>
<rect x="4129.8" y="2178.1" width="22.0" height="3.0" fill="#a8b8a8"/>
<rect x="4127.8" y="2183.1" width="30.0" height="5.0" fill="#86b07c"/>
<rect x="4153.8" y="2192.1" width="30.0" height="4.0" fill="#4a4ad0"/>
<rect x="4135.8" y="2196.1" width="12.0" height="5.0" fill="#d8c040"/>
<rect x="4125.8" y="2199.1" width="18.0" height="4.0" fill="#a8a8a8"/>
<rect x="4147.8" y="2198.6" width="34.0" height="5.0" fill="#b04434"/>
<rect x="4181.3" y="2255.1" width="5.5" height="5.0" fill="#16164a"/>
<rect x="4180.8" y="2260.1" width="6.5" height="10.0" fill="#e4eaf8"/>
<rect x="4180.3" y="2270.1" width="7.5" height="9.0" fill="#c8d4f0"/>
<rect x="4117.8" y="2257.1" width="4.5" height="4.5" fill="#1a1a4a"/>
<rect x="4117.3" y="2262.1" width="5.0" height="8.0" fill="#5a5ae0"/>
<rect x="4116.8" y="2270.1" width="6.0" height="8.0" fill="#78c0f0"/>
<rect x="4132.3" y="2257.1" width="4.5" height="4.5" fill="#1a1a4a"/>
<rect x="4131.8" y="2262.1" width="5.0" height="8.0" fill="#5a5ae0"/>
<rect x="4131.3" y="2270.1" width="6.0" height="8.0" fill="#78c0f0"/>
<rect x="4146.8" y="2257.1" width="4.5" height="4.5" fill="#1a1a4a"/>
<rect x="4146.3" y="2262.1" width="5.0" height="8.0" fill="#5a5ae0"/>
<rect x="4145.8" y="2270.1" width="6.0" height="8.0" fill="#78c0f0"/>
<rect x="2945.8" y="2320.0" width="137.0" height="137.7" fill="#4242cf"/>
<rect x="2945.8" y="2320.0" width="137.0" height="32.7" fill="#7b7b74"/>
<rect x="2945.8" y="2352.7" width="137.0" height="6.1" fill="#2f7a3a"/>
<rect x="2945.8" y="2358.8" width="137.0" height="3.6" fill="#9a5a34"/>
<rect x="2945.8" y="2362.4" width="137.0" height="3.0" fill="#c89c9c"/>
<rect x="2945.8" y="2365.4" width="137.0" height="8.4" fill="#3c46d2"/>
<rect x="2945.8" y="2373.8" width="137.0" height="6.4" fill="#c87a3a"/>
<rect x="2945.8" y="2380.2" width="137.0" height="3.6" fill="#6a5cc4"/>
<rect x="2945.8" y="2426.8" width="137.0" height="11.0" fill="#c4722c"/>
<rect x="2945.8" y="2437.8" width="137.0" height="11.0" fill="#b02c20"/>
<rect x="2945.8" y="2448.8" width="137.0" height="8.9" fill="#2e2ecc"/>
<rect x="2961.8" y="2365.4" width="3.0" height="8.4" fill="#7a7ae0"/>
<rect x="2959.8" y="2439.0" width="8.0" height="5.0" fill="#e07a3a"/>
<rect x="2960.8" y="2449.5" width="6.0" height="6.0" fill="#8a8ae8"/>
<rect x="2990.8" y="2365.4" width="3.0" height="8.4" fill="#7a7ae0"/>
<rect x="2988.8" y="2439.0" width="8.0" height="5.0" fill="#e07a3a"/>
<rect x="2989.8" y="2449.5" width="6.0" height="6.0" fill="#8a8ae8"/>
<rect x="3019.8" y="2365.4" width="3.0" height="8.4" fill="#7a7ae0"/>
<rect x="3017.8" y="2439.0" width="8.0" height="5.0" fill="#e07a3a"/>
<rect x="3018.8" y="2449.5" width="6.0" height="6.0" fill="#8a8ae8"/>
<rect x="3048.8" y="2365.4" width="3.0" height="8.4" fill="#7a7ae0"/>
<rect x="3046.8" y="2439.0" width="8.0" height="5.0" fill="#e07a3a"/>
<rect x="3047.8" y="2449.5" width="6.0" height="6.0" fill="#8a8ae8"/>
<rect x="3077.8" y="2365.4" width="3.0" height="8.4" fill="#7a7ae0"/>
<rect x="3075.8" y="2439.0" width="8.0" height="5.0" fill="#e07a3a"/>
<rect x="3076.8" y="2449.5" width="6.0" height="6.0" fill="#8a8ae8"/>
<rect x="2963.8" y="2324.0" width="22.0" height="3.0" fill="#a8b8a8"/>
<rect x="2961.8" y="2329.0" width="30.0" height="5.0" fill="#86b07c"/>
<rect x="2987.8" y="2338.0" width="30.0" height="4.0" fill="#4a4ad0"/>
<rect x="2969.8" y="2342.0" width="12.0" height="5.0" fill="#d8c040"/>
<rect x="2959.8" y="2345.0" width="18.0" height="4.0" fill="#a8a8a8"/>
<rect x="2981.8" y="2344.5" width="34.0" height="5.0" fill="#b04434"/>
<rect x="3009.3" y="2401.0" width="5.5" height="5.0" fill="#16164a"/>
<rect x="3008.8" y="2406.0" width="6.5" height="10.0" fill="#e4eaf8"/>
<rect x="3008.3" y="2416.0" width="7.5" height="9.0" fill="#c8d4f0"/>
<rect x="3091.6" y="2320.0" width="137.0" height="137.7" fill="#4242cf"/>
<rect x="3091.6" y="2320.0" width="137.0" height="32.7" fill="#7b7b74"/>
<rect x="3091.6" y="2352.7" width="137.0" height="6.1" fill="#2f7a3a"/>
<rect x="3091.6" y="2358.8" width="137.0" height="3.6" fill="#9a5a34"/>
<rect x="3091.6" y="2362.4" width="137.0" height="3.0" fill="#c89c9c"/>
<rect x="3091.6" y="2365.4" width="137.0" height="8.4" fill="#3c46d2"/>
<rect x="3091.6" y="2373.8" width="137.0" height="6.4" fill="#c87a3a"/>
<rect x="3091.6" y="2380.2" width="137.0" height="3.6" fill="#6a5cc4"/>
<rect x="3091.6" y="2426.8" width="137.0" height="11.0" fill="#c4722c"/>
<rect x="3091.6" y="2437.8" width="137.0" height="11.0" fill="#b02c20"/>
<rect x="3091.6" y="2448.8" width="137.0" height="8.9" fill="#2e2ecc"/>
<rect x="3107.6" y="2365.4" width="3.0" height="8.4" fill="#7a7ae0"/>
<rect x="3105.6" y="2439.0" width="8.0" height="5.0" fill="#e07a3a"/>
<rect x="3106.6" y="2449.5" width="6.0" height="6.0" fill="#8a8ae8"/>
<rect x="3136.6" y="2365.4" width="3.0" height="8.4" fill="#7a7ae0"/>
<rect x="3134.6" y="2439.0" width="8.0" height="5.0" fill="#e07a3a"/>
<rect x="3135.6" y="2449.5" width="6.0" height="6.0" fill="#8a8ae8"/>
<rect x="3165.6" y="2365.4" width="3.0" height="8.4" fill="#7a7ae0"/>
<rect x="3163.6" y="2439.0" width="8.0" height="5.0" fill="#e07a3a"/>
<rect x="3164.6" y="2449.5" width="6.0" height="6.0" fill="#8a8ae8"/>
<rect x="3194.6" y="2365.4" width="3.0" height="8.4" fill="#7a7ae0"/>
<rect x="3192.6" y="2439.0" width="8.0" height="5.0" fill="#e07a3a"/>
<rect x="3193.6" y="2449.5" width="6.0" height="6.0" fill="#8a8ae8"/>
<rect x="3223.6" y="2365.4" width="3.0" height="8.4" fill="#7a7ae0"/>
<rect x="3221.6" y="2439.0" width="8.0" height="5.0" fill="#e07a3a"/>
<rect x="3222.6" y="2449.5" width="6.0" height="6.0" fill="#8a8ae8"/>
<rect x="3109.6" y="2324.0" width="22.0" height="3.0" fill="#a8b8a8"/>
<rect x="3107.6" y="2329.0" width="30.0" height="5.0" fill="#86b07c"/>
<rect x="3133.6" y="2338.0" width="30.0" height="4.0" fill="#4a4ad0"/>
<rect x="3115.6" y="2342.0" width="12.0" height="5.0" fill="#d8c040"/>
<rect x="3105.6" y="2345.0" width="18.0" height="4.0" fill="#a8a8a8"/>
<rect x="3127.6" y="2344.5" width="34.0" height="5.0" fill="#b04434"/>
<rect x="3155.1" y="2401.0" width="5.5" height="5.0" fill="#16164a"/>
<rect x="3154.6" y="2406.0" width="6.5" height="10.0" fill="#e4eaf8"/>
<rect x="3154.1" y="2416.0" width="7.5" height="9.0" fill="#c8d4f0"/>
<rect x="3237.3" y="2320.0" width="137.0" height="137.7" fill="#4242cf"/>
<rect x="3237.3" y="2320.0" width="137.0" height="32.7" fill="#7b7b74"/>
<rect x="3237.3" y="2352.7" width="137.0" height="6.1" fill="#2f7a3a"/>
<rect x="3237.3" y="2358.8" width="137.0" height="3.6" fill="#9a5a34"/>
<rect x="3237.3" y="2362.4" width="137.0" height="3.0" fill="#c89c9c"/>
<rect x="3237.3" y="2365.4" width="137.0" height="8.4" fill="#3c46d2"/>
<rect x="3237.3" y="2373.8" width="137.0" height="6.4" fill="#c87a3a"/>
<rect x="3237.3" y="2380.2" width="137.0" height="3.6" fill="#6a5cc4"/>
<rect x="3237.3" y="2426.8" width="137.0" height="11.0" fill="#c4722c"/>
<rect x="3237.3" y="2437.8" width="137.0" height="11.0" fill="#b02c20"/>
<rect x="3237.3" y="2448.8" width="137.0" height="8.9" fill="#2e2ecc"/>
<rect x="3253.3" y="2365.4" width="3.0" height="8.4" fill="#7a7ae0"/>
<rect x="3251.3" y="2439.0" width="8.0" height="5.0" fill="#e07a3a"/>
<rect x="3252.3" y="2449.5" width="6.0" height="6.0" fill="#8a8ae8"/>
<rect x="3282.3" y="2365.4" width="3.0" height="8.4" fill="#7a7ae0"/>
<rect x="3280.3" y="2439.0" width="8.0" height="5.0" fill="#e07a3a"/>
<rect x="3281.3" y="2449.5" width="6.0" height="6.0" fill="#8a8ae8"/>
<rect x="3311.3" y="2365.4" width="3.0" height="8.4" fill="#7a7ae0"/>
<rect x="3309.3" y="2439.0" width="8.0" height="5.0" fill="#e07a3a"/>
<rect x="3310.3" y="2449.5" width="6.0" height="6.0" fill="#8a8ae8"/>
<rect x="3340.3" y="2365.4" width="3.0" height="8.4" fill="#7a7ae0"/>
<rect x="3338.3" y="2439.0" width="8.0" height="5.0" fill="#e07a3a"/>
<rect x="3339.3" y="2449.5" width="6.0" height="6.0" fill="#8a8ae8"/>
<rect x="3369.3" y="2365.4" width="3.0" height="8.4" fill="#7a7ae0"/>
<rect x="3367.3" y="2439.0" width="8.0" height="5.0" fill="#e07a3a"/>
<rect x="3368.3" y="2449.5" width="6.0" height="6.0" fill="#8a8ae8"/>
<rect x="3255.3" y="2324.0" width="22.0" height="3.0" fill="#a8b8a8"/>
<rect x="3253.3" y="2329.0" width="30.0" height="5.0" fill="#86b07c"/>
<rect x="3279.3" y="2338.0" width="30.0" height="4.0" fill="#4a4ad0"/>
<rect x="3261.3" y="2342.0" width="12.0" height="5.0" fill="#d8c040"/>
<rect x="3251.3" y="2345.0" width="18.0" height="4.0" fill="#a8a8a8"/>
<rect x="3273.3" y="2344.5" width="34.0" height="5.0" fill="#b04434"/>
<rect x="3306.8" y="2401.0" width="5.5" height="5.0" fill="#16164a"/>
<rect x="3306.3" y="2406.0" width="6.5" height="10.0" fill="#e4eaf8"/>
<rect x="3305.8" y="2416.0" width="7.5" height="9.0" fill="#c8d4f0"/>
<rect x="3383.1" y="2320.0" width="137.0" height="137.7" fill="#4242cf"/>
<rect x="3383.1" y="2320.0" width="137.0" height="32.7" fill="#7b7b74"/>
<rect x="3383.1" y="2352.7" width="137.0" height="6.1" fill="#2f7a3a"/>
<rect x="3383.1" y="2358.8" width="137.0" height="3.6" fill="#9a5a34"/>
<rect x="3383.1" y="2362.4" width="137.0" height="3.0" fill="#c89c9c"/>
<rect x="3383.1" y="2365.4" width="137.0" height="8.4" fill="#3c46d2"/>
<rect x="3383.1" y="2373.8" width="137.0" height="6.4" fill="#c87a3a"/>
<rect x="3383.1" y="2380.2" width="137.0" height="3.6" fill="#6a5cc4"/>
<rect x="3383.1" y="2426.8" width="137.0" height="11.0" fill="#c4722c"/>
<rect x="3383.1" y="2437.8" width="137.0" height="11.0" fill="#b02c20"/>
<rect x="3383.1" y="2448.8" width="137.0" height="8.9" fill="#2e2ecc"/>
<rect x="3399.1" y="2365.4" width="3.0" height="8.4" fill="#7a7ae0"/>
<rect x="3397.1" y="2439.0" width="8.0" height="5.0" fill="#e07a3a"/>
<rect x="3398.1" y="2449.5" width="6.0" height="6.0" fill="#8a8ae8"/>
<rect x="3428.1" y="2365.4" width="3.0" height="8.4" fill="#7a7ae0"/>
<rect x="3426.1" y="2439.0" width="8.0" height="5.0" fill="#e07a3a"/>
<rect x="3427.1" y="2449.5" width="6.0" height="6.0" fill="#8a8ae8"/>
<rect x="3457.1" y="2365.4" width="3.0" height="8.4" fill="#7a7ae0"/>
<rect x="3455.1" y="2439.0" width="8.0" height="5.0" fill="#e07a3a"/>
<rect x="3456.1" y="2449.5" width="6.0" height="6.0" fill="#8a8ae8"/>
<rect x="3486.1" y="2365.4" width="3.0" height="8.4" fill="#7a7ae0"/>
<rect x="3484.1" y="2439.0" width="8.0" height="5.0" fill="#e07a3a"/>
<rect x="3485.1" y="2449.5" width="6.0" height="6.0" fill="#8a8ae8"/>
<rect x="3515.1" y="2365.4" width="3.0" height="8.4" fill="#7a7ae0"/>
<rect x="3513.1" y="2439.0" width="8.0" height="5.0" fill="#e07a3a"/>
<rect x="3514.1" y="2449.5" width="6.0" height="6.0" fill="#8a8ae8"/>
<rect x="3401.1" y="2324.0" width="22.0" height="3.0" fill="#a8b8a8"/>
<rect x="3399.1" y="2329.0" width="30.0" height="5.0" fill="#86b07c"/>
<rect x="3425.1" y="2338.0" width="30.0" height="4.0" fill="#4a4ad0"/>
<rect x="3407.1" y="2342.0" width="12.0" height="5.0" fill="#d8c040"/>
<rect x="3397.1" y="2345.0" width="18.0" height="4.0" fill="#a8a8a8"/>
<rect x="3419.1" y="2344.5" width="34.0" height="5.0" fill="#b04434"/>
<rect x="3449.6" y="2401.0" width="5.5" height="5.0" fill="#16164a"/>
<rect x="3449.1" y="2406.0" width="6.5" height="10.0" fill="#e4eaf8"/>
<rect x="3448.6" y="2416.0" width="7.5" height="9.0" fill="#c8d4f0"/>
<rect x="3528.8" y="2320.0" width="137.0" height="137.7" fill="#4242cf"/>
<rect x="3528.8" y="2320.0" width="137.0" height="32.7" fill="#7b7b74"/>
<rect x="3528.8" y="2352.7" width="137.0" height="6.1" fill="#2f7a3a"/>
<rect x="3528.8" y="2358.8" width="137.0" height="3.6" fill="#9a5a34"/>
<rect x="3528.8" y="2362.4" width="137.0" height="3.0" fill="#c89c9c"/>
<rect x="3528.8" y="2365.4" width="137.0" height="8.4" fill="#3c46d2"/>
<rect x="3528.8" y="2373.8" width="137.0" height="6.4" fill="#c87a3a"/>
<rect x="3528.8" y="2380.2" width="137.0" height="3.6" fill="#6a5cc4"/>
<rect x="3528.8" y="2426.8" width="137.0" height="11.0" fill="#c4722c"/>
<rect x="3528.8" y="2437.8" width="137.0" height="11.0" fill="#b02c20"/>
<rect x="3528.8" y="2448.8" width="137.0" height="8.9" fill="#2e2ecc"/>
<rect x="3544.8" y="2365.4" width="3.0" height="8.4" fill="#7a7ae0"/>
<rect x="3542.8" y="2439.0" width="8.0" height="5.0" fill="#e07a3a"/>
<rect x="3543.8" y="2449.5" width="6.0" height="6.0" fill="#8a8ae8"/>
<rect x="3573.8" y="2365.4" width="3.0" height="8.4" fill="#7a7ae0"/>
<rect x="3571.8" y="2439.0" width="8.0" height="5.0" fill="#e07a3a"/>
<rect x="3572.8" y="2449.5" width="6.0" height="6.0" fill="#8a8ae8"/>
<rect x="3602.8" y="2365.4" width="3.0" height="8.4" fill="#7a7ae0"/>
<rect x="3600.8" y="2439.0" width="8.0" height="5.0" fill="#e07a3a"/>
<rect x="3601.8" y="2449.5" width="6.0" height="6.0" fill="#8a8ae8"/>
<rect x="3631.8" y="2365.4" width="3.0" height="8.4" fill="#7a7ae0"/>
<rect x="3629.8" y="2439.0" width="8.0" height="5.0" fill="#e07a3a"/>
<rect x="3630.8" y="2449.5" width="6.0" height="6.0" fill="#8a8ae8"/>
<rect x="3660.8" y="2365.4" width="3.0" height="8.4" fill="#7a7ae0"/>
<rect x="3658.8" y="2439.0" width="8.0" height="5.0" fill="#e07a3a"/>
<rect x="3659.8" y="2449.5" width="6.0" height="6.0" fill="#8a8ae8"/>
<rect x="3546.8" y="2324.0" width="22.0" height="3.0" fill="#a8b8a8"/>
<rect x="3544.8" y="2329.0" width="30.0" height="5.0" fill="#86b07c"/>
<rect x="3570.8" y="2338.0" width="30.0" height="4.0" fill="#4a4ad0"/>
<rect x="3552.8" y="2342.0" width="12.0" height="5.0" fill="#d8c040"/>
<rect x="3542.8" y="2345.0" width="18.0" height="4.0" fill="#a8a8a8"/>
<rect x="3564.8" y="2344.5" width="34.0" height="5.0" fill="#b04434"/>
<rect x="3595.3" y="2401.0" width="5.5" height="5.0" fill="#16164a"/>
<rect x="3594.8" y="2406.0" width="6.5" height="10.0" fill="#e4eaf8"/>
<rect x="3594.3" y="2416.0" width="7.5" height="9.0" fill="#c8d4f0"/>
<rect x="3674.6" y="2320.0" width="137.0" height="137.7" fill="#4242cf"/>
<rect x="3674.6" y="2320.0" width="137.0" height="32.7" fill="#7b7b74"/>
<rect x="3674.6" y="2352.7" width="137.0" height="6.1" fill="#2f7a3a"/>
<rect x="3674.6" y="2358.8" width="137.0" height="3.6" fill="#9a5a34"/>
<rect x="3674.6" y="2362.4" width="137.0" height="3.0" fill="#c89c9c"/>
<rect x="3674.6" y="2365.4" width="137.0" height="8.4" fill="#3c46d2"/>
<rect x="3674.6" y="2373.8" width="137.0" height="6.4" fill="#c87a3a"/>
<rect x="3674.6" y="2380.2" width="137.0" height="3.6" fill="#6a5cc4"/>
<rect x="3674.6" y="2426.8" width="137.0" height="11.0" fill="#c4722c"/>
<rect x="3674.6" y="2437.8" width="137.0" height="11.0" fill="#b02c20"/>
<rect x="3674.6" y="2448.8" width="137.0" height="8.9" fill="#2e2ecc"/>
<rect x="3690.6" y="2365.4" width="3.0" height="8.4" fill="#7a7ae0"/>
<rect x="3688.6" y="2439.0" width="8.0" height="5.0" fill="#e07a3a"/>
<rect x="3689.6" y="2449.5" width="6.0" height="6.0" fill="#8a8ae8"/>
<rect x="3719.6" y="2365.4" width="3.0" height="8.4" fill="#7a7ae0"/>
<rect x="3717.6" y="2439.0" width="8.0" height="5.0" fill="#e07a3a"/>
<rect x="3718.6" y="2449.5" width="6.0" height="6.0" fill="#8a8ae8"/>
<rect x="3748.6" y="2365.4" width="3.0" height="8.4" fill="#7a7ae0"/>
<rect x="3746.6" y="2439.0" width="8.0" height="5.0" fill="#e07a3a"/>
<rect x="3747.6" y="2449.5" width="6.0" height="6.0" fill="#8a8ae8"/>
<rect x="3777.6" y="2365.4" width="3.0" height="8.4" fill="#7a7ae0"/>
<rect x="3775.6" y="2439.0" width="8.0" height="5.0" fill="#e07a3a"/>
<rect x="3776.6" y="2449.5" width="6.0" height="6.0" fill="#8a8ae8"/>
<rect x="3806.6" y="2365.4" width="3.0" height="8.4" fill="#7a7ae0"/>
<rect x="3804.6" y="2439.0" width="8.0" height="5.0" fill="#e07a3a"/>
<rect x="3805.6" y="2449.5" width="6.0" height="6.0" fill="#8a8ae8"/>
<rect x="3692.6" y="2324.0" width="22.0" height="3.0" fill="#a8b8a8"/>
<rect x="3690.6" y="2329.0" width="30.0" height="5.0" fill="#86b07c"/>
<rect x="3716.6" y="2338.0" width="30.0" height="4.0" fill="#4a4ad0"/>
<rect x="3698.6" y="2342.0" width="12.0" height="5.0" fill="#d8c040"/>
<rect x="3688.6" y="2345.0" width="18.0" height="4.0" fill="#a8a8a8"/>
<rect x="3710.6" y="2344.5" width="34.0" height="5.0" fill="#b04434"/>
<rect x="3739.1" y="2401.0" width="5.5" height="5.0" fill="#16164a"/>
<rect x="3738.6" y="2406.0" width="6.5" height="10.0" fill="#e4eaf8"/>
<rect x="3738.1" y="2416.0" width="7.5" height="9.0" fill="#c8d4f0"/>
<rect x="3680.1" y="2403.0" width="4.5" height="4.5" fill="#1a1a4a"/>
<rect x="3679.6" y="2408.0" width="5.0" height="8.0" fill="#5a5ae0"/>
<rect x="3679.1" y="2416.0" width="6.0" height="8.0" fill="#78c0f0"/>
<rect x="3820.3" y="2320.0" width="137.0" height="137.7" fill="#4242cf"/>
<rect x="3820.3" y="2320.0" width="137.0" height="32.7" fill="#7b7b74"/>
<rect x="3820.3" y="2352.7" width="137.0" height="6.1" fill="#2f7a3a"/>
<rect x="3820.3" y="2358.8" width="137.0" height="3.6" fill="#9a5a34"/>
<rect x="3820.3" y="2362.4" width="137.0" height="3.0" fill="#c89c9c"/>
<rect x="3820.3" y="2365.4" width="137.0" height="8.4" fill="#3c46d2"/>
<rect x="3820.3" y="2373.8" width="137.0" height="6.4" fill="#c87a3a"/>
<rect x="3820.3" y="2380.2" width="137.0" height="3.6" fill="#6a5cc4"/>
<rect x="3820.3" y="2426.8" width="137.0" height="11.0" fill="#c4722c"/>
<rect x="3820.3" y="2437.8" width="137.0" height="11.0" fill="#b02c20"/>
<rect x="3820.3" y="2448.8" width="137.0" height="8.9" fill="#2e2ecc"/>
<rect x="3836.3" y="2365.4" width="3.0" height="8.4" fill="#7a7ae0"/>
<rect x="3834.3" y="2439.0" width="8.0" height="5.0" fill="#e07a3a"/>
<rect x="3835.3" y="2449.5" width="6.0" height="6.0" fill="#8a8ae8"/>
<rect x="3865.3" y="2365.4" width="3.0" height="8.4" fill="#7a7ae0"/>
<rect x="3863.3" y="2439.0" width="8.0" height="5.0" fill="#e07a3a"/>
<rect x="3864.3" y="2449.5" width="6.0" height="6.0" fill="#8a8ae8"/>
<rect x="3894.3" y="2365.4" width="3.0" height="8.4" fill="#7a7ae0"/>
<rect x="3892.3" y="2439.0" width="8.0" height="5.0" fill="#e07a3a"/>
<rect x="3893.3" y="2449.5" width="6.0" height="6.0" fill="#8a8ae8"/>
<rect x="3923.3" y="2365.4" width="3.0" height="8.4" fill="#7a7ae0"/>
<rect x="3921.3" y="2439.0" width="8.0" height="5.0" fill="#e07a3a"/>
<rect x="3922.3" y="2449.5" width="6.0" height="6.0" fill="#8a8ae8"/>
<rect x="3952.3" y="2365.4" width="3.0" height="8.4" fill="#7a7ae0"/>
<rect x="3950.3" y="2439.0" width="8.0" height="5.0" fill="#e07a3a"/>
<rect x="3951.3" y="2449.5" width="6.0" height="6.0" fill="#8a8ae8"/>
<rect x="3838.3" y="2324.0" width="22.0" height="3.0" fill="#a8b8a8"/>
<rect x="3836.3" y="2329.0" width="30.0" height="5.0" fill="#86b07c"/>
<rect x="3862.3" y="2338.0" width="30.0" height="4.0" fill="#4a4ad0"/>
<rect x="3844.3" y="2342.0" width="12.0" height="5.0" fill="#d8c040"/>
<rect x="3834.3" y="2345.0" width="18.0" height="4.0" fill="#a8a8a8"/>
<rect x="3856.3" y="2344.5" width="34.0" height="5.0" fill="#b04434"/>
<rect x="3885.8" y="2401.0" width="5.5" height="5.0" fill="#16164a"/>
<rect x="3885.3" y="2406.0" width="6.5" height="10.0" fill="#e4eaf8"/>
<rect x="3884.8" y="2416.0" width="7.5" height="9.0" fill="#c8d4f0"/>
<rect x="3832.8" y="2403.0" width="4.5" height="4.5" fill="#1a1a4a"/>
<rect x="3832.3" y="2408.0" width="5.0" height="8.0" fill="#5a5ae0"/>
<rect x="3831.8" y="2416.0" width="6.0" height="8.0" fill="#78c0f0"/>
<rect x="3966.1" y="2320.0" width="137.0" height="137.7" fill="#4242cf"/>
<rect x="3966.1" y="2320.0" width="137.0" height="32.7" fill="#7b7b74"/>
<rect x="3966.1" y="2352.7" width="137.0" height="6.1" fill="#2f7a3a"/>
<rect x="3966.1" y="2358.8" width="137.0" height="3.6" fill="#9a5a34"/>
<rect x="3966.1" y="2362.4" width="137.0" height="3.0" fill="#c89c9c"/>
<rect x="3966.1" y="2365.4" width="137.0" height="8.4" fill="#3c46d2"/>
<rect x="3966.1" y="2373.8" width="137.0" height="6.4" fill="#c87a3a"/>
<rect x="3966.1" y="2380.2" width="137.0" height="3.6" fill="#6a5cc4"/>
<rect x="3966.1" y="2426.8" width="137.0" height="11.0" fill="#c4722c"/>
<rect x="3966.1" y="2437.8" width="137.0" height="11.0" fill="#b02c20"/>
<rect x="3966.1" y="2448.8" width="137.0" height="8.9" fill="#2e2ecc"/>
<rect x="3982.1" y="2365.4" width="3.0" height="8.4" fill="#7a7ae0"/>
<rect x="3980.1" y="2439.0" width="8.0" height="5.0" fill="#e07a3a"/>
<rect x="3981.1" y="2449.5" width="6.0" height="6.0" fill="#8a8ae8"/>
<rect x="4011.1" y="2365.4" width="3.0" height="8.4" fill="#7a7ae0"/>
<rect x="4009.1" y="2439.0" width="8.0" height="5.0" fill="#e07a3a"/>
<rect x="4010.1" y="2449.5" width="6.0" height="6.0" fill="#8a8ae8"/>
<rect x="4040.1" y="2365.4" width="3.0" height="8.4" fill="#7a7ae0"/>
<rect x="4038.1" y="2439.0" width="8.0" height="5.0" fill="#e07a3a"/>
<rect x="4039.1" y="2449.5" width="6.0" height="6.0" fill="#8a8ae8"/>
<rect x="4069.1" y="2365.4" width="3.0" height="8.4" fill="#7a7ae0"/>
<rect x="4067.1" y="2439.0" width="8.0" height="5.0" fill="#e07a3a"/>
<rect x="4068.1" y="2449.5" width="6.0" height="6.0" fill="#8a8ae8"/>
<rect x="4098.1" y="2365.4" width="3.0" height="8.4" fill="#7a7ae0"/>
<rect x="4096.1" y="2439.0" width="8.0" height="5.0" fill="#e07a3a"/>
<rect x="4097.1" y="2449.5" width="6.0" height="6.0" fill="#8a8ae8"/>
<rect x="3984.1" y="2324.0" width="22.0" height="3.0" fill="#a8b8a8"/>
<rect x="3982.1" y="2329.0" width="30.0" height="5.0" fill="#86b07c"/>
<rect x="4008.1" y="2338.0" width="30.0" height="4.0" fill="#4a4ad0"/>
<rect x="3990.1" y="2342.0" width="12.0" height="5.0" fill="#d8c040"/>
<rect x="3980.1" y="2345.0" width="18.0" height="4.0" fill="#a8a8a8"/>
<rect x="4002.1" y="2344.5" width="34.0" height="5.0" fill="#b04434"/>
<rect x="4033.6" y="2401.0" width="5.5" height="5.0" fill="#16164a"/>
<rect x="4033.1" y="2406.0" width="6.5" height="10.0" fill="#e4eaf8"/>
<rect x="4032.6" y="2416.0" width="7.5" height="9.0" fill="#c8d4f0"/>
<rect x="3986.6" y="2403.0" width="4.5" height="4.5" fill="#1a1a4a"/>
<rect x="3986.1" y="2408.0" width="5.0" height="8.0" fill="#5a5ae0"/>
<rect x="3985.6" y="2416.0" width="6.0" height="8.0" fill="#78c0f0"/>
<rect x="4111.8" y="2320.0" width="137.0" height="137.7" fill="#4242cf"/>
<rect x="4111.8" y="2320.0" width="137.0" height="32.7" fill="#7b7b74"/>
<rect x="4111.8" y="2352.7" width="137.0" height="6.1" fill="#2f7a3a"/>
<rect x="4111.8" y="2358.8" width="137.0" height="3.6" fill="#9a5a34"/>
<rect x="4111.8" y="2362.4" width="137.0" height="3.0" fill="#c89c9c"/>
<rect x="4111.8" y="2365.4" width="137.0" height="8.4" fill="#3c46d2"/>
<rect x="4111.8" y="2373.8" width="137.0" height="6.4" fill="#c87a3a"/>
<rect x="4111.8" y="2380.2" width="137.0" height="3.6" fill="#6a5cc4"/>
<rect x="4111.8" y="2426.8" width="137.0" height="11.0" fill="#c4722c"/>
<rect x="4111.8" y="2437.8" width="137.0" height="11.0" fill="#b02c20"/>
<rect x="4111.8" y="2448.8" width="137.0" height="8.9" fill="#2e2ecc"/>
<rect x="4127.8" y="2365.4" width="3.0" height="8.4" fill="#7a7ae0"/>
<rect x="4125.8" y="2439.0" width="8.0" height="5.0" fill="#e07a3a"/>
<rect x="4126.8" y="2449.5" width="6.0" height="6.0" fill="#8a8ae8"/>
<rect x="4156.8" y="2365.4" width="3.0" height="8.4" fill="#7a7ae0"/>
<rect x="4154.8" y="2439.0" width="8.0" height="5.0" fill="#e07a3a"/>
<rect x="4155.8" y="2449.5" width="6.0" height="6.0" fill="#8a8ae8"/>
<rect x="4185.8" y="2365.4" width="3.0" height="8.4" fill="#7a7ae0"/>
<rect x="4183.8" y="2439.0" width="8.0" height="5.0" fill="#e07a3a"/>
<rect x="4184.8" y="2449.5" width="6.0" height="6.0" fill="#8a8ae8"/>
<rect x="4214.8" y="2365.4" width="3.0" height="8.4" fill="#7a7ae0"/>
<rect x="4212.8" y="2439.0" width="8.0" height="5.0" fill="#e07a3a"/>
<rect x="4213.8" y="2449.5" width="6.0" height="6.0" fill="#8a8ae8"/>
<rect x="4243.8" y="2365.4" width="3.0" height="8.4" fill="#7a7ae0"/>
<rect x="4241.8" y="2439.0" width="8.0" height="5.0" fill="#e07a3a"/>
<rect x="4242.8" y="2449.5" width="6.0" height="6.0" fill="#8a8ae8"/>
<rect x="4129.8" y="2324.0" width="22.0" height="3.0" fill="#a8b8a8"/>
<rect x="4127.8" y="2329.0" width="30.0" height="5.0" fill="#86b07c"/>
<rect x="4153.8" y="2338.0" width="30.0" height="4.0" fill="#4a4ad0"/>
<rect x="4135.8" y="2342.0" width="12.0" height="5.0" fill="#d8c040"/>
<rect x="4125.8" y="2345.0" width="18.0" height="4.0" fill="#a8a8a8"/>
<rect x="4147.8" y="2344.5" width="34.0" height="5.0" fill="#b04434"/>
<rect x="4180.3" y="2401.0" width="5.5" height="5.0" fill="#16164a"/>
<rect x="4179.8" y="2406.0" width="6.5" height="10.0" fill="#e4eaf8"/>
<rect x="4179.3" y="2416.0" width="7.5" height="9.0" fill="#c8d4f0"/>
<rect x="4113.8" y="2403.0" width="4.5" height="4.5" fill="#1a1a4a"/>
<rect x="4113.3" y="2408.0" width="5.0" height="8.0" fill="#5a5ae0"/>
<rect x="4112.8" y="2416.0" width="6.0" height="8.0" fill="#78c0f0"/>
<rect x="4137.8" y="2403.0" width="4.5" height="4.5" fill="#1a1a4a"/>
<rect x="4137.3" y="2408.0" width="5.0" height="8.0" fill="#5a5ae0"/>
<rect x="4136.8" y="2416.0" width="6.0" height="8.0" fill="#78c0f0"/>
<rect x="2941.6" y="1877.8" width="145.2" height="583.5" fill="none" stroke="#14c014" stroke-width="4.3"/>
<rect x="3816.2" y="2024.8" width="290.3" height="144.5" fill="none" stroke="#1aa0e8" stroke-width="4.3"/>
<text x="2942.6" y="2540.7" font-size="34.04" fill="#616161" textLength="1303.0" lengthAdjust="spacingAndGlyphs"><tspan font-weight="bold">Four imagined trajectories in <tspan font-style="italic">Kung-Fu Master</tspan>.</tspan> From the same conditioning frame, the</text>
<text x="2944.1" y="2584.8" font-size="34.04" fill="#616161" textLength="1267.0" lengthAdjust="spacingAndGlyphs">world model generates different types and numbers of opponents in each simulation.</text>
<text x="1861.1" y="2420.9" font-size="39.56" fill="#4a4a4a" textLength="159.7" lengthAdjust="spacingAndGlyphs">Mean (↑)</text>
<text x="2253.6" y="2420.9" font-size="39.56" fill="#4a4a4a" textLength="393.9" lengthAdjust="spacingAndGlyphs">Interquartile Mean (↑)</text>
<line x1="1806.4" y1="2470.0" x2="1806.4" y2="2756.0" stroke="#eeeeee" stroke-width="1.2" />
<line x1="1927.7" y1="2470.0" x2="1927.7" y2="2756.0" stroke="#eeeeee" stroke-width="1.2" />
<line x1="2049.4" y1="2470.0" x2="2049.4" y2="2756.0" stroke="#eeeeee" stroke-width="1.2" />
<line x1="2275.7" y1="2470.0" x2="2275.7" y2="2756.0" stroke="#eeeeee" stroke-width="1.2" />
<line x1="2411.2" y1="2470.0" x2="2411.2" y2="2756.0" stroke="#eeeeee" stroke-width="1.2" />
<line x1="2546.7" y1="2470.0" x2="2546.7" y2="2756.0" stroke="#eeeeee" stroke-width="1.2" />
<rect x="1642.0" y="2339.3" width="174.5" height="166.2" fill="#fff" stroke="#dddddd" stroke-width="1.5" rx="4"/>
<rect x="1650.0" y="2350.3" width="41.3" height="16.0" fill="#3a97cb"/>
<text x="1703.5" y="2365.6" font-size="22.40" fill="#4a4a4a" textLength="103.6" lengthAdjust="spacingAndGlyphs">IRIS (ours)</text>
<rect x="1650.0" y="2382.2" width="41.3" height="16.0" fill="#e6a84c"/>
<text x="1704.7" y="2396.2" font-size="22.40" fill="#4a4a4a" textLength="38.3" lengthAdjust="spacingAndGlyphs">SPR</text>
<rect x="1650.0" y="2414.1" width="41.3" height="16.0" fill="#3cb38e"/>
<text x="1705.3" y="2429.4" font-size="22.40" fill="#4a4a4a" textLength="36.8" lengthAdjust="spacingAndGlyphs">DrQ</text>
<rect x="1650.0" y="2446.0" width="41.3" height="16.0" fill="#d9a3c4"/>
<text x="1706.1" y="2460.8" font-size="22.40" fill="#4a4a4a" textLength="50.0" lengthAdjust="spacingAndGlyphs">CURL</text>
<rect x="1650.0" y="2477.9" width="41.3" height="16.0" fill="#b3b3b3"/>
<text x="1704.6" y="2492.8" font-size="22.40" fill="#4a4a4a" textLength="72.4" lengthAdjust="spacingAndGlyphs">SimPLe</text>
<line x1="1685.0" y1="2760.8" x2="2133.4" y2="2760.8" stroke="#333" stroke-width="2.2" />
<line x1="2228.4" y1="2757.0" x2="2671.6" y2="2757.0" stroke="#333" stroke-width="2.2" />
<text x="1777.2" y="2784.7" font-size="24.73" fill="#333" textLength="58.9" lengthAdjust="spacingAndGlyphs">0.50</text>
<text x="1898.8" y="2784.7" font-size="24.73" fill="#333" textLength="57.6" lengthAdjust="spacingAndGlyphs">0.75</text>
<text x="2019.5" y="2784.7" font-size="24.73" fill="#333" textLength="58.5" lengthAdjust="spacingAndGlyphs">1.00</text>
<text x="2247.9" y="2781.5" font-size="24.73" fill="#333" textLength="56.6" lengthAdjust="spacingAndGlyphs">0.15</text>
<text x="2382.4" y="2781.5" font-size="24.73" fill="#333" textLength="57.5" lengthAdjust="spacingAndGlyphs">0.30</text>
<text x="2517.4" y="2781.5" font-size="24.73" fill="#333" textLength="57.6" lengthAdjust="spacingAndGlyphs">0.45</text>
<text x="1876.5" y="2753.0" font-size="18.33" fill="#444" textLength="257.9" lengthAdjust="spacingAndGlyphs">Human Normalized Score (HNS)</text>
<text x="2637.1" y="2753.0" font-size="18.33" fill="#444" textLength="35.2" lengthAdjust="spacingAndGlyphs">HNS</text>
<rect x="2033.3" y="2484.0" width="77.1" height="31.5" fill="#3a97cb"/>
<line x1="2072.3" y1="2484.0" x2="2072.3" y2="2515.5" stroke="#333" stroke-width="1.5" />
<rect x="1854.7" y="2540.0" width="17.3" height="31.5" fill="#e6a84c"/>
<line x1="1863.4" y1="2540.0" x2="1863.4" y2="2571.5" stroke="#333" stroke-width="1.5" />
<rect x="1785.8" y="2595.5" width="8.2" height="31.5" fill="#3cb38e"/>
<line x1="1790.0" y1="2595.5" x2="1790.0" y2="2627.0" stroke="#333" stroke-width="1.5" />
<rect x="1687.5" y="2651.5" width="6.0" height="31.5" fill="#d9a3c4"/>
<line x1="1690.5" y1="2651.5" x2="1690.5" y2="2683.0" stroke="#333" stroke-width="1.5" />
<rect x="1701.7" y="2708.0" width="46.3" height="31.5" fill="#b3b3b3"/>
<line x1="1724.7" y1="2708.0" x2="1724.7" y2="2739.5" stroke="#333" stroke-width="1.5" />
<rect x="2539.3" y="2484.0" width="110.2" height="31.5" fill="#3a97cb"/>
<line x1="2592.6" y1="2484.0" x2="2592.6" y2="2515.5" stroke="#333" stroke-width="1.5" />
<rect x="2435.0" y="2540.0" width="19.4" height="31.5" fill="#e6a84c"/>
<line x1="2445.2" y1="2540.0" x2="2445.2" y2="2571.5" stroke="#333" stroke-width="1.5" />
<rect x="2386.0" y="2595.0" width="14.6" height="31.5" fill="#3cb38e"/>
<line x1="2393.5" y1="2595.0" x2="2393.5" y2="2626.5" stroke="#333" stroke-width="1.5" />
<rect x="2239.0" y="2651.0" width="7.8" height="31.5" fill="#d9a3c4"/>
<line x1="2243.0" y1="2651.0" x2="2243.0" y2="2682.5" stroke="#333" stroke-width="1.5" />
<rect x="2230.7" y="2705.7" width="60.6" height="31.5" fill="#b3b3b3"/>
<line x1="2257.4" y1="2705.7" x2="2257.4" y2="2737.2" stroke="#333" stroke-width="1.5" />
</svg>
</body></html>
